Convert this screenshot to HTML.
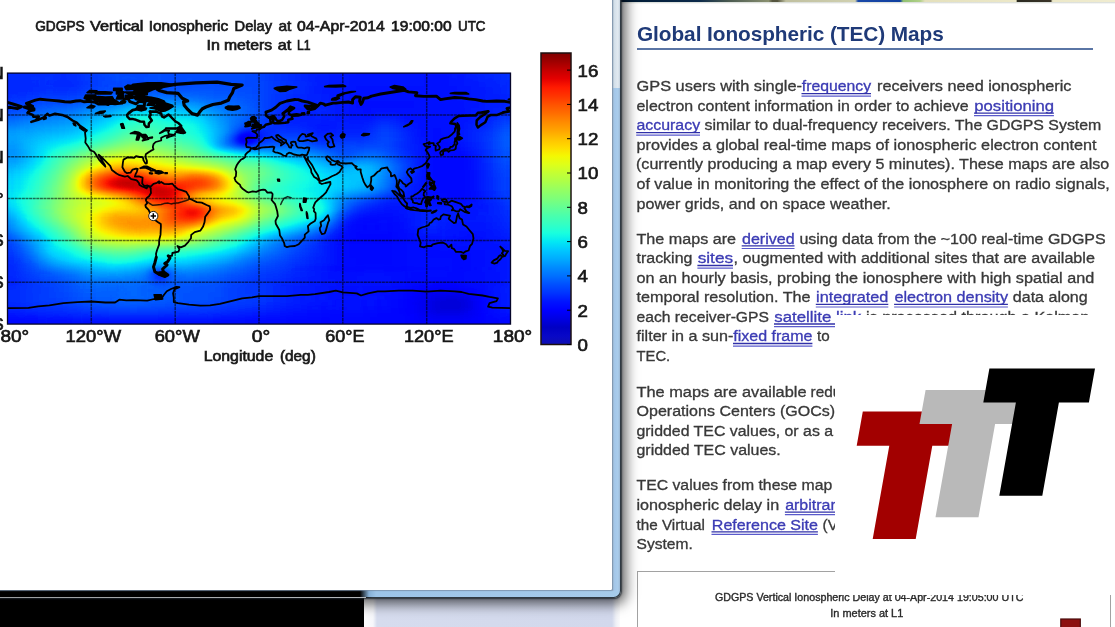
<!DOCTYPE html><html><head><meta charset="utf-8"><title>Global Ionospheric (TEC) Maps</title><style>
html,body{margin:0;padding:0;background:#fff;}
body{width:1115px;height:627px;overflow:hidden;position:relative;font-family:"Liberation Sans",sans-serif;}
.abs{position:absolute;}
#page{position:absolute;left:0;top:0;width:1115px;height:627px;filter:blur(0.35px);}
</style></head><body>
<div id="page">
<div class="abs" style="left:620px;top:0;width:495px;height:2.4px;background:linear-gradient(90deg,#001a35 0,#0c2a4a 16%,#4a5a50 22%,#8a9070 30%,#55553f 30.8%,#55553f 31.8%,#c0c0a0 33.5%,#d0d0b0 47.5%,#1a48a8 48.1%,#1040a0 56.6%,#90c070 57.2%,#b0d088 60.6%,#e4e0bc 61.6%,#ece8c8 80%,#2a2a20 80.3%,#3a3428 87%,#ece8c8 87.4%,#f0ecd0 100%)"></div>
<div class="abs" style="left:620px;top:2.4px;width:495px;height:2px;background:linear-gradient(180deg,rgba(190,198,190,.7),rgba(255,255,255,0))"></div>
<svg class="abs" style="left:620px;top:10px" width="495" height="45" viewBox="620 10 495 45" font-family="Liberation Sans, sans-serif"><text x="637.0" y="41.4" font-size="20.8" font-weight="bold" fill="#1f3a78" textLength="306.8" lengthAdjust="spacing">Global Ionospheric (TEC) Maps</text></svg>
<div class="abs" style="left:637px;top:48.1px;width:455.5px;height:1.8px;background:#5a75a5"></div>
<svg class="abs" style="left:620px;top:60px" width="495" height="510" viewBox="620 60 495 510" font-family="Liberation Sans, sans-serif" font-size="15.3" fill="#383838"><g stroke="#383838" stroke-width="0.32" paint-order="stroke"><text x="636.5" y="91.3" textLength="165.5" lengthAdjust="spacingAndGlyphs">GPS users with single-</text><text x="801.8" y="91.3" textLength="69.3" lengthAdjust="spacingAndGlyphs" fill="#3b3bb4" stroke="#3b3bb4">frequency</text><path d="M801.5,95.4H871.0" stroke="#fff" stroke-width="2.6"/><path d="M801.5,93.6H871.0" stroke="#3030a8" stroke-width="1.3"/><path d="M801.5,96.2H871.0" stroke="#5a5acc" stroke-width="1.2"/><text x="877.0" y="91.3" textLength="194.4" lengthAdjust="spacingAndGlyphs">receivers need ionospheric</text><text x="636.5" y="110.8" textLength="332.1" lengthAdjust="spacingAndGlyphs">electron content information in order to achieve</text><text x="974.3" y="110.8" textLength="79.7" lengthAdjust="spacingAndGlyphs" fill="#3b3bb4" stroke="#3b3bb4">positioning</text><path d="M974.0,114.9H1053.9" stroke="#fff" stroke-width="2.6"/><path d="M974.0,113.1H1053.9" stroke="#3030a8" stroke-width="1.3"/><path d="M974.0,115.7H1053.9" stroke="#5a5acc" stroke-width="1.2"/><text x="636.5" y="130.3" textLength="63.6" lengthAdjust="spacingAndGlyphs" fill="#3b3bb4" stroke="#3b3bb4">accuracy</text><path d="M636.2,134.4H700.0" stroke="#fff" stroke-width="2.6"/><path d="M636.2,132.6H700.0" stroke="#3030a8" stroke-width="1.3"/><path d="M636.2,135.2H700.0" stroke="#5a5acc" stroke-width="1.2"/><text x="704.6" y="130.3" textLength="396.7" lengthAdjust="spacingAndGlyphs">similar to dual-frequency receivers. The GDGPS System</text><text x="636.5" y="149.8" textLength="460.1" lengthAdjust="spacingAndGlyphs">provides a global real-time maps of ionospheric electron content</text><text x="636.0" y="169.4" textLength="473.2" lengthAdjust="spacingAndGlyphs">(currently producing a map every 5 minutes). These maps are also</text><text x="636.5" y="188.9" textLength="473.2" lengthAdjust="spacingAndGlyphs">of value in monitoring the effect of the ionosphere on radio signals,</text><text x="636.5" y="208.5" textLength="254.3" lengthAdjust="spacingAndGlyphs">power grids, and on space weather.</text><text x="636.5" y="243.6" textLength="99.5" lengthAdjust="spacingAndGlyphs">The maps are</text><text x="742.0" y="243.6" textLength="52.6" lengthAdjust="spacingAndGlyphs" fill="#3b3bb4" stroke="#3b3bb4">derived</text><path d="M741.7,247.7H794.5" stroke="#fff" stroke-width="2.6"/><path d="M741.7,245.9H794.5" stroke="#3030a8" stroke-width="1.3"/><path d="M741.7,248.5H794.5" stroke="#5a5acc" stroke-width="1.2"/><text x="799.4" y="243.6" textLength="306.3" lengthAdjust="spacingAndGlyphs">using data from the ~100 real-time GDGPS</text><text x="636.5" y="263.2" textLength="55.9" lengthAdjust="spacingAndGlyphs">tracking</text><text x="697.7" y="263.2" textLength="35.4" lengthAdjust="spacingAndGlyphs" fill="#3b3bb4" stroke="#3b3bb4">sites</text><path d="M697.4,267.3H733.0" stroke="#fff" stroke-width="2.6"/><path d="M697.4,265.5H733.0" stroke="#3030a8" stroke-width="1.3"/><path d="M697.4,268.1H733.0" stroke="#5a5acc" stroke-width="1.2"/><text x="733.6" y="263.2" textLength="361.3" lengthAdjust="spacingAndGlyphs">, ougmented with additional sites that are available</text><text x="636.5" y="282.6" textLength="457.7" lengthAdjust="spacingAndGlyphs">on an hourly basis, probing the ionosphere with high spatial and</text><text x="636.5" y="302.1" textLength="174.1" lengthAdjust="spacingAndGlyphs">temporal resolution. The</text><text x="816.1" y="302.1" textLength="72.3" lengthAdjust="spacingAndGlyphs" fill="#3b3bb4" stroke="#3b3bb4">integrated</text><path d="M815.8,306.2H888.3" stroke="#fff" stroke-width="2.6"/><path d="M815.8,304.4H888.3" stroke="#3030a8" stroke-width="1.3"/><path d="M815.8,307.0H888.3" stroke="#5a5acc" stroke-width="1.2"/><text x="894.4" y="302.1" textLength="113.6" lengthAdjust="spacingAndGlyphs" fill="#3b3bb4" stroke="#3b3bb4">electron density</text><path d="M894.1,306.2H1007.9" stroke="#fff" stroke-width="2.6"/><path d="M894.1,304.4H1007.9" stroke="#3030a8" stroke-width="1.3"/><path d="M894.1,307.0H1007.9" stroke="#5a5acc" stroke-width="1.2"/><text x="1012.8" y="302.1" textLength="74.9" lengthAdjust="spacingAndGlyphs">data along</text><text x="636.5" y="321.7" textLength="132.5" lengthAdjust="spacingAndGlyphs">each receiver-GPS</text><text x="774.3" y="321.7" textLength="86.9" lengthAdjust="spacingAndGlyphs" fill="#3b3bb4" stroke="#3b3bb4">satellite link</text><path d="M774.0,325.8H861.1" stroke="#fff" stroke-width="2.6"/><path d="M774.0,324.0H861.1" stroke="#3030a8" stroke-width="1.3"/><path d="M774.0,326.6H861.1" stroke="#5a5acc" stroke-width="1.2"/><text x="866.0" y="321.7" textLength="223.4" lengthAdjust="spacingAndGlyphs">is processed through a Kalman</text><text x="636.5" y="341.2" textLength="96.8" lengthAdjust="spacingAndGlyphs">filter in a sun-</text><text x="733.3" y="341.2" textLength="79.2" lengthAdjust="spacingAndGlyphs" fill="#3b3bb4" stroke="#3b3bb4">fixed frame</text><path d="M733.0,345.3H812.4" stroke="#fff" stroke-width="2.6"/><path d="M733.0,343.5H812.4" stroke="#3030a8" stroke-width="1.3"/><path d="M733.0,346.1H812.4" stroke="#5a5acc" stroke-width="1.2"/><text x="817.0" y="341.2" textLength="12.7" lengthAdjust="spacingAndGlyphs">to</text><text x="636.5" y="360.7" textLength="33.7" lengthAdjust="spacingAndGlyphs">TEC.</text><text x="636.5" y="396.8" textLength="170.0" lengthAdjust="spacingAndGlyphs">The maps are available</text><text x="810.6" y="396.8">reduced</text><text x="636.5" y="416.4" textLength="198.7" lengthAdjust="spacingAndGlyphs">Operations Centers (GOCs)</text><text x="636.5" y="435.8" textLength="196.6" lengthAdjust="spacingAndGlyphs">gridded TEC values, or as a</text><text x="636.5" y="455.3" textLength="144.2" lengthAdjust="spacingAndGlyphs">gridded TEC values.</text><text x="636.5" y="490.2" textLength="195.7" lengthAdjust="spacingAndGlyphs">TEC values from these map</text><text x="636.5" y="509.8" textLength="142.7" lengthAdjust="spacingAndGlyphs">ionospheric delay in</text><text x="785.2" y="509.8" textLength="58.5" lengthAdjust="spacingAndGlyphs" fill="#3b3bb4" stroke="#3b3bb4">arbitrary</text><path d="M784.9,513.9H843.6" stroke="#fff" stroke-width="2.6"/><path d="M784.9,512.1H843.6" stroke="#3030a8" stroke-width="1.3"/><path d="M784.9,514.7H843.6" stroke="#5a5acc" stroke-width="1.2"/><text x="636.5" y="529.5" textLength="68.4" lengthAdjust="spacingAndGlyphs">the Virtual</text><text x="711.8" y="529.5" textLength="106.2" lengthAdjust="spacingAndGlyphs" fill="#3b3bb4" stroke="#3b3bb4">Reference Site</text><path d="M711.5,533.6H817.9" stroke="#fff" stroke-width="2.6"/><path d="M711.5,531.8H817.9" stroke="#3030a8" stroke-width="1.3"/><path d="M711.5,534.4H817.9" stroke="#5a5acc" stroke-width="1.2"/><text x="822.6" y="529.5">(VRS)</text><text x="636.5" y="549.2" textLength="56.2" lengthAdjust="spacingAndGlyphs">System.</text></g></svg>
<div class="abs" style="left:636.7px;top:570.5px;width:474px;height:80px;border:1.4px solid #a2a2a2;box-sizing:border-box"></div>
<svg class="abs" style="left:620px;top:560px" width="495" height="67" viewBox="620 560 495 67" font-family="Liberation Sans, sans-serif" fill="#2a2a2a" stroke="#2a2a2a" stroke-width="0.35" font-size="10.2"><text x="714.9" y="600.6" textLength="308.5" lengthAdjust="spacingAndGlyphs">GDGPS Vertical Ionospheric Delay at 04-Apr-2014 19:05:00 UTC</text><text x="830.3" y="617.3" textLength="73" lengthAdjust="spacingAndGlyphs">In meters at L1</text><rect x="1060.8" y="619" width="19.5" height="10" fill="#8c1010" stroke="#4a0c0c" stroke-width="1.2"/></svg>
</div>
<div class="abs" style="left:835px;top:314.7px;width:280px;height:280px;background:#fff"></div>
<svg class="abs" style="left:835px;top:318px;filter:blur(0.3px)" width="280" height="277" viewBox="835 318 280 277"><polygon points="862.8,411.6 968.4,411.6 962.3,445.7 932.3,445.7 915.7,538.9 872.7,538.9 889.3,445.7 856.7,445.7" fill="#a20000"/><polygon points="925.6,389.9 1031.2,389.9 1025.1,424.0 995.1,424.0 978.5,517.2 935.5,517.2 952.1,424.0 919.5,424.0" fill="#b9b9b9"/><polygon points="989.4,368.5 1095.0,368.5 1088.9,402.6 1058.9,402.6 1042.3,495.8 999.3,495.8 1015.9,402.6 983.3,402.6" fill="#000"/></svg>
<div class="abs" style="left:0;top:585px;width:364.2px;height:42px;background:#000"></div>
<div class="abs" style="left:364.2px;top:590px;width:256px;height:37px;background:linear-gradient(90deg,#fdfdfe 0,#f6f7fb 9px,#d6dcee 13px,#d2d8ec 248px,#eef0f6 252px,#fafafc 256px)"></div>
<div class="abs" style="left:-20px;top:-20px;width:640.6px;height:617.8px;border-radius:0 0 7px 0;box-shadow:0 0 1.5px 0.5px rgba(30,38,46,.8), 2px 3px 13px 3px rgba(0,0,0,.62);background:linear-gradient(90deg,#000 0,#000 381px,#2f3942 392px)"></div>
<div class="abs" style="left:-20px;top:-20px;width:640px;height:617.2px;border-radius:0 0 6.5px 0;background:linear-gradient(90deg,#000 0,#000 380px,#86b0d6 389px,#9cc4e8 396px,#a6cbea 100%)"></div>
<div class="abs" style="left:0;top:597px;width:366px;height:1.4px;background:linear-gradient(90deg,#9a9da0 0,#b4b8bc 100%)"></div>
<div class="abs" style="left:612.3px;top:0;width:7.7px;height:591px;background:linear-gradient(90deg,#9fb6cc 0,#a3c6e8 30%,#aacdec 75%,#9ab6d2 100%)"></div>
<div class="abs" style="left:612.3px;top:0;width:7.7px;height:88px;background:linear-gradient(90deg,#a9bac8 0,#d3dfe9 30%,#e2eaf1 75%,#c3d0dc 100%)"></div>
<div class="abs" style="left:0;top:0;width:612.3px;height:590.4px;background:#fff;border-radius:0 0 1.5px 0;box-shadow:0 0 1px 0.3px rgba(120,140,165,.8)"></div>
<svg width="620" height="600" viewBox="0 0 620 600" style="position:absolute;left:0;top:0;filter:blur(0.4px)" font-family="Liberation Sans, sans-serif" fill="#1a1a1a">
<defs><filter id="jet" x="0" y="0" width="100%" height="100%" filterUnits="userSpaceOnUse" color-interpolation-filters="sRGB"><feGaussianBlur stdDeviation="3.2"/><feComponentTransfer><feFuncR type="table" tableValues="0 0 0 0 0 0 0 0 0 0 0 0 0 0 0 0 0 0 0.009 0.073 0.136 0.199 0.262 0.326 0.389 0.452 0.515 0.579 0.642 0.705 0.769 0.832 0.895 0.958 1 1 1 1 1 1 1 1 1 1 1 1 0.946 0.857 0.767 0.678 0.589 0.5"/><feFuncG type="table" tableValues="0 0 0 0 0 0 0 0.049 0.127 0.206 0.284 0.363 0.441 0.52 0.598 0.676 0.755 0.833 0.912 0.99 1 1 1 1 1 1 1 1 1 1 1 1 1 0.974 0.901 0.829 0.756 0.683 0.611 0.538 0.466 0.393 0.32 0.248 0.175 0.102 0.03 0 0 0 0 0"/><feFuncB type="table" tableValues="0.5 0.589 0.678 0.767 0.857 0.946 1 1 1 1 1 1 1 1 1 1 1 1 0.958 0.895 0.832 0.769 0.705 0.642 0.579 0.515 0.452 0.389 0.326 0.262 0.199 0.136 0.073 0.009 0 0 0 0 0 0 0 0 0 0 0 0 0 0 0 0 0 0"/><feFuncA type="linear" slope="0" intercept="1"/></feComponentTransfer></filter><linearGradient id="cb" x1="0" y1="0" x2="0" y2="1"><stop offset="0.0000" stop-color="#800000"/><stop offset="0.0294" stop-color="#9f0000"/><stop offset="0.0588" stop-color="#c40000"/><stop offset="0.0882" stop-color="#e40000"/><stop offset="0.1176" stop-color="#ff1a00"/><stop offset="0.1471" stop-color="#ff3400"/><stop offset="0.1765" stop-color="#ff5200"/><stop offset="0.2059" stop-color="#ff6c00"/><stop offset="0.2353" stop-color="#ff8900"/><stop offset="0.2647" stop-color="#ffa300"/><stop offset="0.2941" stop-color="#ffc100"/><stop offset="0.3235" stop-color="#ffdb00"/><stop offset="0.3529" stop-color="#f4f802"/><stop offset="0.3824" stop-color="#deff19"/><stop offset="0.4118" stop-color="#c4ff33"/><stop offset="0.4412" stop-color="#adff49"/><stop offset="0.4706" stop-color="#94ff63"/><stop offset="0.5000" stop-color="#7dff7a"/><stop offset="0.5294" stop-color="#63ff94"/><stop offset="0.5588" stop-color="#49ffad"/><stop offset="0.5882" stop-color="#33ffc4"/><stop offset="0.6176" stop-color="#19ffde"/><stop offset="0.6471" stop-color="#02e8f4"/><stop offset="0.6765" stop-color="#00c8ff"/><stop offset="0.7059" stop-color="#00acff"/><stop offset="0.7353" stop-color="#008cff"/><stop offset="0.7647" stop-color="#0070ff"/><stop offset="0.7941" stop-color="#0050ff"/><stop offset="0.8235" stop-color="#0034ff"/><stop offset="0.8529" stop-color="#0014ff"/><stop offset="0.8824" stop-color="#0000ff"/><stop offset="0.9118" stop-color="#0000e3"/><stop offset="0.9412" stop-color="#0000c4"/><stop offset="0.9706" stop-color="#0808c7"/><stop offset="1.0000" stop-color="#0f0fb2"/></linearGradient><clipPath id="mc"><rect x="7.5" y="73.1" width="503.0" height="251.0"/></clipPath><filter id="soft" x="-5%" y="-5%" width="110%" height="110%"><feGaussianBlur stdDeviation="0.7"/></filter><filter id="soft2"><feGaussianBlur stdDeviation="0.35"/></filter></defs>
<g clip-path="url(#mc)"><g filter="url(#jet)"><rect x="-13.5" y="52.2" width="70.2" height="7.3" fill="#2c2c2c"/>
<rect x="56.4" y="52.2" width="14.3" height="7.3" fill="#2b2b2b"/>
<rect x="70.4" y="52.2" width="7.3" height="7.3" fill="#2c2c2c"/>
<rect x="77.4" y="52.2" width="7.3" height="7.3" fill="#2d2d2d"/>
<rect x="84.3" y="52.2" width="7.3" height="7.3" fill="#2f2f2f"/>
<rect x="91.3" y="52.2" width="7.3" height="7.3" fill="#303030"/>
<rect x="98.3" y="52.2" width="7.3" height="7.3" fill="#313131"/>
<rect x="105.3" y="52.2" width="7.3" height="7.3" fill="#323232"/>
<rect x="112.3" y="52.2" width="42.2" height="7.3" fill="#333333"/>
<rect x="154.2" y="52.2" width="84.1" height="7.3" fill="#343434"/>
<rect x="238.0" y="52.2" width="14.3" height="7.3" fill="#333333"/>
<rect x="252.0" y="52.2" width="7.3" height="7.3" fill="#323232"/>
<rect x="259.0" y="52.2" width="7.3" height="7.3" fill="#313131"/>
<rect x="266.0" y="52.2" width="7.3" height="7.3" fill="#2f2f2f"/>
<rect x="273.0" y="52.2" width="7.3" height="7.3" fill="#2e2e2e"/>
<rect x="280.0" y="52.2" width="7.3" height="7.3" fill="#2d2d2d"/>
<rect x="286.9" y="52.2" width="7.3" height="7.3" fill="#2c2c2c"/>
<rect x="293.9" y="52.2" width="7.3" height="7.3" fill="#2b2b2b"/>
<rect x="300.9" y="52.2" width="7.3" height="7.3" fill="#2a2a2a"/>
<rect x="307.9" y="52.2" width="7.3" height="7.3" fill="#292929"/>
<rect x="314.9" y="52.2" width="14.3" height="7.3" fill="#282828"/>
<rect x="328.9" y="52.2" width="14.3" height="7.3" fill="#272727"/>
<rect x="342.8" y="52.2" width="14.3" height="7.3" fill="#262626"/>
<rect x="356.8" y="52.2" width="98.1" height="7.3" fill="#252525"/>
<rect x="454.6" y="52.2" width="14.3" height="7.3" fill="#262626"/>
<rect x="468.6" y="52.2" width="7.3" height="7.3" fill="#272727"/>
<rect x="475.6" y="52.2" width="7.3" height="7.3" fill="#282828"/>
<rect x="482.6" y="52.2" width="7.3" height="7.3" fill="#292929"/>
<rect x="489.5" y="52.2" width="7.3" height="7.3" fill="#2a2a2a"/>
<rect x="496.5" y="52.2" width="7.3" height="7.3" fill="#2b2b2b"/>
<rect x="503.5" y="52.2" width="28.2" height="7.3" fill="#2c2c2c"/>
<rect x="-13.5" y="59.2" width="70.2" height="7.3" fill="#2c2c2c"/>
<rect x="56.4" y="59.2" width="14.3" height="7.3" fill="#2b2b2b"/>
<rect x="70.4" y="59.2" width="7.3" height="7.3" fill="#2c2c2c"/>
<rect x="77.4" y="59.2" width="7.3" height="7.3" fill="#2d2d2d"/>
<rect x="84.3" y="59.2" width="7.3" height="7.3" fill="#2f2f2f"/>
<rect x="91.3" y="59.2" width="7.3" height="7.3" fill="#303030"/>
<rect x="98.3" y="59.2" width="7.3" height="7.3" fill="#313131"/>
<rect x="105.3" y="59.2" width="7.3" height="7.3" fill="#323232"/>
<rect x="112.3" y="59.2" width="42.2" height="7.3" fill="#333333"/>
<rect x="154.2" y="59.2" width="84.1" height="7.3" fill="#343434"/>
<rect x="238.0" y="59.2" width="14.3" height="7.3" fill="#333333"/>
<rect x="252.0" y="59.2" width="7.3" height="7.3" fill="#323232"/>
<rect x="259.0" y="59.2" width="7.3" height="7.3" fill="#313131"/>
<rect x="266.0" y="59.2" width="7.3" height="7.3" fill="#2f2f2f"/>
<rect x="273.0" y="59.2" width="7.3" height="7.3" fill="#2e2e2e"/>
<rect x="280.0" y="59.2" width="7.3" height="7.3" fill="#2d2d2d"/>
<rect x="286.9" y="59.2" width="7.3" height="7.3" fill="#2c2c2c"/>
<rect x="293.9" y="59.2" width="7.3" height="7.3" fill="#2b2b2b"/>
<rect x="300.9" y="59.2" width="7.3" height="7.3" fill="#2a2a2a"/>
<rect x="307.9" y="59.2" width="7.3" height="7.3" fill="#292929"/>
<rect x="314.9" y="59.2" width="14.3" height="7.3" fill="#282828"/>
<rect x="328.9" y="59.2" width="14.3" height="7.3" fill="#272727"/>
<rect x="342.8" y="59.2" width="14.3" height="7.3" fill="#262626"/>
<rect x="356.8" y="59.2" width="98.1" height="7.3" fill="#252525"/>
<rect x="454.6" y="59.2" width="14.3" height="7.3" fill="#262626"/>
<rect x="468.6" y="59.2" width="7.3" height="7.3" fill="#272727"/>
<rect x="475.6" y="59.2" width="7.3" height="7.3" fill="#282828"/>
<rect x="482.6" y="59.2" width="7.3" height="7.3" fill="#292929"/>
<rect x="489.5" y="59.2" width="7.3" height="7.3" fill="#2a2a2a"/>
<rect x="496.5" y="59.2" width="7.3" height="7.3" fill="#2b2b2b"/>
<rect x="503.5" y="59.2" width="28.2" height="7.3" fill="#2c2c2c"/>
<rect x="-13.5" y="66.1" width="70.2" height="7.3" fill="#2c2c2c"/>
<rect x="56.4" y="66.1" width="14.3" height="7.3" fill="#2b2b2b"/>
<rect x="70.4" y="66.1" width="7.3" height="7.3" fill="#2c2c2c"/>
<rect x="77.4" y="66.1" width="7.3" height="7.3" fill="#2d2d2d"/>
<rect x="84.3" y="66.1" width="7.3" height="7.3" fill="#2f2f2f"/>
<rect x="91.3" y="66.1" width="7.3" height="7.3" fill="#303030"/>
<rect x="98.3" y="66.1" width="7.3" height="7.3" fill="#313131"/>
<rect x="105.3" y="66.1" width="7.3" height="7.3" fill="#323232"/>
<rect x="112.3" y="66.1" width="42.2" height="7.3" fill="#333333"/>
<rect x="154.2" y="66.1" width="84.1" height="7.3" fill="#343434"/>
<rect x="238.0" y="66.1" width="14.3" height="7.3" fill="#333333"/>
<rect x="252.0" y="66.1" width="7.3" height="7.3" fill="#323232"/>
<rect x="259.0" y="66.1" width="7.3" height="7.3" fill="#313131"/>
<rect x="266.0" y="66.1" width="7.3" height="7.3" fill="#2f2f2f"/>
<rect x="273.0" y="66.1" width="7.3" height="7.3" fill="#2e2e2e"/>
<rect x="280.0" y="66.1" width="7.3" height="7.3" fill="#2d2d2d"/>
<rect x="286.9" y="66.1" width="7.3" height="7.3" fill="#2c2c2c"/>
<rect x="293.9" y="66.1" width="7.3" height="7.3" fill="#2b2b2b"/>
<rect x="300.9" y="66.1" width="7.3" height="7.3" fill="#2a2a2a"/>
<rect x="307.9" y="66.1" width="7.3" height="7.3" fill="#292929"/>
<rect x="314.9" y="66.1" width="14.3" height="7.3" fill="#282828"/>
<rect x="328.9" y="66.1" width="14.3" height="7.3" fill="#272727"/>
<rect x="342.8" y="66.1" width="14.3" height="7.3" fill="#262626"/>
<rect x="356.8" y="66.1" width="98.1" height="7.3" fill="#252525"/>
<rect x="454.6" y="66.1" width="14.3" height="7.3" fill="#262626"/>
<rect x="468.6" y="66.1" width="7.3" height="7.3" fill="#272727"/>
<rect x="475.6" y="66.1" width="7.3" height="7.3" fill="#282828"/>
<rect x="482.6" y="66.1" width="7.3" height="7.3" fill="#292929"/>
<rect x="489.5" y="66.1" width="7.3" height="7.3" fill="#2a2a2a"/>
<rect x="496.5" y="66.1" width="7.3" height="7.3" fill="#2b2b2b"/>
<rect x="503.5" y="66.1" width="28.2" height="7.3" fill="#2c2c2c"/>
<rect x="-13.5" y="73.1" width="70.2" height="7.3" fill="#2c2c2c"/>
<rect x="56.4" y="73.1" width="14.3" height="7.3" fill="#2b2b2b"/>
<rect x="70.4" y="73.1" width="7.3" height="7.3" fill="#2c2c2c"/>
<rect x="77.4" y="73.1" width="7.3" height="7.3" fill="#2d2d2d"/>
<rect x="84.3" y="73.1" width="7.3" height="7.3" fill="#2f2f2f"/>
<rect x="91.3" y="73.1" width="7.3" height="7.3" fill="#303030"/>
<rect x="98.3" y="73.1" width="7.3" height="7.3" fill="#313131"/>
<rect x="105.3" y="73.1" width="7.3" height="7.3" fill="#323232"/>
<rect x="112.3" y="73.1" width="42.2" height="7.3" fill="#333333"/>
<rect x="154.2" y="73.1" width="84.1" height="7.3" fill="#343434"/>
<rect x="238.0" y="73.1" width="14.3" height="7.3" fill="#333333"/>
<rect x="252.0" y="73.1" width="7.3" height="7.3" fill="#323232"/>
<rect x="259.0" y="73.1" width="7.3" height="7.3" fill="#313131"/>
<rect x="266.0" y="73.1" width="7.3" height="7.3" fill="#2f2f2f"/>
<rect x="273.0" y="73.1" width="7.3" height="7.3" fill="#2e2e2e"/>
<rect x="280.0" y="73.1" width="7.3" height="7.3" fill="#2d2d2d"/>
<rect x="286.9" y="73.1" width="7.3" height="7.3" fill="#2c2c2c"/>
<rect x="293.9" y="73.1" width="7.3" height="7.3" fill="#2b2b2b"/>
<rect x="300.9" y="73.1" width="7.3" height="7.3" fill="#2a2a2a"/>
<rect x="307.9" y="73.1" width="7.3" height="7.3" fill="#292929"/>
<rect x="314.9" y="73.1" width="14.3" height="7.3" fill="#282828"/>
<rect x="328.9" y="73.1" width="14.3" height="7.3" fill="#272727"/>
<rect x="342.8" y="73.1" width="14.3" height="7.3" fill="#262626"/>
<rect x="356.8" y="73.1" width="98.1" height="7.3" fill="#252525"/>
<rect x="454.6" y="73.1" width="14.3" height="7.3" fill="#262626"/>
<rect x="468.6" y="73.1" width="7.3" height="7.3" fill="#272727"/>
<rect x="475.6" y="73.1" width="7.3" height="7.3" fill="#282828"/>
<rect x="482.6" y="73.1" width="7.3" height="7.3" fill="#292929"/>
<rect x="489.5" y="73.1" width="7.3" height="7.3" fill="#2a2a2a"/>
<rect x="496.5" y="73.1" width="7.3" height="7.3" fill="#2b2b2b"/>
<rect x="503.5" y="73.1" width="28.2" height="7.3" fill="#2c2c2c"/>
<rect x="-13.5" y="80.1" width="49.2" height="7.3" fill="#2a2a2a"/>
<rect x="35.4" y="80.1" width="14.3" height="7.3" fill="#2b2b2b"/>
<rect x="49.4" y="80.1" width="28.2" height="7.3" fill="#2a2a2a"/>
<rect x="77.4" y="80.1" width="7.3" height="7.3" fill="#2c2c2c"/>
<rect x="84.3" y="80.1" width="7.3" height="7.3" fill="#2d2d2d"/>
<rect x="91.3" y="80.1" width="7.3" height="7.3" fill="#2f2f2f"/>
<rect x="98.3" y="80.1" width="14.3" height="7.3" fill="#303030"/>
<rect x="112.3" y="80.1" width="14.3" height="7.3" fill="#313131"/>
<rect x="126.3" y="80.1" width="7.3" height="7.3" fill="#303030"/>
<rect x="133.2" y="80.1" width="14.3" height="7.3" fill="#313131"/>
<rect x="147.2" y="80.1" width="42.2" height="7.3" fill="#323232"/>
<rect x="189.1" y="80.1" width="56.2" height="7.3" fill="#333333"/>
<rect x="245.0" y="80.1" width="14.3" height="7.3" fill="#323232"/>
<rect x="259.0" y="80.1" width="7.3" height="7.3" fill="#313131"/>
<rect x="266.0" y="80.1" width="7.3" height="7.3" fill="#2f2f2f"/>
<rect x="273.0" y="80.1" width="7.3" height="7.3" fill="#2e2e2e"/>
<rect x="280.0" y="80.1" width="7.3" height="7.3" fill="#2d2d2d"/>
<rect x="286.9" y="80.1" width="7.3" height="7.3" fill="#2c2c2c"/>
<rect x="293.9" y="80.1" width="7.3" height="7.3" fill="#2b2b2b"/>
<rect x="300.9" y="80.1" width="7.3" height="7.3" fill="#2a2a2a"/>
<rect x="307.9" y="80.1" width="7.3" height="7.3" fill="#292929"/>
<rect x="314.9" y="80.1" width="14.3" height="7.3" fill="#272727"/>
<rect x="328.9" y="80.1" width="21.3" height="7.3" fill="#262626"/>
<rect x="349.8" y="80.1" width="77.1" height="7.3" fill="#252525"/>
<rect x="426.7" y="80.1" width="21.3" height="7.3" fill="#242424"/>
<rect x="447.6" y="80.1" width="14.3" height="7.3" fill="#252525"/>
<rect x="461.6" y="80.1" width="14.3" height="7.3" fill="#262626"/>
<rect x="475.6" y="80.1" width="7.3" height="7.3" fill="#272727"/>
<rect x="482.6" y="80.1" width="14.3" height="7.3" fill="#282828"/>
<rect x="496.5" y="80.1" width="7.3" height="7.3" fill="#292929"/>
<rect x="503.5" y="80.1" width="28.2" height="7.3" fill="#2a2a2a"/>
<rect x="-13.5" y="87.0" width="42.2" height="7.3" fill="#2a2a2a"/>
<rect x="28.5" y="87.0" width="14.3" height="7.3" fill="#2b2b2b"/>
<rect x="42.4" y="87.0" width="14.3" height="7.3" fill="#2c2c2c"/>
<rect x="56.4" y="87.0" width="14.3" height="7.3" fill="#2b2b2b"/>
<rect x="70.4" y="87.0" width="7.3" height="7.3" fill="#2c2c2c"/>
<rect x="77.4" y="87.0" width="7.3" height="7.3" fill="#2d2d2d"/>
<rect x="84.3" y="87.0" width="7.3" height="7.3" fill="#2f2f2f"/>
<rect x="91.3" y="87.0" width="7.3" height="7.3" fill="#303030"/>
<rect x="98.3" y="87.0" width="7.3" height="7.3" fill="#313131"/>
<rect x="105.3" y="87.0" width="14.3" height="7.3" fill="#323232"/>
<rect x="119.3" y="87.0" width="21.3" height="7.3" fill="#333333"/>
<rect x="140.2" y="87.0" width="14.3" height="7.3" fill="#343434"/>
<rect x="154.2" y="87.0" width="63.2" height="7.3" fill="#353535"/>
<rect x="217.1" y="87.0" width="21.3" height="7.3" fill="#343434"/>
<rect x="238.0" y="87.0" width="14.3" height="7.3" fill="#333333"/>
<rect x="252.0" y="87.0" width="7.3" height="7.3" fill="#323232"/>
<rect x="259.0" y="87.0" width="7.3" height="7.3" fill="#313131"/>
<rect x="266.0" y="87.0" width="7.3" height="7.3" fill="#2f2f2f"/>
<rect x="273.0" y="87.0" width="7.3" height="7.3" fill="#2e2e2e"/>
<rect x="280.0" y="87.0" width="7.3" height="7.3" fill="#2d2d2d"/>
<rect x="286.9" y="87.0" width="7.3" height="7.3" fill="#2c2c2c"/>
<rect x="293.9" y="87.0" width="7.3" height="7.3" fill="#2b2b2b"/>
<rect x="300.9" y="87.0" width="7.3" height="7.3" fill="#2a2a2a"/>
<rect x="307.9" y="87.0" width="7.3" height="7.3" fill="#282828"/>
<rect x="314.9" y="87.0" width="7.3" height="7.3" fill="#272727"/>
<rect x="321.9" y="87.0" width="21.3" height="7.3" fill="#262626"/>
<rect x="342.8" y="87.0" width="14.3" height="7.3" fill="#252525"/>
<rect x="356.8" y="87.0" width="98.1" height="7.3" fill="#242424"/>
<rect x="454.6" y="87.0" width="14.3" height="7.3" fill="#252525"/>
<rect x="468.6" y="87.0" width="14.3" height="7.3" fill="#262626"/>
<rect x="482.6" y="87.0" width="7.3" height="7.3" fill="#272727"/>
<rect x="489.5" y="87.0" width="7.3" height="7.3" fill="#282828"/>
<rect x="496.5" y="87.0" width="7.3" height="7.3" fill="#292929"/>
<rect x="503.5" y="87.0" width="28.2" height="7.3" fill="#2a2a2a"/>
<rect x="-13.5" y="94.0" width="28.2" height="7.3" fill="#2b2b2b"/>
<rect x="14.5" y="94.0" width="14.3" height="7.3" fill="#2c2c2c"/>
<rect x="28.5" y="94.0" width="7.3" height="7.3" fill="#2d2d2d"/>
<rect x="35.4" y="94.0" width="7.3" height="7.3" fill="#2e2e2e"/>
<rect x="42.4" y="94.0" width="28.2" height="7.3" fill="#2f2f2f"/>
<rect x="70.4" y="94.0" width="7.3" height="7.3" fill="#303030"/>
<rect x="77.4" y="94.0" width="7.3" height="7.3" fill="#313131"/>
<rect x="84.3" y="94.0" width="7.3" height="7.3" fill="#333333"/>
<rect x="91.3" y="94.0" width="7.3" height="7.3" fill="#353535"/>
<rect x="98.3" y="94.0" width="7.3" height="7.3" fill="#363636"/>
<rect x="105.3" y="94.0" width="7.3" height="7.3" fill="#373737"/>
<rect x="112.3" y="94.0" width="7.3" height="7.3" fill="#383838"/>
<rect x="119.3" y="94.0" width="7.3" height="7.3" fill="#393939"/>
<rect x="126.3" y="94.0" width="7.3" height="7.3" fill="#3a3a3a"/>
<rect x="133.2" y="94.0" width="21.3" height="7.3" fill="#3b3b3b"/>
<rect x="154.2" y="94.0" width="14.3" height="7.3" fill="#3c3c3c"/>
<rect x="168.2" y="94.0" width="28.2" height="7.3" fill="#3b3b3b"/>
<rect x="196.1" y="94.0" width="7.3" height="7.3" fill="#3a3a3a"/>
<rect x="203.1" y="94.0" width="7.3" height="7.3" fill="#393939"/>
<rect x="210.1" y="94.0" width="7.3" height="7.3" fill="#383838"/>
<rect x="217.1" y="94.0" width="14.3" height="7.3" fill="#373737"/>
<rect x="231.1" y="94.0" width="7.3" height="7.3" fill="#363636"/>
<rect x="238.0" y="94.0" width="7.3" height="7.3" fill="#353535"/>
<rect x="245.0" y="94.0" width="7.3" height="7.3" fill="#343434"/>
<rect x="252.0" y="94.0" width="7.3" height="7.3" fill="#333333"/>
<rect x="259.0" y="94.0" width="7.3" height="7.3" fill="#313131"/>
<rect x="266.0" y="94.0" width="7.3" height="7.3" fill="#2f2f2f"/>
<rect x="273.0" y="94.0" width="7.3" height="7.3" fill="#2d2d2d"/>
<rect x="280.0" y="94.0" width="7.3" height="7.3" fill="#2c2c2c"/>
<rect x="286.9" y="94.0" width="7.3" height="7.3" fill="#2b2b2b"/>
<rect x="293.9" y="94.0" width="7.3" height="7.3" fill="#2a2a2a"/>
<rect x="300.9" y="94.0" width="7.3" height="7.3" fill="#292929"/>
<rect x="307.9" y="94.0" width="14.3" height="7.3" fill="#282828"/>
<rect x="321.9" y="94.0" width="7.3" height="7.3" fill="#272727"/>
<rect x="328.9" y="94.0" width="14.3" height="7.3" fill="#262626"/>
<rect x="342.8" y="94.0" width="7.3" height="7.3" fill="#252525"/>
<rect x="349.8" y="94.0" width="105.1" height="7.3" fill="#242424"/>
<rect x="454.6" y="94.0" width="14.3" height="7.3" fill="#252525"/>
<rect x="468.6" y="94.0" width="14.3" height="7.3" fill="#262626"/>
<rect x="482.6" y="94.0" width="14.3" height="7.3" fill="#272727"/>
<rect x="496.5" y="94.0" width="7.3" height="7.3" fill="#282828"/>
<rect x="503.5" y="94.0" width="28.2" height="7.3" fill="#292929"/>
<rect x="-13.5" y="101.0" width="28.2" height="7.3" fill="#2e2e2e"/>
<rect x="14.5" y="101.0" width="7.3" height="7.3" fill="#2f2f2f"/>
<rect x="21.5" y="101.0" width="7.3" height="7.3" fill="#303030"/>
<rect x="28.5" y="101.0" width="7.3" height="7.3" fill="#313131"/>
<rect x="35.4" y="101.0" width="7.3" height="7.3" fill="#333333"/>
<rect x="42.4" y="101.0" width="14.3" height="7.3" fill="#343434"/>
<rect x="56.4" y="101.0" width="14.3" height="7.3" fill="#353535"/>
<rect x="70.4" y="101.0" width="7.3" height="7.3" fill="#373737"/>
<rect x="77.4" y="101.0" width="7.3" height="7.3" fill="#383838"/>
<rect x="84.3" y="101.0" width="7.3" height="7.3" fill="#3b3b3b"/>
<rect x="91.3" y="101.0" width="7.3" height="7.3" fill="#3c3c3c"/>
<rect x="98.3" y="101.0" width="7.3" height="7.3" fill="#3e3e3e"/>
<rect x="105.3" y="101.0" width="7.3" height="7.3" fill="#3f3f3f"/>
<rect x="112.3" y="101.0" width="7.3" height="7.3" fill="#414141"/>
<rect x="119.3" y="101.0" width="7.3" height="7.3" fill="#444444"/>
<rect x="126.3" y="101.0" width="7.3" height="7.3" fill="#464646"/>
<rect x="133.2" y="101.0" width="42.2" height="7.3" fill="#474747"/>
<rect x="175.2" y="101.0" width="14.3" height="7.3" fill="#464646"/>
<rect x="189.1" y="101.0" width="7.3" height="7.3" fill="#454545"/>
<rect x="196.1" y="101.0" width="7.3" height="7.3" fill="#434343"/>
<rect x="203.1" y="101.0" width="7.3" height="7.3" fill="#404040"/>
<rect x="210.1" y="101.0" width="7.3" height="7.3" fill="#3e3e3e"/>
<rect x="217.1" y="101.0" width="7.3" height="7.3" fill="#3c3c3c"/>
<rect x="224.1" y="101.0" width="7.3" height="7.3" fill="#3b3b3b"/>
<rect x="231.1" y="101.0" width="7.3" height="7.3" fill="#3a3a3a"/>
<rect x="238.0" y="101.0" width="7.3" height="7.3" fill="#383838"/>
<rect x="245.0" y="101.0" width="7.3" height="7.3" fill="#363636"/>
<rect x="252.0" y="101.0" width="7.3" height="7.3" fill="#343434"/>
<rect x="259.0" y="101.0" width="7.3" height="7.3" fill="#313131"/>
<rect x="266.0" y="101.0" width="7.3" height="7.3" fill="#2f2f2f"/>
<rect x="273.0" y="101.0" width="7.3" height="7.3" fill="#2d2d2d"/>
<rect x="280.0" y="101.0" width="7.3" height="7.3" fill="#2b2b2b"/>
<rect x="286.9" y="101.0" width="7.3" height="7.3" fill="#292929"/>
<rect x="293.9" y="101.0" width="21.3" height="7.3" fill="#282828"/>
<rect x="314.9" y="101.0" width="7.3" height="7.3" fill="#292929"/>
<rect x="321.9" y="101.0" width="7.3" height="7.3" fill="#282828"/>
<rect x="328.9" y="101.0" width="7.3" height="7.3" fill="#272727"/>
<rect x="335.8" y="101.0" width="7.3" height="7.3" fill="#262626"/>
<rect x="342.8" y="101.0" width="7.3" height="7.3" fill="#252525"/>
<rect x="349.8" y="101.0" width="7.3" height="7.3" fill="#242424"/>
<rect x="356.8" y="101.0" width="56.2" height="7.3" fill="#232323"/>
<rect x="412.7" y="101.0" width="49.2" height="7.3" fill="#242424"/>
<rect x="461.6" y="101.0" width="14.3" height="7.3" fill="#252525"/>
<rect x="475.6" y="101.0" width="7.3" height="7.3" fill="#262626"/>
<rect x="482.6" y="101.0" width="14.3" height="7.3" fill="#272727"/>
<rect x="496.5" y="101.0" width="7.3" height="7.3" fill="#282828"/>
<rect x="503.5" y="101.0" width="28.2" height="7.3" fill="#292929"/>
<rect x="-13.5" y="108.0" width="28.2" height="7.3" fill="#323232"/>
<rect x="14.5" y="108.0" width="7.3" height="7.3" fill="#343434"/>
<rect x="21.5" y="108.0" width="7.3" height="7.3" fill="#353535"/>
<rect x="28.5" y="108.0" width="7.3" height="7.3" fill="#373737"/>
<rect x="35.4" y="108.0" width="7.3" height="7.3" fill="#383838"/>
<rect x="42.4" y="108.0" width="7.3" height="7.3" fill="#3a3a3a"/>
<rect x="49.4" y="108.0" width="7.3" height="7.3" fill="#3b3b3b"/>
<rect x="56.4" y="108.0" width="14.3" height="7.3" fill="#3c3c3c"/>
<rect x="70.4" y="108.0" width="7.3" height="7.3" fill="#3e3e3e"/>
<rect x="77.4" y="108.0" width="7.3" height="7.3" fill="#404040"/>
<rect x="84.3" y="108.0" width="7.3" height="7.3" fill="#434343"/>
<rect x="91.3" y="108.0" width="7.3" height="7.3" fill="#454545"/>
<rect x="98.3" y="108.0" width="7.3" height="7.3" fill="#474747"/>
<rect x="105.3" y="108.0" width="7.3" height="7.3" fill="#494949"/>
<rect x="112.3" y="108.0" width="7.3" height="7.3" fill="#4c4c4c"/>
<rect x="119.3" y="108.0" width="7.3" height="7.3" fill="#505050"/>
<rect x="126.3" y="108.0" width="7.3" height="7.3" fill="#535353"/>
<rect x="133.2" y="108.0" width="14.3" height="7.3" fill="#555555"/>
<rect x="147.2" y="108.0" width="14.3" height="7.3" fill="#545454"/>
<rect x="161.2" y="108.0" width="14.3" height="7.3" fill="#535353"/>
<rect x="175.2" y="108.0" width="7.3" height="7.3" fill="#525252"/>
<rect x="182.2" y="108.0" width="7.3" height="7.3" fill="#515151"/>
<rect x="189.1" y="108.0" width="7.3" height="7.3" fill="#4f4f4f"/>
<rect x="196.1" y="108.0" width="7.3" height="7.3" fill="#4c4c4c"/>
<rect x="203.1" y="108.0" width="7.3" height="7.3" fill="#484848"/>
<rect x="210.1" y="108.0" width="7.3" height="7.3" fill="#444444"/>
<rect x="217.1" y="108.0" width="7.3" height="7.3" fill="#414141"/>
<rect x="224.1" y="108.0" width="7.3" height="7.3" fill="#3f3f3f"/>
<rect x="231.1" y="108.0" width="7.3" height="7.3" fill="#3d3d3d"/>
<rect x="238.0" y="108.0" width="7.3" height="7.3" fill="#3a3a3a"/>
<rect x="245.0" y="108.0" width="7.3" height="7.3" fill="#383838"/>
<rect x="252.0" y="108.0" width="7.3" height="7.3" fill="#353535"/>
<rect x="259.0" y="108.0" width="7.3" height="7.3" fill="#323232"/>
<rect x="266.0" y="108.0" width="7.3" height="7.3" fill="#2e2e2e"/>
<rect x="273.0" y="108.0" width="7.3" height="7.3" fill="#2c2c2c"/>
<rect x="280.0" y="108.0" width="7.3" height="7.3" fill="#292929"/>
<rect x="286.9" y="108.0" width="7.3" height="7.3" fill="#282828"/>
<rect x="293.9" y="108.0" width="14.3" height="7.3" fill="#272727"/>
<rect x="307.9" y="108.0" width="7.3" height="7.3" fill="#282828"/>
<rect x="314.9" y="108.0" width="14.3" height="7.3" fill="#292929"/>
<rect x="328.9" y="108.0" width="7.3" height="7.3" fill="#272727"/>
<rect x="335.8" y="108.0" width="7.3" height="7.3" fill="#262626"/>
<rect x="342.8" y="108.0" width="7.3" height="7.3" fill="#252525"/>
<rect x="349.8" y="108.0" width="14.3" height="7.3" fill="#242424"/>
<rect x="363.8" y="108.0" width="7.3" height="7.3" fill="#232323"/>
<rect x="370.8" y="108.0" width="91.1" height="7.3" fill="#242424"/>
<rect x="461.6" y="108.0" width="7.3" height="7.3" fill="#252525"/>
<rect x="468.6" y="108.0" width="14.3" height="7.3" fill="#262626"/>
<rect x="482.6" y="108.0" width="7.3" height="7.3" fill="#272727"/>
<rect x="489.5" y="108.0" width="7.3" height="7.3" fill="#282828"/>
<rect x="496.5" y="108.0" width="7.3" height="7.3" fill="#292929"/>
<rect x="503.5" y="108.0" width="28.2" height="7.3" fill="#2b2b2b"/>
<rect x="-13.5" y="114.9" width="28.2" height="7.3" fill="#393939"/>
<rect x="14.5" y="114.9" width="7.3" height="7.3" fill="#3a3a3a"/>
<rect x="21.5" y="114.9" width="7.3" height="7.3" fill="#3c3c3c"/>
<rect x="28.5" y="114.9" width="7.3" height="7.3" fill="#3d3d3d"/>
<rect x="35.4" y="114.9" width="7.3" height="7.3" fill="#3f3f3f"/>
<rect x="42.4" y="114.9" width="7.3" height="7.3" fill="#404040"/>
<rect x="49.4" y="114.9" width="7.3" height="7.3" fill="#414141"/>
<rect x="56.4" y="114.9" width="7.3" height="7.3" fill="#424242"/>
<rect x="63.4" y="114.9" width="7.3" height="7.3" fill="#434343"/>
<rect x="70.4" y="114.9" width="7.3" height="7.3" fill="#454545"/>
<rect x="77.4" y="114.9" width="7.3" height="7.3" fill="#474747"/>
<rect x="84.3" y="114.9" width="7.3" height="7.3" fill="#4a4a4a"/>
<rect x="91.3" y="114.9" width="7.3" height="7.3" fill="#4d4d4d"/>
<rect x="98.3" y="114.9" width="7.3" height="7.3" fill="#505050"/>
<rect x="105.3" y="114.9" width="7.3" height="7.3" fill="#535353"/>
<rect x="112.3" y="114.9" width="7.3" height="7.3" fill="#565656"/>
<rect x="119.3" y="114.9" width="7.3" height="7.3" fill="#5a5a5a"/>
<rect x="126.3" y="114.9" width="7.3" height="7.3" fill="#5e5e5e"/>
<rect x="133.2" y="114.9" width="7.3" height="7.3" fill="#606060"/>
<rect x="140.2" y="114.9" width="7.3" height="7.3" fill="#616161"/>
<rect x="147.2" y="114.9" width="7.3" height="7.3" fill="#606060"/>
<rect x="154.2" y="114.9" width="7.3" height="7.3" fill="#5f5f5f"/>
<rect x="161.2" y="114.9" width="7.3" height="7.3" fill="#5d5d5d"/>
<rect x="168.2" y="114.9" width="7.3" height="7.3" fill="#5c5c5c"/>
<rect x="175.2" y="114.9" width="7.3" height="7.3" fill="#5b5b5b"/>
<rect x="182.2" y="114.9" width="7.3" height="7.3" fill="#5a5a5a"/>
<rect x="189.1" y="114.9" width="7.3" height="7.3" fill="#585858"/>
<rect x="196.1" y="114.9" width="7.3" height="7.3" fill="#555555"/>
<rect x="203.1" y="114.9" width="7.3" height="7.3" fill="#4f4f4f"/>
<rect x="210.1" y="114.9" width="7.3" height="7.3" fill="#4a4a4a"/>
<rect x="217.1" y="114.9" width="7.3" height="7.3" fill="#454545"/>
<rect x="224.1" y="114.9" width="7.3" height="7.3" fill="#414141"/>
<rect x="231.1" y="114.9" width="7.3" height="7.3" fill="#3d3d3d"/>
<rect x="238.0" y="114.9" width="7.3" height="7.3" fill="#3a3a3a"/>
<rect x="245.0" y="114.9" width="7.3" height="7.3" fill="#373737"/>
<rect x="252.0" y="114.9" width="7.3" height="7.3" fill="#343434"/>
<rect x="259.0" y="114.9" width="7.3" height="7.3" fill="#313131"/>
<rect x="266.0" y="114.9" width="7.3" height="7.3" fill="#2e2e2e"/>
<rect x="273.0" y="114.9" width="7.3" height="7.3" fill="#2b2b2b"/>
<rect x="280.0" y="114.9" width="7.3" height="7.3" fill="#292929"/>
<rect x="286.9" y="114.9" width="7.3" height="7.3" fill="#282828"/>
<rect x="293.9" y="114.9" width="21.3" height="7.3" fill="#272727"/>
<rect x="314.9" y="114.9" width="7.3" height="7.3" fill="#282828"/>
<rect x="321.9" y="114.9" width="14.3" height="7.3" fill="#272727"/>
<rect x="335.8" y="114.9" width="14.3" height="7.3" fill="#262626"/>
<rect x="349.8" y="114.9" width="21.3" height="7.3" fill="#252525"/>
<rect x="370.8" y="114.9" width="7.3" height="7.3" fill="#262626"/>
<rect x="377.8" y="114.9" width="14.3" height="7.3" fill="#282828"/>
<rect x="391.7" y="114.9" width="7.3" height="7.3" fill="#272727"/>
<rect x="398.7" y="114.9" width="7.3" height="7.3" fill="#252525"/>
<rect x="405.7" y="114.9" width="49.2" height="7.3" fill="#242424"/>
<rect x="454.6" y="114.9" width="14.3" height="7.3" fill="#252525"/>
<rect x="468.6" y="114.9" width="7.3" height="7.3" fill="#262626"/>
<rect x="475.6" y="114.9" width="7.3" height="7.3" fill="#272727"/>
<rect x="482.6" y="114.9" width="7.3" height="7.3" fill="#292929"/>
<rect x="489.5" y="114.9" width="7.3" height="7.3" fill="#2a2a2a"/>
<rect x="496.5" y="114.9" width="7.3" height="7.3" fill="#2c2c2c"/>
<rect x="503.5" y="114.9" width="28.2" height="7.3" fill="#2e2e2e"/>
<rect x="-13.5" y="121.9" width="28.2" height="7.3" fill="#404040"/>
<rect x="14.5" y="121.9" width="7.3" height="7.3" fill="#414141"/>
<rect x="21.5" y="121.9" width="7.3" height="7.3" fill="#434343"/>
<rect x="28.5" y="121.9" width="7.3" height="7.3" fill="#444444"/>
<rect x="35.4" y="121.9" width="7.3" height="7.3" fill="#454545"/>
<rect x="42.4" y="121.9" width="7.3" height="7.3" fill="#464646"/>
<rect x="49.4" y="121.9" width="7.3" height="7.3" fill="#474747"/>
<rect x="56.4" y="121.9" width="7.3" height="7.3" fill="#484848"/>
<rect x="63.4" y="121.9" width="7.3" height="7.3" fill="#494949"/>
<rect x="70.4" y="121.9" width="7.3" height="7.3" fill="#4b4b4b"/>
<rect x="77.4" y="121.9" width="7.3" height="7.3" fill="#4d4d4d"/>
<rect x="84.3" y="121.9" width="7.3" height="7.3" fill="#515151"/>
<rect x="91.3" y="121.9" width="7.3" height="7.3" fill="#545454"/>
<rect x="98.3" y="121.9" width="7.3" height="7.3" fill="#575757"/>
<rect x="105.3" y="121.9" width="7.3" height="7.3" fill="#5b5b5b"/>
<rect x="112.3" y="121.9" width="7.3" height="7.3" fill="#5f5f5f"/>
<rect x="119.3" y="121.9" width="7.3" height="7.3" fill="#646464"/>
<rect x="126.3" y="121.9" width="7.3" height="7.3" fill="#686868"/>
<rect x="133.2" y="121.9" width="7.3" height="7.3" fill="#6a6a6a"/>
<rect x="140.2" y="121.9" width="7.3" height="7.3" fill="#6b6b6b"/>
<rect x="147.2" y="121.9" width="7.3" height="7.3" fill="#6a6a6a"/>
<rect x="154.2" y="121.9" width="7.3" height="7.3" fill="#686868"/>
<rect x="161.2" y="121.9" width="7.3" height="7.3" fill="#656565"/>
<rect x="168.2" y="121.9" width="7.3" height="7.3" fill="#636363"/>
<rect x="175.2" y="121.9" width="7.3" height="7.3" fill="#616161"/>
<rect x="182.2" y="121.9" width="7.3" height="7.3" fill="#606060"/>
<rect x="189.1" y="121.9" width="7.3" height="7.3" fill="#5f5f5f"/>
<rect x="196.1" y="121.9" width="7.3" height="7.3" fill="#5b5b5b"/>
<rect x="203.1" y="121.9" width="7.3" height="7.3" fill="#555555"/>
<rect x="210.1" y="121.9" width="7.3" height="7.3" fill="#4e4e4e"/>
<rect x="217.1" y="121.9" width="7.3" height="7.3" fill="#484848"/>
<rect x="224.1" y="121.9" width="7.3" height="7.3" fill="#424242"/>
<rect x="231.1" y="121.9" width="7.3" height="7.3" fill="#3c3c3c"/>
<rect x="238.0" y="121.9" width="7.3" height="7.3" fill="#373737"/>
<rect x="245.0" y="121.9" width="7.3" height="7.3" fill="#333333"/>
<rect x="252.0" y="121.9" width="7.3" height="7.3" fill="#313131"/>
<rect x="259.0" y="121.9" width="7.3" height="7.3" fill="#2f2f2f"/>
<rect x="266.0" y="121.9" width="7.3" height="7.3" fill="#2c2c2c"/>
<rect x="273.0" y="121.9" width="7.3" height="7.3" fill="#2b2b2b"/>
<rect x="280.0" y="121.9" width="7.3" height="7.3" fill="#2a2a2a"/>
<rect x="286.9" y="121.9" width="14.3" height="7.3" fill="#292929"/>
<rect x="300.9" y="121.9" width="7.3" height="7.3" fill="#282828"/>
<rect x="307.9" y="121.9" width="7.3" height="7.3" fill="#272727"/>
<rect x="314.9" y="121.9" width="7.3" height="7.3" fill="#262626"/>
<rect x="321.9" y="121.9" width="7.3" height="7.3" fill="#252525"/>
<rect x="328.9" y="121.9" width="7.3" height="7.3" fill="#262626"/>
<rect x="335.8" y="121.9" width="28.2" height="7.3" fill="#272727"/>
<rect x="363.8" y="121.9" width="7.3" height="7.3" fill="#282828"/>
<rect x="370.8" y="121.9" width="7.3" height="7.3" fill="#2a2a2a"/>
<rect x="377.8" y="121.9" width="14.3" height="7.3" fill="#2d2d2d"/>
<rect x="391.7" y="121.9" width="7.3" height="7.3" fill="#2b2b2b"/>
<rect x="398.7" y="121.9" width="7.3" height="7.3" fill="#282828"/>
<rect x="405.7" y="121.9" width="7.3" height="7.3" fill="#262626"/>
<rect x="412.7" y="121.9" width="7.3" height="7.3" fill="#252525"/>
<rect x="419.7" y="121.9" width="35.2" height="7.3" fill="#242424"/>
<rect x="454.6" y="121.9" width="7.3" height="7.3" fill="#252525"/>
<rect x="461.6" y="121.9" width="7.3" height="7.3" fill="#262626"/>
<rect x="468.6" y="121.9" width="7.3" height="7.3" fill="#282828"/>
<rect x="475.6" y="121.9" width="7.3" height="7.3" fill="#292929"/>
<rect x="482.6" y="121.9" width="7.3" height="7.3" fill="#2a2a2a"/>
<rect x="489.5" y="121.9" width="7.3" height="7.3" fill="#2d2d2d"/>
<rect x="496.5" y="121.9" width="7.3" height="7.3" fill="#2f2f2f"/>
<rect x="503.5" y="121.9" width="28.2" height="7.3" fill="#333333"/>
<rect x="-13.5" y="128.9" width="28.2" height="7.3" fill="#474747"/>
<rect x="14.5" y="128.9" width="14.3" height="7.3" fill="#484848"/>
<rect x="28.5" y="128.9" width="7.3" height="7.3" fill="#494949"/>
<rect x="35.4" y="128.9" width="7.3" height="7.3" fill="#4b4b4b"/>
<rect x="42.4" y="128.9" width="7.3" height="7.3" fill="#4c4c4c"/>
<rect x="49.4" y="128.9" width="7.3" height="7.3" fill="#4d4d4d"/>
<rect x="56.4" y="128.9" width="7.3" height="7.3" fill="#4e4e4e"/>
<rect x="63.4" y="128.9" width="7.3" height="7.3" fill="#4f4f4f"/>
<rect x="70.4" y="128.9" width="7.3" height="7.3" fill="#515151"/>
<rect x="77.4" y="128.9" width="7.3" height="7.3" fill="#545454"/>
<rect x="84.3" y="128.9" width="7.3" height="7.3" fill="#575757"/>
<rect x="91.3" y="128.9" width="7.3" height="7.3" fill="#5b5b5b"/>
<rect x="98.3" y="128.9" width="7.3" height="7.3" fill="#5f5f5f"/>
<rect x="105.3" y="128.9" width="7.3" height="7.3" fill="#626262"/>
<rect x="112.3" y="128.9" width="7.3" height="7.3" fill="#676767"/>
<rect x="119.3" y="128.9" width="7.3" height="7.3" fill="#6c6c6c"/>
<rect x="126.3" y="128.9" width="7.3" height="7.3" fill="#6f6f6f"/>
<rect x="133.2" y="128.9" width="14.3" height="7.3" fill="#717171"/>
<rect x="147.2" y="128.9" width="7.3" height="7.3" fill="#6f6f6f"/>
<rect x="154.2" y="128.9" width="7.3" height="7.3" fill="#6d6d6d"/>
<rect x="161.2" y="128.9" width="7.3" height="7.3" fill="#6a6a6a"/>
<rect x="168.2" y="128.9" width="7.3" height="7.3" fill="#676767"/>
<rect x="175.2" y="128.9" width="7.3" height="7.3" fill="#656565"/>
<rect x="182.2" y="128.9" width="7.3" height="7.3" fill="#636363"/>
<rect x="189.1" y="128.9" width="7.3" height="7.3" fill="#616161"/>
<rect x="196.1" y="128.9" width="7.3" height="7.3" fill="#5d5d5d"/>
<rect x="203.1" y="128.9" width="7.3" height="7.3" fill="#585858"/>
<rect x="210.1" y="128.9" width="7.3" height="7.3" fill="#515151"/>
<rect x="217.1" y="128.9" width="7.3" height="7.3" fill="#4a4a4a"/>
<rect x="224.1" y="128.9" width="7.3" height="7.3" fill="#424242"/>
<rect x="231.1" y="128.9" width="7.3" height="7.3" fill="#373737"/>
<rect x="238.0" y="128.9" width="7.3" height="7.3" fill="#292929"/>
<rect x="245.0" y="128.9" width="7.3" height="7.3" fill="#232323"/>
<rect x="252.0" y="128.9" width="7.3" height="7.3" fill="#262626"/>
<rect x="259.0" y="128.9" width="7.3" height="7.3" fill="#292929"/>
<rect x="266.0" y="128.9" width="7.3" height="7.3" fill="#2a2a2a"/>
<rect x="273.0" y="128.9" width="7.3" height="7.3" fill="#2c2c2c"/>
<rect x="280.0" y="128.9" width="21.3" height="7.3" fill="#2d2d2d"/>
<rect x="300.9" y="128.9" width="7.3" height="7.3" fill="#2b2b2b"/>
<rect x="307.9" y="128.9" width="7.3" height="7.3" fill="#292929"/>
<rect x="314.9" y="128.9" width="21.3" height="7.3" fill="#272727"/>
<rect x="335.8" y="128.9" width="28.2" height="7.3" fill="#282828"/>
<rect x="363.8" y="128.9" width="7.3" height="7.3" fill="#2a2a2a"/>
<rect x="370.8" y="128.9" width="7.3" height="7.3" fill="#2d2d2d"/>
<rect x="377.8" y="128.9" width="14.3" height="7.3" fill="#303030"/>
<rect x="391.7" y="128.9" width="7.3" height="7.3" fill="#2e2e2e"/>
<rect x="398.7" y="128.9" width="7.3" height="7.3" fill="#2b2b2b"/>
<rect x="405.7" y="128.9" width="7.3" height="7.3" fill="#282828"/>
<rect x="412.7" y="128.9" width="7.3" height="7.3" fill="#262626"/>
<rect x="419.7" y="128.9" width="14.3" height="7.3" fill="#242424"/>
<rect x="433.7" y="128.9" width="7.3" height="7.3" fill="#232323"/>
<rect x="440.6" y="128.9" width="7.3" height="7.3" fill="#242424"/>
<rect x="447.6" y="128.9" width="7.3" height="7.3" fill="#252525"/>
<rect x="454.6" y="128.9" width="7.3" height="7.3" fill="#262626"/>
<rect x="461.6" y="128.9" width="7.3" height="7.3" fill="#272727"/>
<rect x="468.6" y="128.9" width="7.3" height="7.3" fill="#292929"/>
<rect x="475.6" y="128.9" width="7.3" height="7.3" fill="#2b2b2b"/>
<rect x="482.6" y="128.9" width="7.3" height="7.3" fill="#2d2d2d"/>
<rect x="489.5" y="128.9" width="7.3" height="7.3" fill="#2f2f2f"/>
<rect x="496.5" y="128.9" width="7.3" height="7.3" fill="#323232"/>
<rect x="503.5" y="128.9" width="28.2" height="7.3" fill="#363636"/>
<rect x="-13.5" y="135.8" width="28.2" height="7.3" fill="#484848"/>
<rect x="14.5" y="135.8" width="7.3" height="7.3" fill="#4a4a4a"/>
<rect x="21.5" y="135.8" width="7.3" height="7.3" fill="#4c4c4c"/>
<rect x="28.5" y="135.8" width="7.3" height="7.3" fill="#4e4e4e"/>
<rect x="35.4" y="135.8" width="7.3" height="7.3" fill="#505050"/>
<rect x="42.4" y="135.8" width="7.3" height="7.3" fill="#525252"/>
<rect x="49.4" y="135.8" width="7.3" height="7.3" fill="#545454"/>
<rect x="56.4" y="135.8" width="7.3" height="7.3" fill="#555555"/>
<rect x="63.4" y="135.8" width="7.3" height="7.3" fill="#575757"/>
<rect x="70.4" y="135.8" width="7.3" height="7.3" fill="#595959"/>
<rect x="77.4" y="135.8" width="7.3" height="7.3" fill="#5c5c5c"/>
<rect x="84.3" y="135.8" width="7.3" height="7.3" fill="#606060"/>
<rect x="91.3" y="135.8" width="7.3" height="7.3" fill="#636363"/>
<rect x="98.3" y="135.8" width="7.3" height="7.3" fill="#676767"/>
<rect x="105.3" y="135.8" width="7.3" height="7.3" fill="#6c6c6c"/>
<rect x="112.3" y="135.8" width="7.3" height="7.3" fill="#717171"/>
<rect x="119.3" y="135.8" width="7.3" height="7.3" fill="#767676"/>
<rect x="126.3" y="135.8" width="7.3" height="7.3" fill="#797979"/>
<rect x="133.2" y="135.8" width="7.3" height="7.3" fill="#7a7a7a"/>
<rect x="140.2" y="135.8" width="7.3" height="7.3" fill="#797979"/>
<rect x="147.2" y="135.8" width="7.3" height="7.3" fill="#767676"/>
<rect x="154.2" y="135.8" width="7.3" height="7.3" fill="#737373"/>
<rect x="161.2" y="135.8" width="7.3" height="7.3" fill="#717171"/>
<rect x="168.2" y="135.8" width="7.3" height="7.3" fill="#6e6e6e"/>
<rect x="175.2" y="135.8" width="7.3" height="7.3" fill="#6c6c6c"/>
<rect x="182.2" y="135.8" width="7.3" height="7.3" fill="#6a6a6a"/>
<rect x="189.1" y="135.8" width="7.3" height="7.3" fill="#676767"/>
<rect x="196.1" y="135.8" width="7.3" height="7.3" fill="#626262"/>
<rect x="203.1" y="135.8" width="7.3" height="7.3" fill="#5a5a5a"/>
<rect x="210.1" y="135.8" width="7.3" height="7.3" fill="#505050"/>
<rect x="217.1" y="135.8" width="7.3" height="7.3" fill="#454545"/>
<rect x="224.1" y="135.8" width="7.3" height="7.3" fill="#3b3b3b"/>
<rect x="231.1" y="135.8" width="7.3" height="7.3" fill="#2a2a2a"/>
<rect x="238.0" y="135.8" width="7.3" height="7.3" fill="#141414"/>
<rect x="245.0" y="135.8" width="7.3" height="7.3" fill="#0f0f0f"/>
<rect x="252.0" y="135.8" width="7.3" height="7.3" fill="#1e1e1e"/>
<rect x="259.0" y="135.8" width="7.3" height="7.3" fill="#282828"/>
<rect x="266.0" y="135.8" width="7.3" height="7.3" fill="#2d2d2d"/>
<rect x="273.0" y="135.8" width="7.3" height="7.3" fill="#303030"/>
<rect x="280.0" y="135.8" width="21.3" height="7.3" fill="#323232"/>
<rect x="300.9" y="135.8" width="7.3" height="7.3" fill="#303030"/>
<rect x="307.9" y="135.8" width="7.3" height="7.3" fill="#2e2e2e"/>
<rect x="314.9" y="135.8" width="7.3" height="7.3" fill="#2b2b2b"/>
<rect x="321.9" y="135.8" width="7.3" height="7.3" fill="#2a2a2a"/>
<rect x="328.9" y="135.8" width="7.3" height="7.3" fill="#2b2b2b"/>
<rect x="335.8" y="135.8" width="28.2" height="7.3" fill="#2c2c2c"/>
<rect x="363.8" y="135.8" width="7.3" height="7.3" fill="#2d2d2d"/>
<rect x="370.8" y="135.8" width="7.3" height="7.3" fill="#2f2f2f"/>
<rect x="377.8" y="135.8" width="14.3" height="7.3" fill="#313131"/>
<rect x="391.7" y="135.8" width="7.3" height="7.3" fill="#2f2f2f"/>
<rect x="398.7" y="135.8" width="7.3" height="7.3" fill="#2c2c2c"/>
<rect x="405.7" y="135.8" width="7.3" height="7.3" fill="#292929"/>
<rect x="412.7" y="135.8" width="7.3" height="7.3" fill="#262626"/>
<rect x="419.7" y="135.8" width="7.3" height="7.3" fill="#252525"/>
<rect x="426.7" y="135.8" width="7.3" height="7.3" fill="#242424"/>
<rect x="433.7" y="135.8" width="14.3" height="7.3" fill="#232323"/>
<rect x="447.6" y="135.8" width="7.3" height="7.3" fill="#242424"/>
<rect x="454.6" y="135.8" width="7.3" height="7.3" fill="#262626"/>
<rect x="461.6" y="135.8" width="7.3" height="7.3" fill="#272727"/>
<rect x="468.6" y="135.8" width="7.3" height="7.3" fill="#292929"/>
<rect x="475.6" y="135.8" width="7.3" height="7.3" fill="#2b2b2b"/>
<rect x="482.6" y="135.8" width="7.3" height="7.3" fill="#2e2e2e"/>
<rect x="489.5" y="135.8" width="7.3" height="7.3" fill="#303030"/>
<rect x="496.5" y="135.8" width="7.3" height="7.3" fill="#343434"/>
<rect x="503.5" y="135.8" width="28.2" height="7.3" fill="#373737"/>
<rect x="-13.5" y="142.8" width="28.2" height="7.3" fill="#454545"/>
<rect x="14.5" y="142.8" width="7.3" height="7.3" fill="#484848"/>
<rect x="21.5" y="142.8" width="7.3" height="7.3" fill="#4c4c4c"/>
<rect x="28.5" y="142.8" width="7.3" height="7.3" fill="#505050"/>
<rect x="35.4" y="142.8" width="7.3" height="7.3" fill="#545454"/>
<rect x="42.4" y="142.8" width="7.3" height="7.3" fill="#585858"/>
<rect x="49.4" y="142.8" width="7.3" height="7.3" fill="#5b5b5b"/>
<rect x="56.4" y="142.8" width="7.3" height="7.3" fill="#5e5e5e"/>
<rect x="63.4" y="142.8" width="7.3" height="7.3" fill="#606060"/>
<rect x="70.4" y="142.8" width="7.3" height="7.3" fill="#636363"/>
<rect x="77.4" y="142.8" width="7.3" height="7.3" fill="#676767"/>
<rect x="84.3" y="142.8" width="7.3" height="7.3" fill="#6b6b6b"/>
<rect x="91.3" y="142.8" width="7.3" height="7.3" fill="#707070"/>
<rect x="98.3" y="142.8" width="7.3" height="7.3" fill="#757575"/>
<rect x="105.3" y="142.8" width="7.3" height="7.3" fill="#7a7a7a"/>
<rect x="112.3" y="142.8" width="7.3" height="7.3" fill="#7f7f7f"/>
<rect x="119.3" y="142.8" width="7.3" height="7.3" fill="#838383"/>
<rect x="126.3" y="142.8" width="7.3" height="7.3" fill="#868686"/>
<rect x="133.2" y="142.8" width="7.3" height="7.3" fill="#878787"/>
<rect x="140.2" y="142.8" width="7.3" height="7.3" fill="#848484"/>
<rect x="147.2" y="142.8" width="7.3" height="7.3" fill="#818181"/>
<rect x="154.2" y="142.8" width="7.3" height="7.3" fill="#7e7e7e"/>
<rect x="161.2" y="142.8" width="7.3" height="7.3" fill="#7c7c7c"/>
<rect x="168.2" y="142.8" width="7.3" height="7.3" fill="#797979"/>
<rect x="175.2" y="142.8" width="7.3" height="7.3" fill="#777777"/>
<rect x="182.2" y="142.8" width="7.3" height="7.3" fill="#747474"/>
<rect x="189.1" y="142.8" width="7.3" height="7.3" fill="#707070"/>
<rect x="196.1" y="142.8" width="7.3" height="7.3" fill="#6a6a6a"/>
<rect x="203.1" y="142.8" width="7.3" height="7.3" fill="#606060"/>
<rect x="210.1" y="142.8" width="7.3" height="7.3" fill="#545454"/>
<rect x="217.1" y="142.8" width="7.3" height="7.3" fill="#464646"/>
<rect x="224.1" y="142.8" width="7.3" height="7.3" fill="#3d3d3d"/>
<rect x="231.1" y="142.8" width="7.3" height="7.3" fill="#363636"/>
<rect x="238.0" y="142.8" width="7.3" height="7.3" fill="#2d2d2d"/>
<rect x="245.0" y="142.8" width="7.3" height="7.3" fill="#2c2c2c"/>
<rect x="252.0" y="142.8" width="7.3" height="7.3" fill="#323232"/>
<rect x="259.0" y="142.8" width="7.3" height="7.3" fill="#363636"/>
<rect x="266.0" y="142.8" width="7.3" height="7.3" fill="#373737"/>
<rect x="273.0" y="142.8" width="7.3" height="7.3" fill="#383838"/>
<rect x="280.0" y="142.8" width="7.3" height="7.3" fill="#393939"/>
<rect x="286.9" y="142.8" width="14.3" height="7.3" fill="#3a3a3a"/>
<rect x="300.9" y="142.8" width="7.3" height="7.3" fill="#383838"/>
<rect x="307.9" y="142.8" width="7.3" height="7.3" fill="#353535"/>
<rect x="314.9" y="142.8" width="7.3" height="7.3" fill="#323232"/>
<rect x="321.9" y="142.8" width="21.3" height="7.3" fill="#313131"/>
<rect x="342.8" y="142.8" width="14.3" height="7.3" fill="#323232"/>
<rect x="356.8" y="142.8" width="7.3" height="7.3" fill="#313131"/>
<rect x="363.8" y="142.8" width="21.3" height="7.3" fill="#323232"/>
<rect x="384.8" y="142.8" width="7.3" height="7.3" fill="#313131"/>
<rect x="391.7" y="142.8" width="7.3" height="7.3" fill="#2e2e2e"/>
<rect x="398.7" y="142.8" width="7.3" height="7.3" fill="#2b2b2b"/>
<rect x="405.7" y="142.8" width="7.3" height="7.3" fill="#292929"/>
<rect x="412.7" y="142.8" width="7.3" height="7.3" fill="#272727"/>
<rect x="419.7" y="142.8" width="7.3" height="7.3" fill="#252525"/>
<rect x="426.7" y="142.8" width="14.3" height="7.3" fill="#232323"/>
<rect x="440.6" y="142.8" width="7.3" height="7.3" fill="#222222"/>
<rect x="447.6" y="142.8" width="7.3" height="7.3" fill="#232323"/>
<rect x="454.6" y="142.8" width="7.3" height="7.3" fill="#242424"/>
<rect x="461.6" y="142.8" width="7.3" height="7.3" fill="#262626"/>
<rect x="468.6" y="142.8" width="7.3" height="7.3" fill="#282828"/>
<rect x="475.6" y="142.8" width="7.3" height="7.3" fill="#2a2a2a"/>
<rect x="482.6" y="142.8" width="7.3" height="7.3" fill="#2d2d2d"/>
<rect x="489.5" y="142.8" width="7.3" height="7.3" fill="#303030"/>
<rect x="496.5" y="142.8" width="7.3" height="7.3" fill="#333333"/>
<rect x="503.5" y="142.8" width="28.2" height="7.3" fill="#373737"/>
<rect x="-13.5" y="149.8" width="28.2" height="7.3" fill="#444444"/>
<rect x="14.5" y="149.8" width="7.3" height="7.3" fill="#474747"/>
<rect x="21.5" y="149.8" width="7.3" height="7.3" fill="#4b4b4b"/>
<rect x="28.5" y="149.8" width="7.3" height="7.3" fill="#505050"/>
<rect x="35.4" y="149.8" width="7.3" height="7.3" fill="#565656"/>
<rect x="42.4" y="149.8" width="7.3" height="7.3" fill="#5c5c5c"/>
<rect x="49.4" y="149.8" width="7.3" height="7.3" fill="#626262"/>
<rect x="56.4" y="149.8" width="7.3" height="7.3" fill="#676767"/>
<rect x="63.4" y="149.8" width="7.3" height="7.3" fill="#6c6c6c"/>
<rect x="70.4" y="149.8" width="7.3" height="7.3" fill="#727272"/>
<rect x="77.4" y="149.8" width="7.3" height="7.3" fill="#787878"/>
<rect x="84.3" y="149.8" width="7.3" height="7.3" fill="#7e7e7e"/>
<rect x="91.3" y="149.8" width="7.3" height="7.3" fill="#848484"/>
<rect x="98.3" y="149.8" width="7.3" height="7.3" fill="#8a8a8a"/>
<rect x="105.3" y="149.8" width="7.3" height="7.3" fill="#8f8f8f"/>
<rect x="112.3" y="149.8" width="7.3" height="7.3" fill="#929292"/>
<rect x="119.3" y="149.8" width="7.3" height="7.3" fill="#949494"/>
<rect x="126.3" y="149.8" width="7.3" height="7.3" fill="#959595"/>
<rect x="133.2" y="149.8" width="7.3" height="7.3" fill="#949494"/>
<rect x="140.2" y="149.8" width="7.3" height="7.3" fill="#939393"/>
<rect x="147.2" y="149.8" width="7.3" height="7.3" fill="#909090"/>
<rect x="154.2" y="149.8" width="7.3" height="7.3" fill="#8d8d8d"/>
<rect x="161.2" y="149.8" width="7.3" height="7.3" fill="#8a8a8a"/>
<rect x="168.2" y="149.8" width="7.3" height="7.3" fill="#868686"/>
<rect x="175.2" y="149.8" width="7.3" height="7.3" fill="#838383"/>
<rect x="182.2" y="149.8" width="7.3" height="7.3" fill="#7f7f7f"/>
<rect x="189.1" y="149.8" width="7.3" height="7.3" fill="#7b7b7b"/>
<rect x="196.1" y="149.8" width="7.3" height="7.3" fill="#767676"/>
<rect x="203.1" y="149.8" width="7.3" height="7.3" fill="#717171"/>
<rect x="210.1" y="149.8" width="7.3" height="7.3" fill="#6b6b6b"/>
<rect x="217.1" y="149.8" width="7.3" height="7.3" fill="#666666"/>
<rect x="224.1" y="149.8" width="7.3" height="7.3" fill="#616161"/>
<rect x="231.1" y="149.8" width="7.3" height="7.3" fill="#5d5d5d"/>
<rect x="238.0" y="149.8" width="7.3" height="7.3" fill="#595959"/>
<rect x="245.0" y="149.8" width="7.3" height="7.3" fill="#565656"/>
<rect x="252.0" y="149.8" width="7.3" height="7.3" fill="#535353"/>
<rect x="259.0" y="149.8" width="7.3" height="7.3" fill="#505050"/>
<rect x="266.0" y="149.8" width="7.3" height="7.3" fill="#4d4d4d"/>
<rect x="273.0" y="149.8" width="7.3" height="7.3" fill="#4a4a4a"/>
<rect x="280.0" y="149.8" width="7.3" height="7.3" fill="#484848"/>
<rect x="286.9" y="149.8" width="7.3" height="7.3" fill="#474747"/>
<rect x="293.9" y="149.8" width="7.3" height="7.3" fill="#454545"/>
<rect x="300.9" y="149.8" width="7.3" height="7.3" fill="#444444"/>
<rect x="307.9" y="149.8" width="7.3" height="7.3" fill="#424242"/>
<rect x="314.9" y="149.8" width="7.3" height="7.3" fill="#3f3f3f"/>
<rect x="321.9" y="149.8" width="7.3" height="7.3" fill="#3c3c3c"/>
<rect x="328.9" y="149.8" width="7.3" height="7.3" fill="#373737"/>
<rect x="335.8" y="149.8" width="7.3" height="7.3" fill="#343434"/>
<rect x="342.8" y="149.8" width="7.3" height="7.3" fill="#333333"/>
<rect x="349.8" y="149.8" width="7.3" height="7.3" fill="#343434"/>
<rect x="356.8" y="149.8" width="7.3" height="7.3" fill="#373737"/>
<rect x="363.8" y="149.8" width="14.3" height="7.3" fill="#383838"/>
<rect x="377.8" y="149.8" width="7.3" height="7.3" fill="#373737"/>
<rect x="384.8" y="149.8" width="7.3" height="7.3" fill="#343434"/>
<rect x="391.7" y="149.8" width="7.3" height="7.3" fill="#313131"/>
<rect x="398.7" y="149.8" width="7.3" height="7.3" fill="#2d2d2d"/>
<rect x="405.7" y="149.8" width="7.3" height="7.3" fill="#2a2a2a"/>
<rect x="412.7" y="149.8" width="7.3" height="7.3" fill="#272727"/>
<rect x="419.7" y="149.8" width="7.3" height="7.3" fill="#252525"/>
<rect x="426.7" y="149.8" width="7.3" height="7.3" fill="#232323"/>
<rect x="433.7" y="149.8" width="7.3" height="7.3" fill="#222222"/>
<rect x="440.6" y="149.8" width="7.3" height="7.3" fill="#212121"/>
<rect x="447.6" y="149.8" width="14.3" height="7.3" fill="#222222"/>
<rect x="461.6" y="149.8" width="7.3" height="7.3" fill="#242424"/>
<rect x="468.6" y="149.8" width="7.3" height="7.3" fill="#262626"/>
<rect x="475.6" y="149.8" width="7.3" height="7.3" fill="#292929"/>
<rect x="482.6" y="149.8" width="7.3" height="7.3" fill="#2c2c2c"/>
<rect x="489.5" y="149.8" width="7.3" height="7.3" fill="#2f2f2f"/>
<rect x="496.5" y="149.8" width="7.3" height="7.3" fill="#323232"/>
<rect x="503.5" y="149.8" width="28.2" height="7.3" fill="#353535"/>
<rect x="-13.5" y="156.8" width="28.2" height="7.3" fill="#464646"/>
<rect x="14.5" y="156.8" width="7.3" height="7.3" fill="#494949"/>
<rect x="21.5" y="156.8" width="7.3" height="7.3" fill="#4d4d4d"/>
<rect x="28.5" y="156.8" width="7.3" height="7.3" fill="#535353"/>
<rect x="35.4" y="156.8" width="7.3" height="7.3" fill="#595959"/>
<rect x="42.4" y="156.8" width="7.3" height="7.3" fill="#606060"/>
<rect x="49.4" y="156.8" width="7.3" height="7.3" fill="#686868"/>
<rect x="56.4" y="156.8" width="7.3" height="7.3" fill="#6f6f6f"/>
<rect x="63.4" y="156.8" width="7.3" height="7.3" fill="#767676"/>
<rect x="70.4" y="156.8" width="7.3" height="7.3" fill="#7e7e7e"/>
<rect x="77.4" y="156.8" width="7.3" height="7.3" fill="#858585"/>
<rect x="84.3" y="156.8" width="7.3" height="7.3" fill="#8d8d8d"/>
<rect x="91.3" y="156.8" width="7.3" height="7.3" fill="#949494"/>
<rect x="98.3" y="156.8" width="7.3" height="7.3" fill="#9b9b9b"/>
<rect x="105.3" y="156.8" width="7.3" height="7.3" fill="#a1a1a1"/>
<rect x="112.3" y="156.8" width="7.3" height="7.3" fill="#a4a4a4"/>
<rect x="119.3" y="156.8" width="7.3" height="7.3" fill="#a5a5a5"/>
<rect x="126.3" y="156.8" width="7.3" height="7.3" fill="#a4a4a4"/>
<rect x="133.2" y="156.8" width="7.3" height="7.3" fill="#a3a3a3"/>
<rect x="140.2" y="156.8" width="7.3" height="7.3" fill="#a1a1a1"/>
<rect x="147.2" y="156.8" width="7.3" height="7.3" fill="#9e9e9e"/>
<rect x="154.2" y="156.8" width="7.3" height="7.3" fill="#9c9c9c"/>
<rect x="161.2" y="156.8" width="7.3" height="7.3" fill="#989898"/>
<rect x="168.2" y="156.8" width="7.3" height="7.3" fill="#959595"/>
<rect x="175.2" y="156.8" width="7.3" height="7.3" fill="#919191"/>
<rect x="182.2" y="156.8" width="7.3" height="7.3" fill="#8d8d8d"/>
<rect x="189.1" y="156.8" width="7.3" height="7.3" fill="#898989"/>
<rect x="196.1" y="156.8" width="7.3" height="7.3" fill="#868686"/>
<rect x="203.1" y="156.8" width="7.3" height="7.3" fill="#838383"/>
<rect x="210.1" y="156.8" width="7.3" height="7.3" fill="#7f7f7f"/>
<rect x="217.1" y="156.8" width="7.3" height="7.3" fill="#7b7b7b"/>
<rect x="224.1" y="156.8" width="7.3" height="7.3" fill="#777777"/>
<rect x="231.1" y="156.8" width="7.3" height="7.3" fill="#737373"/>
<rect x="238.0" y="156.8" width="7.3" height="7.3" fill="#6f6f6f"/>
<rect x="245.0" y="156.8" width="7.3" height="7.3" fill="#6d6d6d"/>
<rect x="252.0" y="156.8" width="7.3" height="7.3" fill="#6b6b6b"/>
<rect x="259.0" y="156.8" width="7.3" height="7.3" fill="#676767"/>
<rect x="266.0" y="156.8" width="7.3" height="7.3" fill="#626262"/>
<rect x="273.0" y="156.8" width="7.3" height="7.3" fill="#5d5d5d"/>
<rect x="280.0" y="156.8" width="7.3" height="7.3" fill="#595959"/>
<rect x="286.9" y="156.8" width="7.3" height="7.3" fill="#565656"/>
<rect x="293.9" y="156.8" width="7.3" height="7.3" fill="#535353"/>
<rect x="300.9" y="156.8" width="7.3" height="7.3" fill="#505050"/>
<rect x="307.9" y="156.8" width="7.3" height="7.3" fill="#4e4e4e"/>
<rect x="314.9" y="156.8" width="7.3" height="7.3" fill="#4b4b4b"/>
<rect x="321.9" y="156.8" width="7.3" height="7.3" fill="#474747"/>
<rect x="328.9" y="156.8" width="7.3" height="7.3" fill="#414141"/>
<rect x="335.8" y="156.8" width="7.3" height="7.3" fill="#3d3d3d"/>
<rect x="342.8" y="156.8" width="7.3" height="7.3" fill="#3c3c3c"/>
<rect x="349.8" y="156.8" width="7.3" height="7.3" fill="#3f3f3f"/>
<rect x="356.8" y="156.8" width="7.3" height="7.3" fill="#424242"/>
<rect x="363.8" y="156.8" width="7.3" height="7.3" fill="#434343"/>
<rect x="370.8" y="156.8" width="7.3" height="7.3" fill="#424242"/>
<rect x="377.8" y="156.8" width="7.3" height="7.3" fill="#3f3f3f"/>
<rect x="384.8" y="156.8" width="7.3" height="7.3" fill="#3b3b3b"/>
<rect x="391.7" y="156.8" width="7.3" height="7.3" fill="#363636"/>
<rect x="398.7" y="156.8" width="7.3" height="7.3" fill="#313131"/>
<rect x="405.7" y="156.8" width="7.3" height="7.3" fill="#2d2d2d"/>
<rect x="412.7" y="156.8" width="7.3" height="7.3" fill="#292929"/>
<rect x="419.7" y="156.8" width="7.3" height="7.3" fill="#252525"/>
<rect x="426.7" y="156.8" width="7.3" height="7.3" fill="#232323"/>
<rect x="433.7" y="156.8" width="7.3" height="7.3" fill="#222222"/>
<rect x="440.6" y="156.8" width="21.3" height="7.3" fill="#212121"/>
<rect x="461.6" y="156.8" width="7.3" height="7.3" fill="#222222"/>
<rect x="468.6" y="156.8" width="7.3" height="7.3" fill="#242424"/>
<rect x="475.6" y="156.8" width="7.3" height="7.3" fill="#272727"/>
<rect x="482.6" y="156.8" width="7.3" height="7.3" fill="#2b2b2b"/>
<rect x="489.5" y="156.8" width="7.3" height="7.3" fill="#2e2e2e"/>
<rect x="496.5" y="156.8" width="7.3" height="7.3" fill="#313131"/>
<rect x="503.5" y="156.8" width="28.2" height="7.3" fill="#343434"/>
<rect x="-13.5" y="163.7" width="28.2" height="7.3" fill="#4c4c4c"/>
<rect x="14.5" y="163.7" width="7.3" height="7.3" fill="#4f4f4f"/>
<rect x="21.5" y="163.7" width="7.3" height="7.3" fill="#535353"/>
<rect x="28.5" y="163.7" width="7.3" height="7.3" fill="#585858"/>
<rect x="35.4" y="163.7" width="7.3" height="7.3" fill="#5e5e5e"/>
<rect x="42.4" y="163.7" width="7.3" height="7.3" fill="#656565"/>
<rect x="49.4" y="163.7" width="7.3" height="7.3" fill="#6d6d6d"/>
<rect x="56.4" y="163.7" width="7.3" height="7.3" fill="#757575"/>
<rect x="63.4" y="163.7" width="7.3" height="7.3" fill="#7e7e7e"/>
<rect x="70.4" y="163.7" width="7.3" height="7.3" fill="#878787"/>
<rect x="77.4" y="163.7" width="7.3" height="7.3" fill="#909090"/>
<rect x="84.3" y="163.7" width="7.3" height="7.3" fill="#999999"/>
<rect x="91.3" y="163.7" width="7.3" height="7.3" fill="#a2a2a2"/>
<rect x="98.3" y="163.7" width="7.3" height="7.3" fill="#aaaaaa"/>
<rect x="105.3" y="163.7" width="7.3" height="7.3" fill="#b1b1b1"/>
<rect x="112.3" y="163.7" width="7.3" height="7.3" fill="#b6b6b6"/>
<rect x="119.3" y="163.7" width="14.3" height="7.3" fill="#b8b8b8"/>
<rect x="133.2" y="163.7" width="7.3" height="7.3" fill="#b6b6b6"/>
<rect x="140.2" y="163.7" width="7.3" height="7.3" fill="#b2b2b2"/>
<rect x="147.2" y="163.7" width="7.3" height="7.3" fill="#aeaeae"/>
<rect x="154.2" y="163.7" width="7.3" height="7.3" fill="#ababab"/>
<rect x="161.2" y="163.7" width="7.3" height="7.3" fill="#a8a8a8"/>
<rect x="168.2" y="163.7" width="7.3" height="7.3" fill="#a6a6a6"/>
<rect x="175.2" y="163.7" width="7.3" height="7.3" fill="#a4a4a4"/>
<rect x="182.2" y="163.7" width="7.3" height="7.3" fill="#a2a2a2"/>
<rect x="189.1" y="163.7" width="7.3" height="7.3" fill="#9f9f9f"/>
<rect x="196.1" y="163.7" width="7.3" height="7.3" fill="#9c9c9c"/>
<rect x="203.1" y="163.7" width="7.3" height="7.3" fill="#989898"/>
<rect x="210.1" y="163.7" width="7.3" height="7.3" fill="#949494"/>
<rect x="217.1" y="163.7" width="7.3" height="7.3" fill="#8f8f8f"/>
<rect x="224.1" y="163.7" width="7.3" height="7.3" fill="#888888"/>
<rect x="231.1" y="163.7" width="7.3" height="7.3" fill="#828282"/>
<rect x="238.0" y="163.7" width="7.3" height="7.3" fill="#7e7e7e"/>
<rect x="245.0" y="163.7" width="7.3" height="7.3" fill="#7b7b7b"/>
<rect x="252.0" y="163.7" width="7.3" height="7.3" fill="#7a7a7a"/>
<rect x="259.0" y="163.7" width="7.3" height="7.3" fill="#767676"/>
<rect x="266.0" y="163.7" width="7.3" height="7.3" fill="#717171"/>
<rect x="273.0" y="163.7" width="7.3" height="7.3" fill="#6b6b6b"/>
<rect x="280.0" y="163.7" width="7.3" height="7.3" fill="#676767"/>
<rect x="286.9" y="163.7" width="7.3" height="7.3" fill="#636363"/>
<rect x="293.9" y="163.7" width="7.3" height="7.3" fill="#5f5f5f"/>
<rect x="300.9" y="163.7" width="7.3" height="7.3" fill="#5b5b5b"/>
<rect x="307.9" y="163.7" width="7.3" height="7.3" fill="#585858"/>
<rect x="314.9" y="163.7" width="7.3" height="7.3" fill="#545454"/>
<rect x="321.9" y="163.7" width="7.3" height="7.3" fill="#515151"/>
<rect x="328.9" y="163.7" width="7.3" height="7.3" fill="#4d4d4d"/>
<rect x="335.8" y="163.7" width="14.3" height="7.3" fill="#4b4b4b"/>
<rect x="349.8" y="163.7" width="7.3" height="7.3" fill="#4e4e4e"/>
<rect x="356.8" y="163.7" width="7.3" height="7.3" fill="#505050"/>
<rect x="363.8" y="163.7" width="7.3" height="7.3" fill="#4f4f4f"/>
<rect x="370.8" y="163.7" width="7.3" height="7.3" fill="#4b4b4b"/>
<rect x="377.8" y="163.7" width="7.3" height="7.3" fill="#464646"/>
<rect x="384.8" y="163.7" width="7.3" height="7.3" fill="#414141"/>
<rect x="391.7" y="163.7" width="7.3" height="7.3" fill="#3b3b3b"/>
<rect x="398.7" y="163.7" width="7.3" height="7.3" fill="#343434"/>
<rect x="405.7" y="163.7" width="7.3" height="7.3" fill="#2f2f2f"/>
<rect x="412.7" y="163.7" width="7.3" height="7.3" fill="#2a2a2a"/>
<rect x="419.7" y="163.7" width="7.3" height="7.3" fill="#262626"/>
<rect x="426.7" y="163.7" width="7.3" height="7.3" fill="#232323"/>
<rect x="433.7" y="163.7" width="7.3" height="7.3" fill="#222222"/>
<rect x="440.6" y="163.7" width="21.3" height="7.3" fill="#212121"/>
<rect x="461.6" y="163.7" width="7.3" height="7.3" fill="#222222"/>
<rect x="468.6" y="163.7" width="7.3" height="7.3" fill="#242424"/>
<rect x="475.6" y="163.7" width="7.3" height="7.3" fill="#272727"/>
<rect x="482.6" y="163.7" width="7.3" height="7.3" fill="#2a2a2a"/>
<rect x="489.5" y="163.7" width="7.3" height="7.3" fill="#2d2d2d"/>
<rect x="496.5" y="163.7" width="7.3" height="7.3" fill="#303030"/>
<rect x="503.5" y="163.7" width="28.2" height="7.3" fill="#323232"/>
<rect x="-13.5" y="170.7" width="28.2" height="7.3" fill="#525252"/>
<rect x="14.5" y="170.7" width="7.3" height="7.3" fill="#555555"/>
<rect x="21.5" y="170.7" width="7.3" height="7.3" fill="#595959"/>
<rect x="28.5" y="170.7" width="7.3" height="7.3" fill="#5e5e5e"/>
<rect x="35.4" y="170.7" width="7.3" height="7.3" fill="#646464"/>
<rect x="42.4" y="170.7" width="7.3" height="7.3" fill="#6b6b6b"/>
<rect x="49.4" y="170.7" width="7.3" height="7.3" fill="#727272"/>
<rect x="56.4" y="170.7" width="7.3" height="7.3" fill="#7b7b7b"/>
<rect x="63.4" y="170.7" width="7.3" height="7.3" fill="#858585"/>
<rect x="70.4" y="170.7" width="7.3" height="7.3" fill="#929292"/>
<rect x="77.4" y="170.7" width="7.3" height="7.3" fill="#a2a2a2"/>
<rect x="84.3" y="170.7" width="7.3" height="7.3" fill="#b1b1b1"/>
<rect x="91.3" y="170.7" width="7.3" height="7.3" fill="#bfbfbf"/>
<rect x="98.3" y="170.7" width="7.3" height="7.3" fill="#c9c9c9"/>
<rect x="105.3" y="170.7" width="7.3" height="7.3" fill="#d1d1d1"/>
<rect x="112.3" y="170.7" width="7.3" height="7.3" fill="#d7d7d7"/>
<rect x="119.3" y="170.7" width="14.3" height="7.3" fill="#dbdbdb"/>
<rect x="133.2" y="170.7" width="7.3" height="7.3" fill="#d8d8d8"/>
<rect x="140.2" y="170.7" width="7.3" height="7.3" fill="#d1d1d1"/>
<rect x="147.2" y="170.7" width="7.3" height="7.3" fill="#c9c9c9"/>
<rect x="154.2" y="170.7" width="7.3" height="7.3" fill="#c2c2c2"/>
<rect x="161.2" y="170.7" width="7.3" height="7.3" fill="#bebebe"/>
<rect x="168.2" y="170.7" width="7.3" height="7.3" fill="#bbbbbb"/>
<rect x="175.2" y="170.7" width="7.3" height="7.3" fill="#bcbcbc"/>
<rect x="182.2" y="170.7" width="7.3" height="7.3" fill="#c0c0c0"/>
<rect x="189.1" y="170.7" width="7.3" height="7.3" fill="#c3c3c3"/>
<rect x="196.1" y="170.7" width="7.3" height="7.3" fill="#c2c2c2"/>
<rect x="203.1" y="170.7" width="7.3" height="7.3" fill="#bfbfbf"/>
<rect x="210.1" y="170.7" width="7.3" height="7.3" fill="#b8b8b8"/>
<rect x="217.1" y="170.7" width="7.3" height="7.3" fill="#adadad"/>
<rect x="224.1" y="170.7" width="7.3" height="7.3" fill="#a0a0a0"/>
<rect x="231.1" y="170.7" width="7.3" height="7.3" fill="#939393"/>
<rect x="238.0" y="170.7" width="7.3" height="7.3" fill="#898989"/>
<rect x="245.0" y="170.7" width="7.3" height="7.3" fill="#838383"/>
<rect x="252.0" y="170.7" width="7.3" height="7.3" fill="#7f7f7f"/>
<rect x="259.0" y="170.7" width="7.3" height="7.3" fill="#7a7a7a"/>
<rect x="266.0" y="170.7" width="7.3" height="7.3" fill="#757575"/>
<rect x="273.0" y="170.7" width="7.3" height="7.3" fill="#707070"/>
<rect x="280.0" y="170.7" width="7.3" height="7.3" fill="#6c6c6c"/>
<rect x="286.9" y="170.7" width="7.3" height="7.3" fill="#686868"/>
<rect x="293.9" y="170.7" width="7.3" height="7.3" fill="#646464"/>
<rect x="300.9" y="170.7" width="7.3" height="7.3" fill="#616161"/>
<rect x="307.9" y="170.7" width="7.3" height="7.3" fill="#5d5d5d"/>
<rect x="314.9" y="170.7" width="7.3" height="7.3" fill="#5a5a5a"/>
<rect x="321.9" y="170.7" width="7.3" height="7.3" fill="#575757"/>
<rect x="328.9" y="170.7" width="7.3" height="7.3" fill="#545454"/>
<rect x="335.8" y="170.7" width="7.3" height="7.3" fill="#525252"/>
<rect x="342.8" y="170.7" width="21.3" height="7.3" fill="#515151"/>
<rect x="363.8" y="170.7" width="7.3" height="7.3" fill="#4f4f4f"/>
<rect x="370.8" y="170.7" width="7.3" height="7.3" fill="#4b4b4b"/>
<rect x="377.8" y="170.7" width="7.3" height="7.3" fill="#454545"/>
<rect x="384.8" y="170.7" width="7.3" height="7.3" fill="#3f3f3f"/>
<rect x="391.7" y="170.7" width="7.3" height="7.3" fill="#383838"/>
<rect x="398.7" y="170.7" width="7.3" height="7.3" fill="#323232"/>
<rect x="405.7" y="170.7" width="7.3" height="7.3" fill="#2c2c2c"/>
<rect x="412.7" y="170.7" width="7.3" height="7.3" fill="#282828"/>
<rect x="419.7" y="170.7" width="7.3" height="7.3" fill="#252525"/>
<rect x="426.7" y="170.7" width="7.3" height="7.3" fill="#232323"/>
<rect x="433.7" y="170.7" width="7.3" height="7.3" fill="#222222"/>
<rect x="440.6" y="170.7" width="21.3" height="7.3" fill="#212121"/>
<rect x="461.6" y="170.7" width="7.3" height="7.3" fill="#222222"/>
<rect x="468.6" y="170.7" width="7.3" height="7.3" fill="#232323"/>
<rect x="475.6" y="170.7" width="7.3" height="7.3" fill="#262626"/>
<rect x="482.6" y="170.7" width="7.3" height="7.3" fill="#292929"/>
<rect x="489.5" y="170.7" width="7.3" height="7.3" fill="#2c2c2c"/>
<rect x="496.5" y="170.7" width="7.3" height="7.3" fill="#2e2e2e"/>
<rect x="503.5" y="170.7" width="28.2" height="7.3" fill="#313131"/>
<rect x="-13.5" y="177.7" width="28.2" height="7.3" fill="#555555"/>
<rect x="14.5" y="177.7" width="7.3" height="7.3" fill="#585858"/>
<rect x="21.5" y="177.7" width="7.3" height="7.3" fill="#5c5c5c"/>
<rect x="28.5" y="177.7" width="7.3" height="7.3" fill="#616161"/>
<rect x="35.4" y="177.7" width="7.3" height="7.3" fill="#676767"/>
<rect x="42.4" y="177.7" width="7.3" height="7.3" fill="#6e6e6e"/>
<rect x="49.4" y="177.7" width="7.3" height="7.3" fill="#767676"/>
<rect x="56.4" y="177.7" width="7.3" height="7.3" fill="#7f7f7f"/>
<rect x="63.4" y="177.7" width="7.3" height="7.3" fill="#8a8a8a"/>
<rect x="70.4" y="177.7" width="7.3" height="7.3" fill="#999999"/>
<rect x="77.4" y="177.7" width="7.3" height="7.3" fill="#acacac"/>
<rect x="84.3" y="177.7" width="7.3" height="7.3" fill="#c0c0c0"/>
<rect x="91.3" y="177.7" width="7.3" height="7.3" fill="#d0d0d0"/>
<rect x="98.3" y="177.7" width="7.3" height="7.3" fill="#dddddd"/>
<rect x="105.3" y="177.7" width="7.3" height="7.3" fill="#e7e7e7"/>
<rect x="112.3" y="177.7" width="7.3" height="7.3" fill="#eeeeee"/>
<rect x="119.3" y="177.7" width="14.3" height="7.3" fill="#f2f2f2"/>
<rect x="133.2" y="177.7" width="7.3" height="7.3" fill="#efefef"/>
<rect x="140.2" y="177.7" width="7.3" height="7.3" fill="#e9e9e9"/>
<rect x="147.2" y="177.7" width="7.3" height="7.3" fill="#e1e1e1"/>
<rect x="154.2" y="177.7" width="7.3" height="7.3" fill="#dbdbdb"/>
<rect x="161.2" y="177.7" width="7.3" height="7.3" fill="#d7d7d7"/>
<rect x="168.2" y="177.7" width="14.3" height="7.3" fill="#d4d4d4"/>
<rect x="182.2" y="177.7" width="7.3" height="7.3" fill="#d8d8d8"/>
<rect x="189.1" y="177.7" width="14.3" height="7.3" fill="#dadada"/>
<rect x="203.1" y="177.7" width="7.3" height="7.3" fill="#d5d5d5"/>
<rect x="210.1" y="177.7" width="7.3" height="7.3" fill="#cdcdcd"/>
<rect x="217.1" y="177.7" width="7.3" height="7.3" fill="#c0c0c0"/>
<rect x="224.1" y="177.7" width="7.3" height="7.3" fill="#afafaf"/>
<rect x="231.1" y="177.7" width="7.3" height="7.3" fill="#9e9e9e"/>
<rect x="238.0" y="177.7" width="7.3" height="7.3" fill="#8f8f8f"/>
<rect x="245.0" y="177.7" width="7.3" height="7.3" fill="#848484"/>
<rect x="252.0" y="177.7" width="7.3" height="7.3" fill="#7c7c7c"/>
<rect x="259.0" y="177.7" width="7.3" height="7.3" fill="#757575"/>
<rect x="266.0" y="177.7" width="7.3" height="7.3" fill="#717171"/>
<rect x="273.0" y="177.7" width="7.3" height="7.3" fill="#6d6d6d"/>
<rect x="280.0" y="177.7" width="7.3" height="7.3" fill="#6a6a6a"/>
<rect x="286.9" y="177.7" width="7.3" height="7.3" fill="#666666"/>
<rect x="293.9" y="177.7" width="7.3" height="7.3" fill="#636363"/>
<rect x="300.9" y="177.7" width="7.3" height="7.3" fill="#616161"/>
<rect x="307.9" y="177.7" width="7.3" height="7.3" fill="#5e5e5e"/>
<rect x="314.9" y="177.7" width="7.3" height="7.3" fill="#5c5c5c"/>
<rect x="321.9" y="177.7" width="7.3" height="7.3" fill="#595959"/>
<rect x="328.9" y="177.7" width="7.3" height="7.3" fill="#575757"/>
<rect x="335.8" y="177.7" width="7.3" height="7.3" fill="#555555"/>
<rect x="342.8" y="177.7" width="7.3" height="7.3" fill="#535353"/>
<rect x="349.8" y="177.7" width="7.3" height="7.3" fill="#525252"/>
<rect x="356.8" y="177.7" width="7.3" height="7.3" fill="#515151"/>
<rect x="363.8" y="177.7" width="7.3" height="7.3" fill="#4e4e4e"/>
<rect x="370.8" y="177.7" width="7.3" height="7.3" fill="#494949"/>
<rect x="377.8" y="177.7" width="7.3" height="7.3" fill="#434343"/>
<rect x="384.8" y="177.7" width="7.3" height="7.3" fill="#3d3d3d"/>
<rect x="391.7" y="177.7" width="7.3" height="7.3" fill="#353535"/>
<rect x="398.7" y="177.7" width="7.3" height="7.3" fill="#2e2e2e"/>
<rect x="405.7" y="177.7" width="7.3" height="7.3" fill="#2a2a2a"/>
<rect x="412.7" y="177.7" width="7.3" height="7.3" fill="#272727"/>
<rect x="419.7" y="177.7" width="7.3" height="7.3" fill="#252525"/>
<rect x="426.7" y="177.7" width="7.3" height="7.3" fill="#232323"/>
<rect x="433.7" y="177.7" width="7.3" height="7.3" fill="#222222"/>
<rect x="440.6" y="177.7" width="21.3" height="7.3" fill="#212121"/>
<rect x="461.6" y="177.7" width="7.3" height="7.3" fill="#222222"/>
<rect x="468.6" y="177.7" width="7.3" height="7.3" fill="#232323"/>
<rect x="475.6" y="177.7" width="7.3" height="7.3" fill="#262626"/>
<rect x="482.6" y="177.7" width="7.3" height="7.3" fill="#292929"/>
<rect x="489.5" y="177.7" width="7.3" height="7.3" fill="#2b2b2b"/>
<rect x="496.5" y="177.7" width="7.3" height="7.3" fill="#2e2e2e"/>
<rect x="503.5" y="177.7" width="28.2" height="7.3" fill="#303030"/>
<rect x="-13.5" y="184.7" width="28.2" height="7.3" fill="#565656"/>
<rect x="14.5" y="184.7" width="7.3" height="7.3" fill="#595959"/>
<rect x="21.5" y="184.7" width="7.3" height="7.3" fill="#5d5d5d"/>
<rect x="28.5" y="184.7" width="7.3" height="7.3" fill="#636363"/>
<rect x="35.4" y="184.7" width="7.3" height="7.3" fill="#696969"/>
<rect x="42.4" y="184.7" width="7.3" height="7.3" fill="#717171"/>
<rect x="49.4" y="184.7" width="7.3" height="7.3" fill="#797979"/>
<rect x="56.4" y="184.7" width="7.3" height="7.3" fill="#828282"/>
<rect x="63.4" y="184.7" width="7.3" height="7.3" fill="#8d8d8d"/>
<rect x="70.4" y="184.7" width="7.3" height="7.3" fill="#9a9a9a"/>
<rect x="77.4" y="184.7" width="7.3" height="7.3" fill="#aaaaaa"/>
<rect x="84.3" y="184.7" width="7.3" height="7.3" fill="#bbbbbb"/>
<rect x="91.3" y="184.7" width="7.3" height="7.3" fill="#cacaca"/>
<rect x="98.3" y="184.7" width="7.3" height="7.3" fill="#d7d7d7"/>
<rect x="105.3" y="184.7" width="7.3" height="7.3" fill="#e2e2e2"/>
<rect x="112.3" y="184.7" width="7.3" height="7.3" fill="#e9e9e9"/>
<rect x="119.3" y="184.7" width="7.3" height="7.3" fill="#ececec"/>
<rect x="126.3" y="184.7" width="7.3" height="7.3" fill="#eeeeee"/>
<rect x="133.2" y="184.7" width="21.3" height="7.3" fill="#efefef"/>
<rect x="154.2" y="184.7" width="7.3" height="7.3" fill="#eeeeee"/>
<rect x="161.2" y="184.7" width="7.3" height="7.3" fill="#ececec"/>
<rect x="168.2" y="184.7" width="7.3" height="7.3" fill="#e9e9e9"/>
<rect x="175.2" y="184.7" width="7.3" height="7.3" fill="#e5e5e5"/>
<rect x="182.2" y="184.7" width="7.3" height="7.3" fill="#dfdfdf"/>
<rect x="189.1" y="184.7" width="7.3" height="7.3" fill="#d9d9d9"/>
<rect x="196.1" y="184.7" width="7.3" height="7.3" fill="#d4d4d4"/>
<rect x="203.1" y="184.7" width="7.3" height="7.3" fill="#cfcfcf"/>
<rect x="210.1" y="184.7" width="7.3" height="7.3" fill="#c8c8c8"/>
<rect x="217.1" y="184.7" width="7.3" height="7.3" fill="#bdbdbd"/>
<rect x="224.1" y="184.7" width="7.3" height="7.3" fill="#aeaeae"/>
<rect x="231.1" y="184.7" width="7.3" height="7.3" fill="#9e9e9e"/>
<rect x="238.0" y="184.7" width="7.3" height="7.3" fill="#8f8f8f"/>
<rect x="245.0" y="184.7" width="7.3" height="7.3" fill="#818181"/>
<rect x="252.0" y="184.7" width="7.3" height="7.3" fill="#767676"/>
<rect x="259.0" y="184.7" width="7.3" height="7.3" fill="#6f6f6f"/>
<rect x="266.0" y="184.7" width="7.3" height="7.3" fill="#6a6a6a"/>
<rect x="273.0" y="184.7" width="7.3" height="7.3" fill="#676767"/>
<rect x="280.0" y="184.7" width="7.3" height="7.3" fill="#656565"/>
<rect x="286.9" y="184.7" width="7.3" height="7.3" fill="#626262"/>
<rect x="293.9" y="184.7" width="7.3" height="7.3" fill="#606060"/>
<rect x="300.9" y="184.7" width="7.3" height="7.3" fill="#5e5e5e"/>
<rect x="307.9" y="184.7" width="7.3" height="7.3" fill="#5c5c5c"/>
<rect x="314.9" y="184.7" width="7.3" height="7.3" fill="#5b5b5b"/>
<rect x="321.9" y="184.7" width="7.3" height="7.3" fill="#595959"/>
<rect x="328.9" y="184.7" width="7.3" height="7.3" fill="#565656"/>
<rect x="335.8" y="184.7" width="7.3" height="7.3" fill="#545454"/>
<rect x="342.8" y="184.7" width="7.3" height="7.3" fill="#525252"/>
<rect x="349.8" y="184.7" width="7.3" height="7.3" fill="#505050"/>
<rect x="356.8" y="184.7" width="7.3" height="7.3" fill="#4e4e4e"/>
<rect x="363.8" y="184.7" width="7.3" height="7.3" fill="#4b4b4b"/>
<rect x="370.8" y="184.7" width="7.3" height="7.3" fill="#464646"/>
<rect x="377.8" y="184.7" width="7.3" height="7.3" fill="#414141"/>
<rect x="384.8" y="184.7" width="7.3" height="7.3" fill="#3a3a3a"/>
<rect x="391.7" y="184.7" width="7.3" height="7.3" fill="#333333"/>
<rect x="398.7" y="184.7" width="7.3" height="7.3" fill="#2c2c2c"/>
<rect x="405.7" y="184.7" width="7.3" height="7.3" fill="#282828"/>
<rect x="412.7" y="184.7" width="7.3" height="7.3" fill="#262626"/>
<rect x="419.7" y="184.7" width="7.3" height="7.3" fill="#252525"/>
<rect x="426.7" y="184.7" width="7.3" height="7.3" fill="#232323"/>
<rect x="433.7" y="184.7" width="7.3" height="7.3" fill="#222222"/>
<rect x="440.6" y="184.7" width="21.3" height="7.3" fill="#212121"/>
<rect x="461.6" y="184.7" width="7.3" height="7.3" fill="#222222"/>
<rect x="468.6" y="184.7" width="7.3" height="7.3" fill="#232323"/>
<rect x="475.6" y="184.7" width="7.3" height="7.3" fill="#262626"/>
<rect x="482.6" y="184.7" width="7.3" height="7.3" fill="#292929"/>
<rect x="489.5" y="184.7" width="7.3" height="7.3" fill="#2b2b2b"/>
<rect x="496.5" y="184.7" width="7.3" height="7.3" fill="#2e2e2e"/>
<rect x="503.5" y="184.7" width="28.2" height="7.3" fill="#303030"/>
<rect x="-13.5" y="191.6" width="28.2" height="7.3" fill="#595959"/>
<rect x="14.5" y="191.6" width="7.3" height="7.3" fill="#5c5c5c"/>
<rect x="21.5" y="191.6" width="7.3" height="7.3" fill="#616161"/>
<rect x="28.5" y="191.6" width="7.3" height="7.3" fill="#666666"/>
<rect x="35.4" y="191.6" width="7.3" height="7.3" fill="#6c6c6c"/>
<rect x="42.4" y="191.6" width="7.3" height="7.3" fill="#737373"/>
<rect x="49.4" y="191.6" width="7.3" height="7.3" fill="#7b7b7b"/>
<rect x="56.4" y="191.6" width="7.3" height="7.3" fill="#838383"/>
<rect x="63.4" y="191.6" width="7.3" height="7.3" fill="#8c8c8c"/>
<rect x="70.4" y="191.6" width="7.3" height="7.3" fill="#949494"/>
<rect x="77.4" y="191.6" width="7.3" height="7.3" fill="#9b9b9b"/>
<rect x="84.3" y="191.6" width="7.3" height="7.3" fill="#a2a2a2"/>
<rect x="91.3" y="191.6" width="7.3" height="7.3" fill="#a9a9a9"/>
<rect x="98.3" y="191.6" width="7.3" height="7.3" fill="#aeaeae"/>
<rect x="105.3" y="191.6" width="7.3" height="7.3" fill="#b4b4b4"/>
<rect x="112.3" y="191.6" width="7.3" height="7.3" fill="#bbbbbb"/>
<rect x="119.3" y="191.6" width="7.3" height="7.3" fill="#c2c2c2"/>
<rect x="126.3" y="191.6" width="7.3" height="7.3" fill="#cbcbcb"/>
<rect x="133.2" y="191.6" width="7.3" height="7.3" fill="#d5d5d5"/>
<rect x="140.2" y="191.6" width="7.3" height="7.3" fill="#e0e0e0"/>
<rect x="147.2" y="191.6" width="7.3" height="7.3" fill="#e9e9e9"/>
<rect x="154.2" y="191.6" width="7.3" height="7.3" fill="#eeeeee"/>
<rect x="161.2" y="191.6" width="7.3" height="7.3" fill="#efefef"/>
<rect x="168.2" y="191.6" width="7.3" height="7.3" fill="#eaeaea"/>
<rect x="175.2" y="191.6" width="7.3" height="7.3" fill="#dfdfdf"/>
<rect x="182.2" y="191.6" width="7.3" height="7.3" fill="#cfcfcf"/>
<rect x="189.1" y="191.6" width="7.3" height="7.3" fill="#bfbfbf"/>
<rect x="196.1" y="191.6" width="7.3" height="7.3" fill="#b4b4b4"/>
<rect x="203.1" y="191.6" width="7.3" height="7.3" fill="#aeaeae"/>
<rect x="210.1" y="191.6" width="7.3" height="7.3" fill="#aaaaaa"/>
<rect x="217.1" y="191.6" width="7.3" height="7.3" fill="#a5a5a5"/>
<rect x="224.1" y="191.6" width="7.3" height="7.3" fill="#9d9d9d"/>
<rect x="231.1" y="191.6" width="7.3" height="7.3" fill="#959595"/>
<rect x="238.0" y="191.6" width="7.3" height="7.3" fill="#8c8c8c"/>
<rect x="245.0" y="191.6" width="7.3" height="7.3" fill="#838383"/>
<rect x="252.0" y="191.6" width="7.3" height="7.3" fill="#7a7a7a"/>
<rect x="259.0" y="191.6" width="7.3" height="7.3" fill="#737373"/>
<rect x="266.0" y="191.6" width="7.3" height="7.3" fill="#6e6e6e"/>
<rect x="273.0" y="191.6" width="7.3" height="7.3" fill="#6b6b6b"/>
<rect x="280.0" y="191.6" width="7.3" height="7.3" fill="#676767"/>
<rect x="286.9" y="191.6" width="7.3" height="7.3" fill="#646464"/>
<rect x="293.9" y="191.6" width="7.3" height="7.3" fill="#616161"/>
<rect x="300.9" y="191.6" width="7.3" height="7.3" fill="#5f5f5f"/>
<rect x="307.9" y="191.6" width="7.3" height="7.3" fill="#5d5d5d"/>
<rect x="314.9" y="191.6" width="7.3" height="7.3" fill="#5b5b5b"/>
<rect x="321.9" y="191.6" width="7.3" height="7.3" fill="#575757"/>
<rect x="328.9" y="191.6" width="7.3" height="7.3" fill="#515151"/>
<rect x="335.8" y="191.6" width="7.3" height="7.3" fill="#4b4b4b"/>
<rect x="342.8" y="191.6" width="7.3" height="7.3" fill="#464646"/>
<rect x="349.8" y="191.6" width="7.3" height="7.3" fill="#434343"/>
<rect x="356.8" y="191.6" width="7.3" height="7.3" fill="#404040"/>
<rect x="363.8" y="191.6" width="7.3" height="7.3" fill="#3d3d3d"/>
<rect x="370.8" y="191.6" width="7.3" height="7.3" fill="#393939"/>
<rect x="377.8" y="191.6" width="7.3" height="7.3" fill="#343434"/>
<rect x="384.8" y="191.6" width="7.3" height="7.3" fill="#303030"/>
<rect x="391.7" y="191.6" width="7.3" height="7.3" fill="#2d2d2d"/>
<rect x="398.7" y="191.6" width="7.3" height="7.3" fill="#292929"/>
<rect x="405.7" y="191.6" width="7.3" height="7.3" fill="#272727"/>
<rect x="412.7" y="191.6" width="7.3" height="7.3" fill="#252525"/>
<rect x="419.7" y="191.6" width="7.3" height="7.3" fill="#242424"/>
<rect x="426.7" y="191.6" width="7.3" height="7.3" fill="#232323"/>
<rect x="433.7" y="191.6" width="14.3" height="7.3" fill="#222222"/>
<rect x="447.6" y="191.6" width="14.3" height="7.3" fill="#212121"/>
<rect x="461.6" y="191.6" width="7.3" height="7.3" fill="#222222"/>
<rect x="468.6" y="191.6" width="7.3" height="7.3" fill="#232323"/>
<rect x="475.6" y="191.6" width="7.3" height="7.3" fill="#252525"/>
<rect x="482.6" y="191.6" width="7.3" height="7.3" fill="#282828"/>
<rect x="489.5" y="191.6" width="7.3" height="7.3" fill="#2a2a2a"/>
<rect x="496.5" y="191.6" width="7.3" height="7.3" fill="#2d2d2d"/>
<rect x="503.5" y="191.6" width="28.2" height="7.3" fill="#2f2f2f"/>
<rect x="-13.5" y="198.6" width="28.2" height="7.3" fill="#585858"/>
<rect x="14.5" y="198.6" width="7.3" height="7.3" fill="#5d5d5d"/>
<rect x="21.5" y="198.6" width="7.3" height="7.3" fill="#626262"/>
<rect x="28.5" y="198.6" width="7.3" height="7.3" fill="#686868"/>
<rect x="35.4" y="198.6" width="7.3" height="7.3" fill="#6f6f6f"/>
<rect x="42.4" y="198.6" width="7.3" height="7.3" fill="#767676"/>
<rect x="49.4" y="198.6" width="7.3" height="7.3" fill="#7d7d7d"/>
<rect x="56.4" y="198.6" width="7.3" height="7.3" fill="#858585"/>
<rect x="63.4" y="198.6" width="7.3" height="7.3" fill="#8c8c8c"/>
<rect x="70.4" y="198.6" width="7.3" height="7.3" fill="#919191"/>
<rect x="77.4" y="198.6" width="7.3" height="7.3" fill="#949494"/>
<rect x="84.3" y="198.6" width="7.3" height="7.3" fill="#969696"/>
<rect x="91.3" y="198.6" width="7.3" height="7.3" fill="#989898"/>
<rect x="98.3" y="198.6" width="7.3" height="7.3" fill="#9a9a9a"/>
<rect x="105.3" y="198.6" width="7.3" height="7.3" fill="#9d9d9d"/>
<rect x="112.3" y="198.6" width="7.3" height="7.3" fill="#a1a1a1"/>
<rect x="119.3" y="198.6" width="7.3" height="7.3" fill="#a8a8a8"/>
<rect x="126.3" y="198.6" width="7.3" height="7.3" fill="#b0b0b0"/>
<rect x="133.2" y="198.6" width="7.3" height="7.3" fill="#bbbbbb"/>
<rect x="140.2" y="198.6" width="7.3" height="7.3" fill="#c7c7c7"/>
<rect x="147.2" y="198.6" width="7.3" height="7.3" fill="#d2d2d2"/>
<rect x="154.2" y="198.6" width="7.3" height="7.3" fill="#dadada"/>
<rect x="161.2" y="198.6" width="7.3" height="7.3" fill="#dedede"/>
<rect x="168.2" y="198.6" width="7.3" height="7.3" fill="#dfdfdf"/>
<rect x="175.2" y="198.6" width="7.3" height="7.3" fill="#dadada"/>
<rect x="182.2" y="198.6" width="7.3" height="7.3" fill="#cfcfcf"/>
<rect x="189.1" y="198.6" width="7.3" height="7.3" fill="#c3c3c3"/>
<rect x="196.1" y="198.6" width="7.3" height="7.3" fill="#bababa"/>
<rect x="203.1" y="198.6" width="7.3" height="7.3" fill="#b2b2b2"/>
<rect x="210.1" y="198.6" width="7.3" height="7.3" fill="#ababab"/>
<rect x="217.1" y="198.6" width="7.3" height="7.3" fill="#a6a6a6"/>
<rect x="224.1" y="198.6" width="7.3" height="7.3" fill="#a3a3a3"/>
<rect x="231.1" y="198.6" width="7.3" height="7.3" fill="#9f9f9f"/>
<rect x="238.0" y="198.6" width="7.3" height="7.3" fill="#999999"/>
<rect x="245.0" y="198.6" width="7.3" height="7.3" fill="#919191"/>
<rect x="252.0" y="198.6" width="7.3" height="7.3" fill="#888888"/>
<rect x="259.0" y="198.6" width="7.3" height="7.3" fill="#818181"/>
<rect x="266.0" y="198.6" width="7.3" height="7.3" fill="#7c7c7c"/>
<rect x="273.0" y="198.6" width="7.3" height="7.3" fill="#777777"/>
<rect x="280.0" y="198.6" width="7.3" height="7.3" fill="#727272"/>
<rect x="286.9" y="198.6" width="7.3" height="7.3" fill="#6d6d6d"/>
<rect x="293.9" y="198.6" width="7.3" height="7.3" fill="#696969"/>
<rect x="300.9" y="198.6" width="7.3" height="7.3" fill="#656565"/>
<rect x="307.9" y="198.6" width="7.3" height="7.3" fill="#636363"/>
<rect x="314.9" y="198.6" width="7.3" height="7.3" fill="#606060"/>
<rect x="321.9" y="198.6" width="7.3" height="7.3" fill="#595959"/>
<rect x="328.9" y="198.6" width="7.3" height="7.3" fill="#4f4f4f"/>
<rect x="335.8" y="198.6" width="7.3" height="7.3" fill="#454545"/>
<rect x="342.8" y="198.6" width="7.3" height="7.3" fill="#3d3d3d"/>
<rect x="349.8" y="198.6" width="7.3" height="7.3" fill="#383838"/>
<rect x="356.8" y="198.6" width="7.3" height="7.3" fill="#343434"/>
<rect x="363.8" y="198.6" width="7.3" height="7.3" fill="#303030"/>
<rect x="370.8" y="198.6" width="7.3" height="7.3" fill="#2d2d2d"/>
<rect x="377.8" y="198.6" width="7.3" height="7.3" fill="#2a2a2a"/>
<rect x="384.8" y="198.6" width="7.3" height="7.3" fill="#282828"/>
<rect x="391.7" y="198.6" width="14.3" height="7.3" fill="#272727"/>
<rect x="405.7" y="198.6" width="7.3" height="7.3" fill="#262626"/>
<rect x="412.7" y="198.6" width="21.3" height="7.3" fill="#252525"/>
<rect x="433.7" y="198.6" width="21.3" height="7.3" fill="#242424"/>
<rect x="454.6" y="198.6" width="14.3" height="7.3" fill="#232323"/>
<rect x="468.6" y="198.6" width="7.3" height="7.3" fill="#242424"/>
<rect x="475.6" y="198.6" width="7.3" height="7.3" fill="#252525"/>
<rect x="482.6" y="198.6" width="7.3" height="7.3" fill="#272727"/>
<rect x="489.5" y="198.6" width="7.3" height="7.3" fill="#292929"/>
<rect x="496.5" y="198.6" width="7.3" height="7.3" fill="#2b2b2b"/>
<rect x="503.5" y="198.6" width="28.2" height="7.3" fill="#2e2e2e"/>
<rect x="-13.5" y="205.6" width="28.2" height="7.3" fill="#535353"/>
<rect x="14.5" y="205.6" width="7.3" height="7.3" fill="#5a5a5a"/>
<rect x="21.5" y="205.6" width="7.3" height="7.3" fill="#616161"/>
<rect x="28.5" y="205.6" width="7.3" height="7.3" fill="#686868"/>
<rect x="35.4" y="205.6" width="7.3" height="7.3" fill="#707070"/>
<rect x="42.4" y="205.6" width="7.3" height="7.3" fill="#777777"/>
<rect x="49.4" y="205.6" width="7.3" height="7.3" fill="#7f7f7f"/>
<rect x="56.4" y="205.6" width="7.3" height="7.3" fill="#878787"/>
<rect x="63.4" y="205.6" width="7.3" height="7.3" fill="#8e8e8e"/>
<rect x="70.4" y="205.6" width="7.3" height="7.3" fill="#949494"/>
<rect x="77.4" y="205.6" width="7.3" height="7.3" fill="#989898"/>
<rect x="84.3" y="205.6" width="7.3" height="7.3" fill="#9c9c9c"/>
<rect x="91.3" y="205.6" width="7.3" height="7.3" fill="#a0a0a0"/>
<rect x="98.3" y="205.6" width="7.3" height="7.3" fill="#a4a4a4"/>
<rect x="105.3" y="205.6" width="7.3" height="7.3" fill="#a8a8a8"/>
<rect x="112.3" y="205.6" width="7.3" height="7.3" fill="#ababab"/>
<rect x="119.3" y="205.6" width="7.3" height="7.3" fill="#acacac"/>
<rect x="126.3" y="205.6" width="7.3" height="7.3" fill="#adadad"/>
<rect x="133.2" y="205.6" width="7.3" height="7.3" fill="#afafaf"/>
<rect x="140.2" y="205.6" width="7.3" height="7.3" fill="#b3b3b3"/>
<rect x="147.2" y="205.6" width="7.3" height="7.3" fill="#b8b8b8"/>
<rect x="154.2" y="205.6" width="7.3" height="7.3" fill="#bfbfbf"/>
<rect x="161.2" y="205.6" width="7.3" height="7.3" fill="#c9c9c9"/>
<rect x="168.2" y="205.6" width="7.3" height="7.3" fill="#d2d2d2"/>
<rect x="175.2" y="205.6" width="7.3" height="7.3" fill="#dbdbdb"/>
<rect x="182.2" y="205.6" width="7.3" height="7.3" fill="#e2e2e2"/>
<rect x="189.1" y="205.6" width="7.3" height="7.3" fill="#e5e5e5"/>
<rect x="196.1" y="205.6" width="7.3" height="7.3" fill="#e1e1e1"/>
<rect x="203.1" y="205.6" width="7.3" height="7.3" fill="#d5d5d5"/>
<rect x="210.1" y="205.6" width="7.3" height="7.3" fill="#c8c8c8"/>
<rect x="217.1" y="205.6" width="7.3" height="7.3" fill="#bfbfbf"/>
<rect x="224.1" y="205.6" width="7.3" height="7.3" fill="#b9b9b9"/>
<rect x="231.1" y="205.6" width="7.3" height="7.3" fill="#b5b5b5"/>
<rect x="238.0" y="205.6" width="7.3" height="7.3" fill="#adadad"/>
<rect x="245.0" y="205.6" width="7.3" height="7.3" fill="#a2a2a2"/>
<rect x="252.0" y="205.6" width="7.3" height="7.3" fill="#979797"/>
<rect x="259.0" y="205.6" width="7.3" height="7.3" fill="#8f8f8f"/>
<rect x="266.0" y="205.6" width="7.3" height="7.3" fill="#898989"/>
<rect x="273.0" y="205.6" width="7.3" height="7.3" fill="#848484"/>
<rect x="280.0" y="205.6" width="7.3" height="7.3" fill="#7e7e7e"/>
<rect x="286.9" y="205.6" width="7.3" height="7.3" fill="#777777"/>
<rect x="293.9" y="205.6" width="7.3" height="7.3" fill="#707070"/>
<rect x="300.9" y="205.6" width="7.3" height="7.3" fill="#6b6b6b"/>
<rect x="307.9" y="205.6" width="7.3" height="7.3" fill="#696969"/>
<rect x="314.9" y="205.6" width="7.3" height="7.3" fill="#656565"/>
<rect x="321.9" y="205.6" width="7.3" height="7.3" fill="#5d5d5d"/>
<rect x="328.9" y="205.6" width="7.3" height="7.3" fill="#4f4f4f"/>
<rect x="335.8" y="205.6" width="7.3" height="7.3" fill="#424242"/>
<rect x="342.8" y="205.6" width="7.3" height="7.3" fill="#373737"/>
<rect x="349.8" y="205.6" width="7.3" height="7.3" fill="#303030"/>
<rect x="356.8" y="205.6" width="7.3" height="7.3" fill="#2c2c2c"/>
<rect x="363.8" y="205.6" width="7.3" height="7.3" fill="#292929"/>
<rect x="370.8" y="205.6" width="7.3" height="7.3" fill="#272727"/>
<rect x="377.8" y="205.6" width="7.3" height="7.3" fill="#262626"/>
<rect x="384.8" y="205.6" width="21.3" height="7.3" fill="#252525"/>
<rect x="405.7" y="205.6" width="14.3" height="7.3" fill="#262626"/>
<rect x="419.7" y="205.6" width="35.2" height="7.3" fill="#272727"/>
<rect x="454.6" y="205.6" width="14.3" height="7.3" fill="#262626"/>
<rect x="468.6" y="205.6" width="7.3" height="7.3" fill="#252525"/>
<rect x="475.6" y="205.6" width="14.3" height="7.3" fill="#262626"/>
<rect x="489.5" y="205.6" width="7.3" height="7.3" fill="#282828"/>
<rect x="496.5" y="205.6" width="7.3" height="7.3" fill="#292929"/>
<rect x="503.5" y="205.6" width="28.2" height="7.3" fill="#2c2c2c"/>
<rect x="-13.5" y="212.5" width="28.2" height="7.3" fill="#4b4b4b"/>
<rect x="14.5" y="212.5" width="7.3" height="7.3" fill="#545454"/>
<rect x="21.5" y="212.5" width="7.3" height="7.3" fill="#5c5c5c"/>
<rect x="28.5" y="212.5" width="7.3" height="7.3" fill="#646464"/>
<rect x="35.4" y="212.5" width="7.3" height="7.3" fill="#6c6c6c"/>
<rect x="42.4" y="212.5" width="7.3" height="7.3" fill="#747474"/>
<rect x="49.4" y="212.5" width="7.3" height="7.3" fill="#7c7c7c"/>
<rect x="56.4" y="212.5" width="7.3" height="7.3" fill="#858585"/>
<rect x="63.4" y="212.5" width="7.3" height="7.3" fill="#8d8d8d"/>
<rect x="70.4" y="212.5" width="7.3" height="7.3" fill="#949494"/>
<rect x="77.4" y="212.5" width="7.3" height="7.3" fill="#9a9a9a"/>
<rect x="84.3" y="212.5" width="7.3" height="7.3" fill="#a0a0a0"/>
<rect x="91.3" y="212.5" width="7.3" height="7.3" fill="#a8a8a8"/>
<rect x="98.3" y="212.5" width="7.3" height="7.3" fill="#b0b0b0"/>
<rect x="105.3" y="212.5" width="7.3" height="7.3" fill="#b7b7b7"/>
<rect x="112.3" y="212.5" width="21.3" height="7.3" fill="#bbbbbb"/>
<rect x="133.2" y="212.5" width="7.3" height="7.3" fill="#bababa"/>
<rect x="140.2" y="212.5" width="7.3" height="7.3" fill="#bbbbbb"/>
<rect x="147.2" y="212.5" width="7.3" height="7.3" fill="#bdbdbd"/>
<rect x="154.2" y="212.5" width="7.3" height="7.3" fill="#c2c2c2"/>
<rect x="161.2" y="212.5" width="7.3" height="7.3" fill="#cbcbcb"/>
<rect x="168.2" y="212.5" width="7.3" height="7.3" fill="#d4d4d4"/>
<rect x="175.2" y="212.5" width="7.3" height="7.3" fill="#dddddd"/>
<rect x="182.2" y="212.5" width="7.3" height="7.3" fill="#e4e4e4"/>
<rect x="189.1" y="212.5" width="7.3" height="7.3" fill="#e7e7e7"/>
<rect x="196.1" y="212.5" width="7.3" height="7.3" fill="#e2e2e2"/>
<rect x="203.1" y="212.5" width="7.3" height="7.3" fill="#d3d3d3"/>
<rect x="210.1" y="212.5" width="7.3" height="7.3" fill="#c3c3c3"/>
<rect x="217.1" y="212.5" width="7.3" height="7.3" fill="#b8b8b8"/>
<rect x="224.1" y="212.5" width="7.3" height="7.3" fill="#b3b3b3"/>
<rect x="231.1" y="212.5" width="7.3" height="7.3" fill="#aeaeae"/>
<rect x="238.0" y="212.5" width="7.3" height="7.3" fill="#a7a7a7"/>
<rect x="245.0" y="212.5" width="7.3" height="7.3" fill="#9c9c9c"/>
<rect x="252.0" y="212.5" width="7.3" height="7.3" fill="#909090"/>
<rect x="259.0" y="212.5" width="7.3" height="7.3" fill="#878787"/>
<rect x="266.0" y="212.5" width="7.3" height="7.3" fill="#818181"/>
<rect x="273.0" y="212.5" width="7.3" height="7.3" fill="#7c7c7c"/>
<rect x="280.0" y="212.5" width="7.3" height="7.3" fill="#767676"/>
<rect x="286.9" y="212.5" width="7.3" height="7.3" fill="#717171"/>
<rect x="293.9" y="212.5" width="7.3" height="7.3" fill="#6b6b6b"/>
<rect x="300.9" y="212.5" width="7.3" height="7.3" fill="#666666"/>
<rect x="307.9" y="212.5" width="7.3" height="7.3" fill="#636363"/>
<rect x="314.9" y="212.5" width="7.3" height="7.3" fill="#5e5e5e"/>
<rect x="321.9" y="212.5" width="7.3" height="7.3" fill="#545454"/>
<rect x="328.9" y="212.5" width="7.3" height="7.3" fill="#464646"/>
<rect x="335.8" y="212.5" width="7.3" height="7.3" fill="#373737"/>
<rect x="342.8" y="212.5" width="7.3" height="7.3" fill="#2d2d2d"/>
<rect x="349.8" y="212.5" width="7.3" height="7.3" fill="#282828"/>
<rect x="356.8" y="212.5" width="7.3" height="7.3" fill="#252525"/>
<rect x="363.8" y="212.5" width="7.3" height="7.3" fill="#242424"/>
<rect x="370.8" y="212.5" width="21.3" height="7.3" fill="#232323"/>
<rect x="391.7" y="212.5" width="7.3" height="7.3" fill="#242424"/>
<rect x="398.7" y="212.5" width="7.3" height="7.3" fill="#252525"/>
<rect x="405.7" y="212.5" width="7.3" height="7.3" fill="#262626"/>
<rect x="412.7" y="212.5" width="7.3" height="7.3" fill="#282828"/>
<rect x="419.7" y="212.5" width="7.3" height="7.3" fill="#292929"/>
<rect x="426.7" y="212.5" width="7.3" height="7.3" fill="#2a2a2a"/>
<rect x="433.7" y="212.5" width="7.3" height="7.3" fill="#292929"/>
<rect x="440.6" y="212.5" width="7.3" height="7.3" fill="#282828"/>
<rect x="447.6" y="212.5" width="7.3" height="7.3" fill="#272727"/>
<rect x="454.6" y="212.5" width="28.2" height="7.3" fill="#262626"/>
<rect x="482.6" y="212.5" width="7.3" height="7.3" fill="#272727"/>
<rect x="489.5" y="212.5" width="7.3" height="7.3" fill="#282828"/>
<rect x="496.5" y="212.5" width="7.3" height="7.3" fill="#292929"/>
<rect x="503.5" y="212.5" width="28.2" height="7.3" fill="#2b2b2b"/>
<rect x="-13.5" y="219.5" width="28.2" height="7.3" fill="#454545"/>
<rect x="14.5" y="219.5" width="7.3" height="7.3" fill="#4e4e4e"/>
<rect x="21.5" y="219.5" width="7.3" height="7.3" fill="#565656"/>
<rect x="28.5" y="219.5" width="7.3" height="7.3" fill="#5e5e5e"/>
<rect x="35.4" y="219.5" width="7.3" height="7.3" fill="#656565"/>
<rect x="42.4" y="219.5" width="7.3" height="7.3" fill="#6d6d6d"/>
<rect x="49.4" y="219.5" width="7.3" height="7.3" fill="#757575"/>
<rect x="56.4" y="219.5" width="7.3" height="7.3" fill="#7d7d7d"/>
<rect x="63.4" y="219.5" width="7.3" height="7.3" fill="#868686"/>
<rect x="70.4" y="219.5" width="7.3" height="7.3" fill="#8f8f8f"/>
<rect x="77.4" y="219.5" width="7.3" height="7.3" fill="#979797"/>
<rect x="84.3" y="219.5" width="7.3" height="7.3" fill="#a0a0a0"/>
<rect x="91.3" y="219.5" width="7.3" height="7.3" fill="#a8a8a8"/>
<rect x="98.3" y="219.5" width="7.3" height="7.3" fill="#b1b1b1"/>
<rect x="105.3" y="219.5" width="7.3" height="7.3" fill="#b9b9b9"/>
<rect x="112.3" y="219.5" width="7.3" height="7.3" fill="#bebebe"/>
<rect x="119.3" y="219.5" width="7.3" height="7.3" fill="#c1c1c1"/>
<rect x="126.3" y="219.5" width="28.2" height="7.3" fill="#c2c2c2"/>
<rect x="154.2" y="219.5" width="7.3" height="7.3" fill="#c5c5c5"/>
<rect x="161.2" y="219.5" width="7.3" height="7.3" fill="#cacaca"/>
<rect x="168.2" y="219.5" width="7.3" height="7.3" fill="#cfcfcf"/>
<rect x="175.2" y="219.5" width="14.3" height="7.3" fill="#d1d1d1"/>
<rect x="189.1" y="219.5" width="7.3" height="7.3" fill="#cecece"/>
<rect x="196.1" y="219.5" width="7.3" height="7.3" fill="#c6c6c6"/>
<rect x="203.1" y="219.5" width="7.3" height="7.3" fill="#bbbbbb"/>
<rect x="210.1" y="219.5" width="7.3" height="7.3" fill="#aeaeae"/>
<rect x="217.1" y="219.5" width="7.3" height="7.3" fill="#a5a5a5"/>
<rect x="224.1" y="219.5" width="7.3" height="7.3" fill="#a0a0a0"/>
<rect x="231.1" y="219.5" width="7.3" height="7.3" fill="#9a9a9a"/>
<rect x="238.0" y="219.5" width="7.3" height="7.3" fill="#939393"/>
<rect x="245.0" y="219.5" width="7.3" height="7.3" fill="#8a8a8a"/>
<rect x="252.0" y="219.5" width="7.3" height="7.3" fill="#808080"/>
<rect x="259.0" y="219.5" width="7.3" height="7.3" fill="#787878"/>
<rect x="266.0" y="219.5" width="7.3" height="7.3" fill="#727272"/>
<rect x="273.0" y="219.5" width="7.3" height="7.3" fill="#6d6d6d"/>
<rect x="280.0" y="219.5" width="7.3" height="7.3" fill="#686868"/>
<rect x="286.9" y="219.5" width="7.3" height="7.3" fill="#636363"/>
<rect x="293.9" y="219.5" width="7.3" height="7.3" fill="#5e5e5e"/>
<rect x="300.9" y="219.5" width="7.3" height="7.3" fill="#5a5a5a"/>
<rect x="307.9" y="219.5" width="7.3" height="7.3" fill="#555555"/>
<rect x="314.9" y="219.5" width="7.3" height="7.3" fill="#4e4e4e"/>
<rect x="321.9" y="219.5" width="7.3" height="7.3" fill="#454545"/>
<rect x="328.9" y="219.5" width="7.3" height="7.3" fill="#393939"/>
<rect x="335.8" y="219.5" width="7.3" height="7.3" fill="#2e2e2e"/>
<rect x="342.8" y="219.5" width="7.3" height="7.3" fill="#262626"/>
<rect x="349.8" y="219.5" width="7.3" height="7.3" fill="#232323"/>
<rect x="356.8" y="219.5" width="7.3" height="7.3" fill="#222222"/>
<rect x="363.8" y="219.5" width="14.3" height="7.3" fill="#212121"/>
<rect x="377.8" y="219.5" width="14.3" height="7.3" fill="#222222"/>
<rect x="391.7" y="219.5" width="7.3" height="7.3" fill="#232323"/>
<rect x="398.7" y="219.5" width="7.3" height="7.3" fill="#242424"/>
<rect x="405.7" y="219.5" width="7.3" height="7.3" fill="#262626"/>
<rect x="412.7" y="219.5" width="7.3" height="7.3" fill="#282828"/>
<rect x="419.7" y="219.5" width="21.3" height="7.3" fill="#292929"/>
<rect x="440.6" y="219.5" width="7.3" height="7.3" fill="#272727"/>
<rect x="447.6" y="219.5" width="7.3" height="7.3" fill="#262626"/>
<rect x="454.6" y="219.5" width="28.2" height="7.3" fill="#252525"/>
<rect x="482.6" y="219.5" width="7.3" height="7.3" fill="#262626"/>
<rect x="489.5" y="219.5" width="7.3" height="7.3" fill="#272727"/>
<rect x="496.5" y="219.5" width="7.3" height="7.3" fill="#292929"/>
<rect x="503.5" y="219.5" width="28.2" height="7.3" fill="#2a2a2a"/>
<rect x="-13.5" y="226.5" width="28.2" height="7.3" fill="#404040"/>
<rect x="14.5" y="226.5" width="7.3" height="7.3" fill="#484848"/>
<rect x="21.5" y="226.5" width="7.3" height="7.3" fill="#4f4f4f"/>
<rect x="28.5" y="226.5" width="7.3" height="7.3" fill="#565656"/>
<rect x="35.4" y="226.5" width="7.3" height="7.3" fill="#5c5c5c"/>
<rect x="42.4" y="226.5" width="7.3" height="7.3" fill="#626262"/>
<rect x="49.4" y="226.5" width="7.3" height="7.3" fill="#6a6a6a"/>
<rect x="56.4" y="226.5" width="7.3" height="7.3" fill="#727272"/>
<rect x="63.4" y="226.5" width="7.3" height="7.3" fill="#7b7b7b"/>
<rect x="70.4" y="226.5" width="7.3" height="7.3" fill="#848484"/>
<rect x="77.4" y="226.5" width="7.3" height="7.3" fill="#8f8f8f"/>
<rect x="84.3" y="226.5" width="7.3" height="7.3" fill="#999999"/>
<rect x="91.3" y="226.5" width="7.3" height="7.3" fill="#a2a2a2"/>
<rect x="98.3" y="226.5" width="7.3" height="7.3" fill="#a9a9a9"/>
<rect x="105.3" y="226.5" width="7.3" height="7.3" fill="#aeaeae"/>
<rect x="112.3" y="226.5" width="7.3" height="7.3" fill="#b3b3b3"/>
<rect x="119.3" y="226.5" width="7.3" height="7.3" fill="#b8b8b8"/>
<rect x="126.3" y="226.5" width="7.3" height="7.3" fill="#bbbbbb"/>
<rect x="133.2" y="226.5" width="14.3" height="7.3" fill="#bcbcbc"/>
<rect x="147.2" y="226.5" width="7.3" height="7.3" fill="#bbbbbb"/>
<rect x="154.2" y="226.5" width="7.3" height="7.3" fill="#bcbcbc"/>
<rect x="161.2" y="226.5" width="14.3" height="7.3" fill="#bdbdbd"/>
<rect x="175.2" y="226.5" width="7.3" height="7.3" fill="#b9b9b9"/>
<rect x="182.2" y="226.5" width="7.3" height="7.3" fill="#b2b2b2"/>
<rect x="189.1" y="226.5" width="7.3" height="7.3" fill="#a9a9a9"/>
<rect x="196.1" y="226.5" width="7.3" height="7.3" fill="#a1a1a1"/>
<rect x="203.1" y="226.5" width="7.3" height="7.3" fill="#9b9b9b"/>
<rect x="210.1" y="226.5" width="7.3" height="7.3" fill="#969696"/>
<rect x="217.1" y="226.5" width="7.3" height="7.3" fill="#909090"/>
<rect x="224.1" y="226.5" width="7.3" height="7.3" fill="#8a8a8a"/>
<rect x="231.1" y="226.5" width="7.3" height="7.3" fill="#838383"/>
<rect x="238.0" y="226.5" width="7.3" height="7.3" fill="#7c7c7c"/>
<rect x="245.0" y="226.5" width="7.3" height="7.3" fill="#757575"/>
<rect x="252.0" y="226.5" width="7.3" height="7.3" fill="#6e6e6e"/>
<rect x="259.0" y="226.5" width="7.3" height="7.3" fill="#676767"/>
<rect x="266.0" y="226.5" width="7.3" height="7.3" fill="#626262"/>
<rect x="273.0" y="226.5" width="7.3" height="7.3" fill="#5d5d5d"/>
<rect x="280.0" y="226.5" width="7.3" height="7.3" fill="#575757"/>
<rect x="286.9" y="226.5" width="7.3" height="7.3" fill="#535353"/>
<rect x="293.9" y="226.5" width="7.3" height="7.3" fill="#4e4e4e"/>
<rect x="300.9" y="226.5" width="7.3" height="7.3" fill="#484848"/>
<rect x="307.9" y="226.5" width="7.3" height="7.3" fill="#434343"/>
<rect x="314.9" y="226.5" width="7.3" height="7.3" fill="#3c3c3c"/>
<rect x="321.9" y="226.5" width="7.3" height="7.3" fill="#363636"/>
<rect x="328.9" y="226.5" width="7.3" height="7.3" fill="#2e2e2e"/>
<rect x="335.8" y="226.5" width="7.3" height="7.3" fill="#282828"/>
<rect x="342.8" y="226.5" width="7.3" height="7.3" fill="#242424"/>
<rect x="349.8" y="226.5" width="7.3" height="7.3" fill="#222222"/>
<rect x="356.8" y="226.5" width="35.2" height="7.3" fill="#212121"/>
<rect x="391.7" y="226.5" width="7.3" height="7.3" fill="#222222"/>
<rect x="398.7" y="226.5" width="7.3" height="7.3" fill="#232323"/>
<rect x="405.7" y="226.5" width="7.3" height="7.3" fill="#252525"/>
<rect x="412.7" y="226.5" width="7.3" height="7.3" fill="#262626"/>
<rect x="419.7" y="226.5" width="21.3" height="7.3" fill="#272727"/>
<rect x="440.6" y="226.5" width="7.3" height="7.3" fill="#262626"/>
<rect x="447.6" y="226.5" width="14.3" height="7.3" fill="#252525"/>
<rect x="461.6" y="226.5" width="21.3" height="7.3" fill="#242424"/>
<rect x="482.6" y="226.5" width="7.3" height="7.3" fill="#252525"/>
<rect x="489.5" y="226.5" width="7.3" height="7.3" fill="#262626"/>
<rect x="496.5" y="226.5" width="7.3" height="7.3" fill="#272727"/>
<rect x="503.5" y="226.5" width="28.2" height="7.3" fill="#292929"/>
<rect x="-13.5" y="233.5" width="28.2" height="7.3" fill="#373737"/>
<rect x="14.5" y="233.5" width="7.3" height="7.3" fill="#3e3e3e"/>
<rect x="21.5" y="233.5" width="7.3" height="7.3" fill="#454545"/>
<rect x="28.5" y="233.5" width="7.3" height="7.3" fill="#4b4b4b"/>
<rect x="35.4" y="233.5" width="7.3" height="7.3" fill="#525252"/>
<rect x="42.4" y="233.5" width="7.3" height="7.3" fill="#5a5a5a"/>
<rect x="49.4" y="233.5" width="7.3" height="7.3" fill="#616161"/>
<rect x="56.4" y="233.5" width="7.3" height="7.3" fill="#696969"/>
<rect x="63.4" y="233.5" width="7.3" height="7.3" fill="#717171"/>
<rect x="70.4" y="233.5" width="7.3" height="7.3" fill="#7b7b7b"/>
<rect x="77.4" y="233.5" width="7.3" height="7.3" fill="#868686"/>
<rect x="84.3" y="233.5" width="7.3" height="7.3" fill="#919191"/>
<rect x="91.3" y="233.5" width="7.3" height="7.3" fill="#999999"/>
<rect x="98.3" y="233.5" width="7.3" height="7.3" fill="#9e9e9e"/>
<rect x="105.3" y="233.5" width="7.3" height="7.3" fill="#a2a2a2"/>
<rect x="112.3" y="233.5" width="7.3" height="7.3" fill="#a5a5a5"/>
<rect x="119.3" y="233.5" width="7.3" height="7.3" fill="#a7a7a7"/>
<rect x="126.3" y="233.5" width="7.3" height="7.3" fill="#a9a9a9"/>
<rect x="133.2" y="233.5" width="35.2" height="7.3" fill="#aaaaaa"/>
<rect x="168.2" y="233.5" width="7.3" height="7.3" fill="#a9a9a9"/>
<rect x="175.2" y="233.5" width="7.3" height="7.3" fill="#a5a5a5"/>
<rect x="182.2" y="233.5" width="7.3" height="7.3" fill="#9f9f9f"/>
<rect x="189.1" y="233.5" width="7.3" height="7.3" fill="#979797"/>
<rect x="196.1" y="233.5" width="7.3" height="7.3" fill="#909090"/>
<rect x="203.1" y="233.5" width="7.3" height="7.3" fill="#8a8a8a"/>
<rect x="210.1" y="233.5" width="7.3" height="7.3" fill="#848484"/>
<rect x="217.1" y="233.5" width="7.3" height="7.3" fill="#7e7e7e"/>
<rect x="224.1" y="233.5" width="7.3" height="7.3" fill="#777777"/>
<rect x="231.1" y="233.5" width="7.3" height="7.3" fill="#717171"/>
<rect x="238.0" y="233.5" width="7.3" height="7.3" fill="#6a6a6a"/>
<rect x="245.0" y="233.5" width="7.3" height="7.3" fill="#636363"/>
<rect x="252.0" y="233.5" width="7.3" height="7.3" fill="#5c5c5c"/>
<rect x="259.0" y="233.5" width="7.3" height="7.3" fill="#555555"/>
<rect x="266.0" y="233.5" width="7.3" height="7.3" fill="#4f4f4f"/>
<rect x="273.0" y="233.5" width="7.3" height="7.3" fill="#4a4a4a"/>
<rect x="280.0" y="233.5" width="7.3" height="7.3" fill="#454545"/>
<rect x="286.9" y="233.5" width="7.3" height="7.3" fill="#414141"/>
<rect x="293.9" y="233.5" width="7.3" height="7.3" fill="#3c3c3c"/>
<rect x="300.9" y="233.5" width="7.3" height="7.3" fill="#383838"/>
<rect x="307.9" y="233.5" width="7.3" height="7.3" fill="#343434"/>
<rect x="314.9" y="233.5" width="7.3" height="7.3" fill="#2f2f2f"/>
<rect x="321.9" y="233.5" width="7.3" height="7.3" fill="#2b2b2b"/>
<rect x="328.9" y="233.5" width="7.3" height="7.3" fill="#272727"/>
<rect x="335.8" y="233.5" width="7.3" height="7.3" fill="#242424"/>
<rect x="342.8" y="233.5" width="7.3" height="7.3" fill="#222222"/>
<rect x="349.8" y="233.5" width="42.2" height="7.3" fill="#212121"/>
<rect x="391.7" y="233.5" width="14.3" height="7.3" fill="#222222"/>
<rect x="405.7" y="233.5" width="7.3" height="7.3" fill="#232323"/>
<rect x="412.7" y="233.5" width="7.3" height="7.3" fill="#242424"/>
<rect x="419.7" y="233.5" width="28.2" height="7.3" fill="#252525"/>
<rect x="447.6" y="233.5" width="42.2" height="7.3" fill="#242424"/>
<rect x="489.5" y="233.5" width="7.3" height="7.3" fill="#252525"/>
<rect x="496.5" y="233.5" width="7.3" height="7.3" fill="#262626"/>
<rect x="503.5" y="233.5" width="28.2" height="7.3" fill="#272727"/>
<rect x="-13.5" y="240.4" width="28.2" height="7.3" fill="#313131"/>
<rect x="14.5" y="240.4" width="7.3" height="7.3" fill="#363636"/>
<rect x="21.5" y="240.4" width="7.3" height="7.3" fill="#3d3d3d"/>
<rect x="28.5" y="240.4" width="7.3" height="7.3" fill="#444444"/>
<rect x="35.4" y="240.4" width="7.3" height="7.3" fill="#4c4c4c"/>
<rect x="42.4" y="240.4" width="7.3" height="7.3" fill="#545454"/>
<rect x="49.4" y="240.4" width="7.3" height="7.3" fill="#5b5b5b"/>
<rect x="56.4" y="240.4" width="7.3" height="7.3" fill="#616161"/>
<rect x="63.4" y="240.4" width="7.3" height="7.3" fill="#676767"/>
<rect x="70.4" y="240.4" width="7.3" height="7.3" fill="#6f6f6f"/>
<rect x="77.4" y="240.4" width="7.3" height="7.3" fill="#787878"/>
<rect x="84.3" y="240.4" width="7.3" height="7.3" fill="#828282"/>
<rect x="91.3" y="240.4" width="7.3" height="7.3" fill="#888888"/>
<rect x="98.3" y="240.4" width="7.3" height="7.3" fill="#8c8c8c"/>
<rect x="105.3" y="240.4" width="7.3" height="7.3" fill="#8f8f8f"/>
<rect x="112.3" y="240.4" width="7.3" height="7.3" fill="#909090"/>
<rect x="119.3" y="240.4" width="14.3" height="7.3" fill="#919191"/>
<rect x="133.2" y="240.4" width="7.3" height="7.3" fill="#909090"/>
<rect x="140.2" y="240.4" width="7.3" height="7.3" fill="#8f8f8f"/>
<rect x="147.2" y="240.4" width="7.3" height="7.3" fill="#8e8e8e"/>
<rect x="154.2" y="240.4" width="7.3" height="7.3" fill="#8d8d8d"/>
<rect x="161.2" y="240.4" width="7.3" height="7.3" fill="#8c8c8c"/>
<rect x="168.2" y="240.4" width="7.3" height="7.3" fill="#8b8b8b"/>
<rect x="175.2" y="240.4" width="7.3" height="7.3" fill="#898989"/>
<rect x="182.2" y="240.4" width="7.3" height="7.3" fill="#868686"/>
<rect x="189.1" y="240.4" width="7.3" height="7.3" fill="#828282"/>
<rect x="196.1" y="240.4" width="7.3" height="7.3" fill="#7d7d7d"/>
<rect x="203.1" y="240.4" width="7.3" height="7.3" fill="#787878"/>
<rect x="210.1" y="240.4" width="7.3" height="7.3" fill="#727272"/>
<rect x="217.1" y="240.4" width="7.3" height="7.3" fill="#6d6d6d"/>
<rect x="224.1" y="240.4" width="7.3" height="7.3" fill="#676767"/>
<rect x="231.1" y="240.4" width="7.3" height="7.3" fill="#626262"/>
<rect x="238.0" y="240.4" width="7.3" height="7.3" fill="#5c5c5c"/>
<rect x="245.0" y="240.4" width="7.3" height="7.3" fill="#555555"/>
<rect x="252.0" y="240.4" width="7.3" height="7.3" fill="#4f4f4f"/>
<rect x="259.0" y="240.4" width="7.3" height="7.3" fill="#494949"/>
<rect x="266.0" y="240.4" width="7.3" height="7.3" fill="#434343"/>
<rect x="273.0" y="240.4" width="7.3" height="7.3" fill="#3f3f3f"/>
<rect x="280.0" y="240.4" width="7.3" height="7.3" fill="#3a3a3a"/>
<rect x="286.9" y="240.4" width="7.3" height="7.3" fill="#373737"/>
<rect x="293.9" y="240.4" width="7.3" height="7.3" fill="#333333"/>
<rect x="300.9" y="240.4" width="7.3" height="7.3" fill="#303030"/>
<rect x="307.9" y="240.4" width="7.3" height="7.3" fill="#2d2d2d"/>
<rect x="314.9" y="240.4" width="7.3" height="7.3" fill="#2a2a2a"/>
<rect x="321.9" y="240.4" width="7.3" height="7.3" fill="#272727"/>
<rect x="328.9" y="240.4" width="7.3" height="7.3" fill="#252525"/>
<rect x="335.8" y="240.4" width="7.3" height="7.3" fill="#232323"/>
<rect x="342.8" y="240.4" width="7.3" height="7.3" fill="#222222"/>
<rect x="349.8" y="240.4" width="42.2" height="7.3" fill="#212121"/>
<rect x="391.7" y="240.4" width="14.3" height="7.3" fill="#222222"/>
<rect x="405.7" y="240.4" width="49.2" height="7.3" fill="#232323"/>
<rect x="454.6" y="240.4" width="42.2" height="7.3" fill="#242424"/>
<rect x="496.5" y="240.4" width="7.3" height="7.3" fill="#252525"/>
<rect x="503.5" y="240.4" width="28.2" height="7.3" fill="#262626"/>
<rect x="-13.5" y="247.4" width="28.2" height="7.3" fill="#2f2f2f"/>
<rect x="14.5" y="247.4" width="7.3" height="7.3" fill="#333333"/>
<rect x="21.5" y="247.4" width="7.3" height="7.3" fill="#393939"/>
<rect x="28.5" y="247.4" width="7.3" height="7.3" fill="#404040"/>
<rect x="35.4" y="247.4" width="7.3" height="7.3" fill="#494949"/>
<rect x="42.4" y="247.4" width="7.3" height="7.3" fill="#515151"/>
<rect x="49.4" y="247.4" width="7.3" height="7.3" fill="#575757"/>
<rect x="56.4" y="247.4" width="7.3" height="7.3" fill="#5a5a5a"/>
<rect x="63.4" y="247.4" width="7.3" height="7.3" fill="#5c5c5c"/>
<rect x="70.4" y="247.4" width="7.3" height="7.3" fill="#616161"/>
<rect x="77.4" y="247.4" width="7.3" height="7.3" fill="#676767"/>
<rect x="84.3" y="247.4" width="7.3" height="7.3" fill="#6e6e6e"/>
<rect x="91.3" y="247.4" width="7.3" height="7.3" fill="#737373"/>
<rect x="98.3" y="247.4" width="7.3" height="7.3" fill="#767676"/>
<rect x="105.3" y="247.4" width="7.3" height="7.3" fill="#777777"/>
<rect x="112.3" y="247.4" width="21.3" height="7.3" fill="#797979"/>
<rect x="133.2" y="247.4" width="7.3" height="7.3" fill="#777777"/>
<rect x="140.2" y="247.4" width="7.3" height="7.3" fill="#727272"/>
<rect x="147.2" y="247.4" width="7.3" height="7.3" fill="#6e6e6e"/>
<rect x="154.2" y="247.4" width="7.3" height="7.3" fill="#6b6b6b"/>
<rect x="161.2" y="247.4" width="7.3" height="7.3" fill="#6a6a6a"/>
<rect x="168.2" y="247.4" width="14.3" height="7.3" fill="#696969"/>
<rect x="182.2" y="247.4" width="7.3" height="7.3" fill="#686868"/>
<rect x="189.1" y="247.4" width="7.3" height="7.3" fill="#676767"/>
<rect x="196.1" y="247.4" width="7.3" height="7.3" fill="#656565"/>
<rect x="203.1" y="247.4" width="7.3" height="7.3" fill="#636363"/>
<rect x="210.1" y="247.4" width="7.3" height="7.3" fill="#606060"/>
<rect x="217.1" y="247.4" width="7.3" height="7.3" fill="#5d5d5d"/>
<rect x="224.1" y="247.4" width="7.3" height="7.3" fill="#595959"/>
<rect x="231.1" y="247.4" width="7.3" height="7.3" fill="#555555"/>
<rect x="238.0" y="247.4" width="7.3" height="7.3" fill="#505050"/>
<rect x="245.0" y="247.4" width="7.3" height="7.3" fill="#4b4b4b"/>
<rect x="252.0" y="247.4" width="7.3" height="7.3" fill="#464646"/>
<rect x="259.0" y="247.4" width="7.3" height="7.3" fill="#414141"/>
<rect x="266.0" y="247.4" width="7.3" height="7.3" fill="#3e3e3e"/>
<rect x="273.0" y="247.4" width="7.3" height="7.3" fill="#3b3b3b"/>
<rect x="280.0" y="247.4" width="7.3" height="7.3" fill="#373737"/>
<rect x="286.9" y="247.4" width="7.3" height="7.3" fill="#343434"/>
<rect x="293.9" y="247.4" width="7.3" height="7.3" fill="#313131"/>
<rect x="300.9" y="247.4" width="7.3" height="7.3" fill="#2f2f2f"/>
<rect x="307.9" y="247.4" width="7.3" height="7.3" fill="#2c2c2c"/>
<rect x="314.9" y="247.4" width="7.3" height="7.3" fill="#2a2a2a"/>
<rect x="321.9" y="247.4" width="7.3" height="7.3" fill="#272727"/>
<rect x="328.9" y="247.4" width="7.3" height="7.3" fill="#252525"/>
<rect x="335.8" y="247.4" width="7.3" height="7.3" fill="#232323"/>
<rect x="342.8" y="247.4" width="7.3" height="7.3" fill="#222222"/>
<rect x="349.8" y="247.4" width="42.2" height="7.3" fill="#212121"/>
<rect x="391.7" y="247.4" width="14.3" height="7.3" fill="#222222"/>
<rect x="405.7" y="247.4" width="21.3" height="7.3" fill="#232323"/>
<rect x="426.7" y="247.4" width="14.3" height="7.3" fill="#222222"/>
<rect x="440.6" y="247.4" width="7.3" height="7.3" fill="#232323"/>
<rect x="447.6" y="247.4" width="21.3" height="7.3" fill="#222222"/>
<rect x="468.6" y="247.4" width="14.3" height="7.3" fill="#232323"/>
<rect x="482.6" y="247.4" width="14.3" height="7.3" fill="#242424"/>
<rect x="496.5" y="247.4" width="7.3" height="7.3" fill="#252525"/>
<rect x="503.5" y="247.4" width="28.2" height="7.3" fill="#262626"/>
<rect x="-13.5" y="254.4" width="28.2" height="7.3" fill="#2c2c2c"/>
<rect x="14.5" y="254.4" width="7.3" height="7.3" fill="#2f2f2f"/>
<rect x="21.5" y="254.4" width="7.3" height="7.3" fill="#343434"/>
<rect x="28.5" y="254.4" width="7.3" height="7.3" fill="#3a3a3a"/>
<rect x="35.4" y="254.4" width="7.3" height="7.3" fill="#424242"/>
<rect x="42.4" y="254.4" width="7.3" height="7.3" fill="#4a4a4a"/>
<rect x="49.4" y="254.4" width="7.3" height="7.3" fill="#505050"/>
<rect x="56.4" y="254.4" width="7.3" height="7.3" fill="#545454"/>
<rect x="63.4" y="254.4" width="7.3" height="7.3" fill="#575757"/>
<rect x="70.4" y="254.4" width="7.3" height="7.3" fill="#5a5a5a"/>
<rect x="77.4" y="254.4" width="7.3" height="7.3" fill="#5d5d5d"/>
<rect x="84.3" y="254.4" width="7.3" height="7.3" fill="#5f5f5f"/>
<rect x="91.3" y="254.4" width="7.3" height="7.3" fill="#626262"/>
<rect x="98.3" y="254.4" width="7.3" height="7.3" fill="#656565"/>
<rect x="105.3" y="254.4" width="7.3" height="7.3" fill="#686868"/>
<rect x="112.3" y="254.4" width="14.3" height="7.3" fill="#696969"/>
<rect x="126.3" y="254.4" width="7.3" height="7.3" fill="#676767"/>
<rect x="133.2" y="254.4" width="7.3" height="7.3" fill="#656565"/>
<rect x="140.2" y="254.4" width="7.3" height="7.3" fill="#616161"/>
<rect x="147.2" y="254.4" width="7.3" height="7.3" fill="#5e5e5e"/>
<rect x="154.2" y="254.4" width="28.2" height="7.3" fill="#5c5c5c"/>
<rect x="182.2" y="254.4" width="7.3" height="7.3" fill="#5b5b5b"/>
<rect x="189.1" y="254.4" width="7.3" height="7.3" fill="#595959"/>
<rect x="196.1" y="254.4" width="7.3" height="7.3" fill="#575757"/>
<rect x="203.1" y="254.4" width="7.3" height="7.3" fill="#555555"/>
<rect x="210.1" y="254.4" width="7.3" height="7.3" fill="#525252"/>
<rect x="217.1" y="254.4" width="7.3" height="7.3" fill="#4f4f4f"/>
<rect x="224.1" y="254.4" width="7.3" height="7.3" fill="#4c4c4c"/>
<rect x="231.1" y="254.4" width="7.3" height="7.3" fill="#484848"/>
<rect x="238.0" y="254.4" width="7.3" height="7.3" fill="#444444"/>
<rect x="245.0" y="254.4" width="7.3" height="7.3" fill="#404040"/>
<rect x="252.0" y="254.4" width="7.3" height="7.3" fill="#3d3d3d"/>
<rect x="259.0" y="254.4" width="7.3" height="7.3" fill="#3a3a3a"/>
<rect x="266.0" y="254.4" width="7.3" height="7.3" fill="#373737"/>
<rect x="273.0" y="254.4" width="7.3" height="7.3" fill="#353535"/>
<rect x="280.0" y="254.4" width="7.3" height="7.3" fill="#333333"/>
<rect x="286.9" y="254.4" width="7.3" height="7.3" fill="#303030"/>
<rect x="293.9" y="254.4" width="7.3" height="7.3" fill="#2e2e2e"/>
<rect x="300.9" y="254.4" width="7.3" height="7.3" fill="#2c2c2c"/>
<rect x="307.9" y="254.4" width="7.3" height="7.3" fill="#2a2a2a"/>
<rect x="314.9" y="254.4" width="7.3" height="7.3" fill="#282828"/>
<rect x="321.9" y="254.4" width="7.3" height="7.3" fill="#272727"/>
<rect x="328.9" y="254.4" width="7.3" height="7.3" fill="#252525"/>
<rect x="335.8" y="254.4" width="7.3" height="7.3" fill="#232323"/>
<rect x="342.8" y="254.4" width="7.3" height="7.3" fill="#222222"/>
<rect x="349.8" y="254.4" width="42.2" height="7.3" fill="#212121"/>
<rect x="391.7" y="254.4" width="14.3" height="7.3" fill="#222222"/>
<rect x="405.7" y="254.4" width="14.3" height="7.3" fill="#232323"/>
<rect x="419.7" y="254.4" width="49.2" height="7.3" fill="#222222"/>
<rect x="468.6" y="254.4" width="14.3" height="7.3" fill="#232323"/>
<rect x="482.6" y="254.4" width="14.3" height="7.3" fill="#242424"/>
<rect x="496.5" y="254.4" width="7.3" height="7.3" fill="#252525"/>
<rect x="503.5" y="254.4" width="28.2" height="7.3" fill="#262626"/>
<rect x="-13.5" y="261.4" width="28.2" height="7.3" fill="#2a2a2a"/>
<rect x="14.5" y="261.4" width="7.3" height="7.3" fill="#2d2d2d"/>
<rect x="21.5" y="261.4" width="7.3" height="7.3" fill="#313131"/>
<rect x="28.5" y="261.4" width="7.3" height="7.3" fill="#353535"/>
<rect x="35.4" y="261.4" width="7.3" height="7.3" fill="#3a3a3a"/>
<rect x="42.4" y="261.4" width="7.3" height="7.3" fill="#404040"/>
<rect x="49.4" y="261.4" width="7.3" height="7.3" fill="#454545"/>
<rect x="56.4" y="261.4" width="7.3" height="7.3" fill="#494949"/>
<rect x="63.4" y="261.4" width="7.3" height="7.3" fill="#4c4c4c"/>
<rect x="70.4" y="261.4" width="7.3" height="7.3" fill="#4f4f4f"/>
<rect x="77.4" y="261.4" width="7.3" height="7.3" fill="#515151"/>
<rect x="84.3" y="261.4" width="7.3" height="7.3" fill="#535353"/>
<rect x="91.3" y="261.4" width="7.3" height="7.3" fill="#555555"/>
<rect x="98.3" y="261.4" width="7.3" height="7.3" fill="#575757"/>
<rect x="105.3" y="261.4" width="7.3" height="7.3" fill="#595959"/>
<rect x="112.3" y="261.4" width="7.3" height="7.3" fill="#5a5a5a"/>
<rect x="119.3" y="261.4" width="7.3" height="7.3" fill="#595959"/>
<rect x="126.3" y="261.4" width="7.3" height="7.3" fill="#585858"/>
<rect x="133.2" y="261.4" width="7.3" height="7.3" fill="#555555"/>
<rect x="140.2" y="261.4" width="7.3" height="7.3" fill="#535353"/>
<rect x="147.2" y="261.4" width="7.3" height="7.3" fill="#505050"/>
<rect x="154.2" y="261.4" width="7.3" height="7.3" fill="#4d4d4d"/>
<rect x="161.2" y="261.4" width="7.3" height="7.3" fill="#4e4e4e"/>
<rect x="168.2" y="261.4" width="7.3" height="7.3" fill="#4f4f4f"/>
<rect x="175.2" y="261.4" width="7.3" height="7.3" fill="#505050"/>
<rect x="182.2" y="261.4" width="7.3" height="7.3" fill="#4f4f4f"/>
<rect x="189.1" y="261.4" width="7.3" height="7.3" fill="#4d4d4d"/>
<rect x="196.1" y="261.4" width="7.3" height="7.3" fill="#4b4b4b"/>
<rect x="203.1" y="261.4" width="7.3" height="7.3" fill="#494949"/>
<rect x="210.1" y="261.4" width="7.3" height="7.3" fill="#474747"/>
<rect x="217.1" y="261.4" width="7.3" height="7.3" fill="#444444"/>
<rect x="224.1" y="261.4" width="7.3" height="7.3" fill="#414141"/>
<rect x="231.1" y="261.4" width="7.3" height="7.3" fill="#3e3e3e"/>
<rect x="238.0" y="261.4" width="7.3" height="7.3" fill="#3b3b3b"/>
<rect x="245.0" y="261.4" width="7.3" height="7.3" fill="#383838"/>
<rect x="252.0" y="261.4" width="7.3" height="7.3" fill="#353535"/>
<rect x="259.0" y="261.4" width="7.3" height="7.3" fill="#333333"/>
<rect x="266.0" y="261.4" width="7.3" height="7.3" fill="#323232"/>
<rect x="273.0" y="261.4" width="7.3" height="7.3" fill="#303030"/>
<rect x="280.0" y="261.4" width="7.3" height="7.3" fill="#2f2f2f"/>
<rect x="286.9" y="261.4" width="7.3" height="7.3" fill="#2d2d2d"/>
<rect x="293.9" y="261.4" width="7.3" height="7.3" fill="#2b2b2b"/>
<rect x="300.9" y="261.4" width="7.3" height="7.3" fill="#2a2a2a"/>
<rect x="307.9" y="261.4" width="7.3" height="7.3" fill="#282828"/>
<rect x="314.9" y="261.4" width="7.3" height="7.3" fill="#272727"/>
<rect x="321.9" y="261.4" width="7.3" height="7.3" fill="#262626"/>
<rect x="328.9" y="261.4" width="7.3" height="7.3" fill="#242424"/>
<rect x="335.8" y="261.4" width="7.3" height="7.3" fill="#232323"/>
<rect x="342.8" y="261.4" width="14.3" height="7.3" fill="#222222"/>
<rect x="356.8" y="261.4" width="35.2" height="7.3" fill="#212121"/>
<rect x="391.7" y="261.4" width="14.3" height="7.3" fill="#222222"/>
<rect x="405.7" y="261.4" width="49.2" height="7.3" fill="#232323"/>
<rect x="454.6" y="261.4" width="14.3" height="7.3" fill="#222222"/>
<rect x="468.6" y="261.4" width="14.3" height="7.3" fill="#232323"/>
<rect x="482.6" y="261.4" width="14.3" height="7.3" fill="#242424"/>
<rect x="496.5" y="261.4" width="7.3" height="7.3" fill="#252525"/>
<rect x="503.5" y="261.4" width="28.2" height="7.3" fill="#262626"/>
<rect x="-13.5" y="268.3" width="28.2" height="7.3" fill="#2a2a2a"/>
<rect x="14.5" y="268.3" width="7.3" height="7.3" fill="#2c2c2c"/>
<rect x="21.5" y="268.3" width="7.3" height="7.3" fill="#2f2f2f"/>
<rect x="28.5" y="268.3" width="7.3" height="7.3" fill="#313131"/>
<rect x="35.4" y="268.3" width="7.3" height="7.3" fill="#343434"/>
<rect x="42.4" y="268.3" width="7.3" height="7.3" fill="#363636"/>
<rect x="49.4" y="268.3" width="7.3" height="7.3" fill="#393939"/>
<rect x="56.4" y="268.3" width="7.3" height="7.3" fill="#3b3b3b"/>
<rect x="63.4" y="268.3" width="7.3" height="7.3" fill="#3e3e3e"/>
<rect x="70.4" y="268.3" width="7.3" height="7.3" fill="#404040"/>
<rect x="77.4" y="268.3" width="7.3" height="7.3" fill="#444444"/>
<rect x="84.3" y="268.3" width="7.3" height="7.3" fill="#474747"/>
<rect x="91.3" y="268.3" width="7.3" height="7.3" fill="#494949"/>
<rect x="98.3" y="268.3" width="7.3" height="7.3" fill="#4a4a4a"/>
<rect x="105.3" y="268.3" width="14.3" height="7.3" fill="#4b4b4b"/>
<rect x="119.3" y="268.3" width="7.3" height="7.3" fill="#4a4a4a"/>
<rect x="126.3" y="268.3" width="7.3" height="7.3" fill="#494949"/>
<rect x="133.2" y="268.3" width="7.3" height="7.3" fill="#474747"/>
<rect x="140.2" y="268.3" width="7.3" height="7.3" fill="#444444"/>
<rect x="147.2" y="268.3" width="7.3" height="7.3" fill="#393939"/>
<rect x="154.2" y="268.3" width="7.3" height="7.3" fill="#2a2a2a"/>
<rect x="161.2" y="268.3" width="7.3" height="7.3" fill="#2d2d2d"/>
<rect x="168.2" y="268.3" width="7.3" height="7.3" fill="#3a3a3a"/>
<rect x="175.2" y="268.3" width="7.3" height="7.3" fill="#404040"/>
<rect x="182.2" y="268.3" width="14.3" height="7.3" fill="#414141"/>
<rect x="196.1" y="268.3" width="7.3" height="7.3" fill="#404040"/>
<rect x="203.1" y="268.3" width="7.3" height="7.3" fill="#3f3f3f"/>
<rect x="210.1" y="268.3" width="7.3" height="7.3" fill="#3d3d3d"/>
<rect x="217.1" y="268.3" width="7.3" height="7.3" fill="#3b3b3b"/>
<rect x="224.1" y="268.3" width="7.3" height="7.3" fill="#393939"/>
<rect x="231.1" y="268.3" width="7.3" height="7.3" fill="#373737"/>
<rect x="238.0" y="268.3" width="7.3" height="7.3" fill="#353535"/>
<rect x="245.0" y="268.3" width="7.3" height="7.3" fill="#333333"/>
<rect x="252.0" y="268.3" width="7.3" height="7.3" fill="#313131"/>
<rect x="259.0" y="268.3" width="7.3" height="7.3" fill="#2f2f2f"/>
<rect x="266.0" y="268.3" width="14.3" height="7.3" fill="#2e2e2e"/>
<rect x="280.0" y="268.3" width="7.3" height="7.3" fill="#2c2c2c"/>
<rect x="286.9" y="268.3" width="7.3" height="7.3" fill="#2b2b2b"/>
<rect x="293.9" y="268.3" width="7.3" height="7.3" fill="#292929"/>
<rect x="300.9" y="268.3" width="7.3" height="7.3" fill="#282828"/>
<rect x="307.9" y="268.3" width="7.3" height="7.3" fill="#272727"/>
<rect x="314.9" y="268.3" width="7.3" height="7.3" fill="#262626"/>
<rect x="321.9" y="268.3" width="7.3" height="7.3" fill="#252525"/>
<rect x="328.9" y="268.3" width="7.3" height="7.3" fill="#242424"/>
<rect x="335.8" y="268.3" width="7.3" height="7.3" fill="#232323"/>
<rect x="342.8" y="268.3" width="21.3" height="7.3" fill="#222222"/>
<rect x="363.8" y="268.3" width="21.3" height="7.3" fill="#232323"/>
<rect x="384.8" y="268.3" width="21.3" height="7.3" fill="#222222"/>
<rect x="405.7" y="268.3" width="7.3" height="7.3" fill="#232323"/>
<rect x="412.7" y="268.3" width="14.3" height="7.3" fill="#222222"/>
<rect x="426.7" y="268.3" width="21.3" height="7.3" fill="#232323"/>
<rect x="447.6" y="268.3" width="21.3" height="7.3" fill="#222222"/>
<rect x="468.6" y="268.3" width="14.3" height="7.3" fill="#232323"/>
<rect x="482.6" y="268.3" width="14.3" height="7.3" fill="#242424"/>
<rect x="496.5" y="268.3" width="7.3" height="7.3" fill="#252525"/>
<rect x="503.5" y="268.3" width="28.2" height="7.3" fill="#262626"/>
<rect x="-13.5" y="275.3" width="28.2" height="7.3" fill="#292929"/>
<rect x="14.5" y="275.3" width="7.3" height="7.3" fill="#2b2b2b"/>
<rect x="21.5" y="275.3" width="7.3" height="7.3" fill="#2d2d2d"/>
<rect x="28.5" y="275.3" width="7.3" height="7.3" fill="#2f2f2f"/>
<rect x="35.4" y="275.3" width="7.3" height="7.3" fill="#303030"/>
<rect x="42.4" y="275.3" width="7.3" height="7.3" fill="#323232"/>
<rect x="49.4" y="275.3" width="7.3" height="7.3" fill="#333333"/>
<rect x="56.4" y="275.3" width="7.3" height="7.3" fill="#353535"/>
<rect x="63.4" y="275.3" width="7.3" height="7.3" fill="#373737"/>
<rect x="70.4" y="275.3" width="7.3" height="7.3" fill="#393939"/>
<rect x="77.4" y="275.3" width="7.3" height="7.3" fill="#3c3c3c"/>
<rect x="84.3" y="275.3" width="7.3" height="7.3" fill="#3e3e3e"/>
<rect x="91.3" y="275.3" width="35.2" height="7.3" fill="#404040"/>
<rect x="126.3" y="275.3" width="7.3" height="7.3" fill="#3f3f3f"/>
<rect x="133.2" y="275.3" width="7.3" height="7.3" fill="#3e3e3e"/>
<rect x="140.2" y="275.3" width="7.3" height="7.3" fill="#3c3c3c"/>
<rect x="147.2" y="275.3" width="7.3" height="7.3" fill="#353535"/>
<rect x="154.2" y="275.3" width="7.3" height="7.3" fill="#2c2c2c"/>
<rect x="161.2" y="275.3" width="7.3" height="7.3" fill="#2e2e2e"/>
<rect x="168.2" y="275.3" width="7.3" height="7.3" fill="#363636"/>
<rect x="175.2" y="275.3" width="21.3" height="7.3" fill="#393939"/>
<rect x="196.1" y="275.3" width="14.3" height="7.3" fill="#383838"/>
<rect x="210.1" y="275.3" width="7.3" height="7.3" fill="#373737"/>
<rect x="217.1" y="275.3" width="7.3" height="7.3" fill="#363636"/>
<rect x="224.1" y="275.3" width="7.3" height="7.3" fill="#343434"/>
<rect x="231.1" y="275.3" width="7.3" height="7.3" fill="#323232"/>
<rect x="238.0" y="275.3" width="7.3" height="7.3" fill="#313131"/>
<rect x="245.0" y="275.3" width="7.3" height="7.3" fill="#2f2f2f"/>
<rect x="252.0" y="275.3" width="7.3" height="7.3" fill="#2e2e2e"/>
<rect x="259.0" y="275.3" width="7.3" height="7.3" fill="#2d2d2d"/>
<rect x="266.0" y="275.3" width="7.3" height="7.3" fill="#2c2c2c"/>
<rect x="273.0" y="275.3" width="7.3" height="7.3" fill="#2b2b2b"/>
<rect x="280.0" y="275.3" width="7.3" height="7.3" fill="#2a2a2a"/>
<rect x="286.9" y="275.3" width="7.3" height="7.3" fill="#292929"/>
<rect x="293.9" y="275.3" width="7.3" height="7.3" fill="#282828"/>
<rect x="300.9" y="275.3" width="7.3" height="7.3" fill="#272727"/>
<rect x="307.9" y="275.3" width="14.3" height="7.3" fill="#262626"/>
<rect x="321.9" y="275.3" width="7.3" height="7.3" fill="#252525"/>
<rect x="328.9" y="275.3" width="14.3" height="7.3" fill="#242424"/>
<rect x="342.8" y="275.3" width="14.3" height="7.3" fill="#232323"/>
<rect x="356.8" y="275.3" width="35.2" height="7.3" fill="#242424"/>
<rect x="391.7" y="275.3" width="14.3" height="7.3" fill="#232323"/>
<rect x="405.7" y="275.3" width="56.2" height="7.3" fill="#222222"/>
<rect x="461.6" y="275.3" width="21.3" height="7.3" fill="#232323"/>
<rect x="482.6" y="275.3" width="14.3" height="7.3" fill="#242424"/>
<rect x="496.5" y="275.3" width="7.3" height="7.3" fill="#252525"/>
<rect x="503.5" y="275.3" width="28.2" height="7.3" fill="#262626"/>
<rect x="-13.5" y="282.3" width="28.2" height="7.3" fill="#292929"/>
<rect x="14.5" y="282.3" width="7.3" height="7.3" fill="#2b2b2b"/>
<rect x="21.5" y="282.3" width="7.3" height="7.3" fill="#2c2c2c"/>
<rect x="28.5" y="282.3" width="7.3" height="7.3" fill="#2d2d2d"/>
<rect x="35.4" y="282.3" width="7.3" height="7.3" fill="#2f2f2f"/>
<rect x="42.4" y="282.3" width="7.3" height="7.3" fill="#303030"/>
<rect x="49.4" y="282.3" width="7.3" height="7.3" fill="#313131"/>
<rect x="56.4" y="282.3" width="7.3" height="7.3" fill="#333333"/>
<rect x="63.4" y="282.3" width="7.3" height="7.3" fill="#343434"/>
<rect x="70.4" y="282.3" width="7.3" height="7.3" fill="#363636"/>
<rect x="77.4" y="282.3" width="7.3" height="7.3" fill="#383838"/>
<rect x="84.3" y="282.3" width="7.3" height="7.3" fill="#393939"/>
<rect x="91.3" y="282.3" width="14.3" height="7.3" fill="#3a3a3a"/>
<rect x="105.3" y="282.3" width="14.3" height="7.3" fill="#393939"/>
<rect x="119.3" y="282.3" width="21.3" height="7.3" fill="#3a3a3a"/>
<rect x="140.2" y="282.3" width="7.3" height="7.3" fill="#393939"/>
<rect x="147.2" y="282.3" width="7.3" height="7.3" fill="#383838"/>
<rect x="154.2" y="282.3" width="7.3" height="7.3" fill="#373737"/>
<rect x="161.2" y="282.3" width="7.3" height="7.3" fill="#363636"/>
<rect x="168.2" y="282.3" width="7.3" height="7.3" fill="#373737"/>
<rect x="175.2" y="282.3" width="7.3" height="7.3" fill="#363636"/>
<rect x="182.2" y="282.3" width="14.3" height="7.3" fill="#353535"/>
<rect x="196.1" y="282.3" width="21.3" height="7.3" fill="#343434"/>
<rect x="217.1" y="282.3" width="7.3" height="7.3" fill="#333333"/>
<rect x="224.1" y="282.3" width="7.3" height="7.3" fill="#313131"/>
<rect x="231.1" y="282.3" width="7.3" height="7.3" fill="#303030"/>
<rect x="238.0" y="282.3" width="7.3" height="7.3" fill="#2f2f2f"/>
<rect x="245.0" y="282.3" width="7.3" height="7.3" fill="#2e2e2e"/>
<rect x="252.0" y="282.3" width="7.3" height="7.3" fill="#2d2d2d"/>
<rect x="259.0" y="282.3" width="7.3" height="7.3" fill="#2c2c2c"/>
<rect x="266.0" y="282.3" width="7.3" height="7.3" fill="#2b2b2b"/>
<rect x="273.0" y="282.3" width="7.3" height="7.3" fill="#2a2a2a"/>
<rect x="280.0" y="282.3" width="7.3" height="7.3" fill="#292929"/>
<rect x="286.9" y="282.3" width="7.3" height="7.3" fill="#282828"/>
<rect x="293.9" y="282.3" width="14.3" height="7.3" fill="#272727"/>
<rect x="307.9" y="282.3" width="14.3" height="7.3" fill="#262626"/>
<rect x="321.9" y="282.3" width="14.3" height="7.3" fill="#252525"/>
<rect x="335.8" y="282.3" width="56.2" height="7.3" fill="#242424"/>
<rect x="391.7" y="282.3" width="14.3" height="7.3" fill="#232323"/>
<rect x="405.7" y="282.3" width="7.3" height="7.3" fill="#222222"/>
<rect x="412.7" y="282.3" width="7.3" height="7.3" fill="#212121"/>
<rect x="419.7" y="282.3" width="14.3" height="7.3" fill="#202020"/>
<rect x="433.7" y="282.3" width="21.3" height="7.3" fill="#1f1f1f"/>
<rect x="454.6" y="282.3" width="7.3" height="7.3" fill="#202020"/>
<rect x="461.6" y="282.3" width="7.3" height="7.3" fill="#212121"/>
<rect x="468.6" y="282.3" width="14.3" height="7.3" fill="#222222"/>
<rect x="482.6" y="282.3" width="7.3" height="7.3" fill="#232323"/>
<rect x="489.5" y="282.3" width="7.3" height="7.3" fill="#242424"/>
<rect x="496.5" y="282.3" width="7.3" height="7.3" fill="#252525"/>
<rect x="503.5" y="282.3" width="28.2" height="7.3" fill="#272727"/>
<rect x="-13.5" y="289.2" width="28.2" height="7.3" fill="#2b2b2b"/>
<rect x="14.5" y="289.2" width="7.3" height="7.3" fill="#2c2c2c"/>
<rect x="21.5" y="289.2" width="7.3" height="7.3" fill="#2d2d2d"/>
<rect x="28.5" y="289.2" width="7.3" height="7.3" fill="#2e2e2e"/>
<rect x="35.4" y="289.2" width="7.3" height="7.3" fill="#2f2f2f"/>
<rect x="42.4" y="289.2" width="7.3" height="7.3" fill="#303030"/>
<rect x="49.4" y="289.2" width="7.3" height="7.3" fill="#313131"/>
<rect x="56.4" y="289.2" width="7.3" height="7.3" fill="#323232"/>
<rect x="63.4" y="289.2" width="7.3" height="7.3" fill="#333333"/>
<rect x="70.4" y="289.2" width="7.3" height="7.3" fill="#353535"/>
<rect x="77.4" y="289.2" width="7.3" height="7.3" fill="#363636"/>
<rect x="84.3" y="289.2" width="7.3" height="7.3" fill="#373737"/>
<rect x="91.3" y="289.2" width="28.2" height="7.3" fill="#383838"/>
<rect x="119.3" y="289.2" width="7.3" height="7.3" fill="#393939"/>
<rect x="126.3" y="289.2" width="14.3" height="7.3" fill="#3a3a3a"/>
<rect x="140.2" y="289.2" width="7.3" height="7.3" fill="#393939"/>
<rect x="147.2" y="289.2" width="7.3" height="7.3" fill="#383838"/>
<rect x="154.2" y="289.2" width="21.3" height="7.3" fill="#373737"/>
<rect x="175.2" y="289.2" width="7.3" height="7.3" fill="#363636"/>
<rect x="182.2" y="289.2" width="7.3" height="7.3" fill="#353535"/>
<rect x="189.1" y="289.2" width="21.3" height="7.3" fill="#343434"/>
<rect x="210.1" y="289.2" width="14.3" height="7.3" fill="#333333"/>
<rect x="224.1" y="289.2" width="7.3" height="7.3" fill="#313131"/>
<rect x="231.1" y="289.2" width="7.3" height="7.3" fill="#303030"/>
<rect x="238.0" y="289.2" width="7.3" height="7.3" fill="#2f2f2f"/>
<rect x="245.0" y="289.2" width="14.3" height="7.3" fill="#2e2e2e"/>
<rect x="259.0" y="289.2" width="7.3" height="7.3" fill="#2d2d2d"/>
<rect x="266.0" y="289.2" width="7.3" height="7.3" fill="#2c2c2c"/>
<rect x="273.0" y="289.2" width="7.3" height="7.3" fill="#2b2b2b"/>
<rect x="280.0" y="289.2" width="7.3" height="7.3" fill="#2a2a2a"/>
<rect x="286.9" y="289.2" width="7.3" height="7.3" fill="#292929"/>
<rect x="293.9" y="289.2" width="7.3" height="7.3" fill="#282828"/>
<rect x="300.9" y="289.2" width="14.3" height="7.3" fill="#272727"/>
<rect x="314.9" y="289.2" width="14.3" height="7.3" fill="#262626"/>
<rect x="328.9" y="289.2" width="14.3" height="7.3" fill="#252525"/>
<rect x="342.8" y="289.2" width="14.3" height="7.3" fill="#242424"/>
<rect x="356.8" y="289.2" width="7.3" height="7.3" fill="#252525"/>
<rect x="363.8" y="289.2" width="21.3" height="7.3" fill="#242424"/>
<rect x="384.8" y="289.2" width="14.3" height="7.3" fill="#232323"/>
<rect x="398.7" y="289.2" width="7.3" height="7.3" fill="#222222"/>
<rect x="405.7" y="289.2" width="7.3" height="7.3" fill="#202020"/>
<rect x="412.7" y="289.2" width="7.3" height="7.3" fill="#1f1f1f"/>
<rect x="419.7" y="289.2" width="7.3" height="7.3" fill="#1d1d1d"/>
<rect x="426.7" y="289.2" width="7.3" height="7.3" fill="#1b1b1b"/>
<rect x="433.7" y="289.2" width="28.2" height="7.3" fill="#1a1a1a"/>
<rect x="461.6" y="289.2" width="7.3" height="7.3" fill="#1b1b1b"/>
<rect x="468.6" y="289.2" width="7.3" height="7.3" fill="#1d1d1d"/>
<rect x="475.6" y="289.2" width="7.3" height="7.3" fill="#202020"/>
<rect x="482.6" y="289.2" width="7.3" height="7.3" fill="#222222"/>
<rect x="489.5" y="289.2" width="7.3" height="7.3" fill="#252525"/>
<rect x="496.5" y="289.2" width="7.3" height="7.3" fill="#262626"/>
<rect x="503.5" y="289.2" width="28.2" height="7.3" fill="#272727"/>
<rect x="-13.5" y="296.2" width="28.2" height="7.3" fill="#2b2b2b"/>
<rect x="14.5" y="296.2" width="7.3" height="7.3" fill="#2c2c2c"/>
<rect x="21.5" y="296.2" width="7.3" height="7.3" fill="#2d2d2d"/>
<rect x="28.5" y="296.2" width="7.3" height="7.3" fill="#2e2e2e"/>
<rect x="35.4" y="296.2" width="14.3" height="7.3" fill="#2f2f2f"/>
<rect x="49.4" y="296.2" width="7.3" height="7.3" fill="#303030"/>
<rect x="56.4" y="296.2" width="7.3" height="7.3" fill="#313131"/>
<rect x="63.4" y="296.2" width="7.3" height="7.3" fill="#323232"/>
<rect x="70.4" y="296.2" width="7.3" height="7.3" fill="#343434"/>
<rect x="77.4" y="296.2" width="7.3" height="7.3" fill="#353535"/>
<rect x="84.3" y="296.2" width="7.3" height="7.3" fill="#363636"/>
<rect x="91.3" y="296.2" width="21.3" height="7.3" fill="#373737"/>
<rect x="112.3" y="296.2" width="7.3" height="7.3" fill="#383838"/>
<rect x="119.3" y="296.2" width="28.2" height="7.3" fill="#393939"/>
<rect x="147.2" y="296.2" width="7.3" height="7.3" fill="#383838"/>
<rect x="154.2" y="296.2" width="14.3" height="7.3" fill="#373737"/>
<rect x="168.2" y="296.2" width="14.3" height="7.3" fill="#363636"/>
<rect x="182.2" y="296.2" width="7.3" height="7.3" fill="#353535"/>
<rect x="189.1" y="296.2" width="21.3" height="7.3" fill="#343434"/>
<rect x="210.1" y="296.2" width="7.3" height="7.3" fill="#333333"/>
<rect x="217.1" y="296.2" width="7.3" height="7.3" fill="#323232"/>
<rect x="224.1" y="296.2" width="7.3" height="7.3" fill="#313131"/>
<rect x="231.1" y="296.2" width="7.3" height="7.3" fill="#303030"/>
<rect x="238.0" y="296.2" width="14.3" height="7.3" fill="#2f2f2f"/>
<rect x="252.0" y="296.2" width="7.3" height="7.3" fill="#2e2e2e"/>
<rect x="259.0" y="296.2" width="7.3" height="7.3" fill="#2d2d2d"/>
<rect x="266.0" y="296.2" width="7.3" height="7.3" fill="#2c2c2c"/>
<rect x="273.0" y="296.2" width="7.3" height="7.3" fill="#2b2b2b"/>
<rect x="280.0" y="296.2" width="7.3" height="7.3" fill="#2a2a2a"/>
<rect x="286.9" y="296.2" width="7.3" height="7.3" fill="#292929"/>
<rect x="293.9" y="296.2" width="7.3" height="7.3" fill="#282828"/>
<rect x="300.9" y="296.2" width="14.3" height="7.3" fill="#272727"/>
<rect x="314.9" y="296.2" width="14.3" height="7.3" fill="#262626"/>
<rect x="328.9" y="296.2" width="7.3" height="7.3" fill="#252525"/>
<rect x="335.8" y="296.2" width="42.2" height="7.3" fill="#242424"/>
<rect x="377.8" y="296.2" width="14.3" height="7.3" fill="#232323"/>
<rect x="391.7" y="296.2" width="7.3" height="7.3" fill="#222222"/>
<rect x="398.7" y="296.2" width="7.3" height="7.3" fill="#212121"/>
<rect x="405.7" y="296.2" width="7.3" height="7.3" fill="#1f1f1f"/>
<rect x="412.7" y="296.2" width="7.3" height="7.3" fill="#1c1c1c"/>
<rect x="419.7" y="296.2" width="7.3" height="7.3" fill="#1a1a1a"/>
<rect x="426.7" y="296.2" width="7.3" height="7.3" fill="#181818"/>
<rect x="433.7" y="296.2" width="7.3" height="7.3" fill="#161616"/>
<rect x="440.6" y="296.2" width="7.3" height="7.3" fill="#151515"/>
<rect x="447.6" y="296.2" width="7.3" height="7.3" fill="#141414"/>
<rect x="454.6" y="296.2" width="7.3" height="7.3" fill="#151515"/>
<rect x="461.6" y="296.2" width="7.3" height="7.3" fill="#161616"/>
<rect x="468.6" y="296.2" width="7.3" height="7.3" fill="#191919"/>
<rect x="475.6" y="296.2" width="7.3" height="7.3" fill="#1d1d1d"/>
<rect x="482.6" y="296.2" width="7.3" height="7.3" fill="#212121"/>
<rect x="489.5" y="296.2" width="7.3" height="7.3" fill="#242424"/>
<rect x="496.5" y="296.2" width="7.3" height="7.3" fill="#262626"/>
<rect x="503.5" y="296.2" width="28.2" height="7.3" fill="#272727"/>
<rect x="-13.5" y="303.2" width="28.2" height="7.3" fill="#292929"/>
<rect x="14.5" y="303.2" width="7.3" height="7.3" fill="#2a2a2a"/>
<rect x="21.5" y="303.2" width="7.3" height="7.3" fill="#2b2b2b"/>
<rect x="28.5" y="303.2" width="14.3" height="7.3" fill="#2c2c2c"/>
<rect x="42.4" y="303.2" width="14.3" height="7.3" fill="#2d2d2d"/>
<rect x="56.4" y="303.2" width="7.3" height="7.3" fill="#2e2e2e"/>
<rect x="63.4" y="303.2" width="7.3" height="7.3" fill="#2f2f2f"/>
<rect x="70.4" y="303.2" width="7.3" height="7.3" fill="#303030"/>
<rect x="77.4" y="303.2" width="7.3" height="7.3" fill="#313131"/>
<rect x="84.3" y="303.2" width="14.3" height="7.3" fill="#323232"/>
<rect x="98.3" y="303.2" width="14.3" height="7.3" fill="#333333"/>
<rect x="112.3" y="303.2" width="14.3" height="7.3" fill="#343434"/>
<rect x="126.3" y="303.2" width="14.3" height="7.3" fill="#353535"/>
<rect x="140.2" y="303.2" width="14.3" height="7.3" fill="#343434"/>
<rect x="154.2" y="303.2" width="14.3" height="7.3" fill="#333333"/>
<rect x="168.2" y="303.2" width="21.3" height="7.3" fill="#323232"/>
<rect x="189.1" y="303.2" width="14.3" height="7.3" fill="#313131"/>
<rect x="203.1" y="303.2" width="14.3" height="7.3" fill="#303030"/>
<rect x="217.1" y="303.2" width="7.3" height="7.3" fill="#2f2f2f"/>
<rect x="224.1" y="303.2" width="7.3" height="7.3" fill="#2e2e2e"/>
<rect x="231.1" y="303.2" width="14.3" height="7.3" fill="#2d2d2d"/>
<rect x="245.0" y="303.2" width="14.3" height="7.3" fill="#2c2c2c"/>
<rect x="259.0" y="303.2" width="7.3" height="7.3" fill="#2b2b2b"/>
<rect x="266.0" y="303.2" width="7.3" height="7.3" fill="#2a2a2a"/>
<rect x="273.0" y="303.2" width="7.3" height="7.3" fill="#292929"/>
<rect x="280.0" y="303.2" width="7.3" height="7.3" fill="#282828"/>
<rect x="286.9" y="303.2" width="14.3" height="7.3" fill="#272727"/>
<rect x="300.9" y="303.2" width="7.3" height="7.3" fill="#262626"/>
<rect x="307.9" y="303.2" width="14.3" height="7.3" fill="#252525"/>
<rect x="321.9" y="303.2" width="42.2" height="7.3" fill="#242424"/>
<rect x="363.8" y="303.2" width="14.3" height="7.3" fill="#232323"/>
<rect x="377.8" y="303.2" width="14.3" height="7.3" fill="#222222"/>
<rect x="391.7" y="303.2" width="7.3" height="7.3" fill="#212121"/>
<rect x="398.7" y="303.2" width="7.3" height="7.3" fill="#202020"/>
<rect x="405.7" y="303.2" width="7.3" height="7.3" fill="#1e1e1e"/>
<rect x="412.7" y="303.2" width="7.3" height="7.3" fill="#1c1c1c"/>
<rect x="419.7" y="303.2" width="7.3" height="7.3" fill="#191919"/>
<rect x="426.7" y="303.2" width="7.3" height="7.3" fill="#171717"/>
<rect x="433.7" y="303.2" width="7.3" height="7.3" fill="#151515"/>
<rect x="440.6" y="303.2" width="21.3" height="7.3" fill="#141414"/>
<rect x="461.6" y="303.2" width="7.3" height="7.3" fill="#161616"/>
<rect x="468.6" y="303.2" width="7.3" height="7.3" fill="#181818"/>
<rect x="475.6" y="303.2" width="7.3" height="7.3" fill="#1c1c1c"/>
<rect x="482.6" y="303.2" width="7.3" height="7.3" fill="#202020"/>
<rect x="489.5" y="303.2" width="7.3" height="7.3" fill="#232323"/>
<rect x="496.5" y="303.2" width="7.3" height="7.3" fill="#252525"/>
<rect x="503.5" y="303.2" width="28.2" height="7.3" fill="#262626"/>
<rect x="-13.5" y="310.2" width="35.2" height="7.3" fill="#262626"/>
<rect x="21.5" y="310.2" width="14.3" height="7.3" fill="#272727"/>
<rect x="35.4" y="310.2" width="14.3" height="7.3" fill="#282828"/>
<rect x="49.4" y="310.2" width="14.3" height="7.3" fill="#292929"/>
<rect x="63.4" y="310.2" width="14.3" height="7.3" fill="#2a2a2a"/>
<rect x="77.4" y="310.2" width="14.3" height="7.3" fill="#2b2b2b"/>
<rect x="91.3" y="310.2" width="14.3" height="7.3" fill="#2c2c2c"/>
<rect x="105.3" y="310.2" width="56.2" height="7.3" fill="#2d2d2d"/>
<rect x="161.2" y="310.2" width="14.3" height="7.3" fill="#2c2c2c"/>
<rect x="175.2" y="310.2" width="14.3" height="7.3" fill="#2b2b2b"/>
<rect x="189.1" y="310.2" width="7.3" height="7.3" fill="#2c2c2c"/>
<rect x="196.1" y="310.2" width="14.3" height="7.3" fill="#2b2b2b"/>
<rect x="210.1" y="310.2" width="14.3" height="7.3" fill="#2a2a2a"/>
<rect x="224.1" y="310.2" width="14.3" height="7.3" fill="#292929"/>
<rect x="238.0" y="310.2" width="14.3" height="7.3" fill="#282828"/>
<rect x="252.0" y="310.2" width="14.3" height="7.3" fill="#272727"/>
<rect x="266.0" y="310.2" width="14.3" height="7.3" fill="#262626"/>
<rect x="280.0" y="310.2" width="14.3" height="7.3" fill="#252525"/>
<rect x="293.9" y="310.2" width="14.3" height="7.3" fill="#242424"/>
<rect x="307.9" y="310.2" width="14.3" height="7.3" fill="#232323"/>
<rect x="321.9" y="310.2" width="21.3" height="7.3" fill="#222222"/>
<rect x="342.8" y="310.2" width="21.3" height="7.3" fill="#232323"/>
<rect x="363.8" y="310.2" width="14.3" height="7.3" fill="#222222"/>
<rect x="377.8" y="310.2" width="21.3" height="7.3" fill="#212121"/>
<rect x="398.7" y="310.2" width="7.3" height="7.3" fill="#202020"/>
<rect x="405.7" y="310.2" width="7.3" height="7.3" fill="#1f1f1f"/>
<rect x="412.7" y="310.2" width="7.3" height="7.3" fill="#1d1d1d"/>
<rect x="419.7" y="310.2" width="7.3" height="7.3" fill="#1a1a1a"/>
<rect x="426.7" y="310.2" width="7.3" height="7.3" fill="#191919"/>
<rect x="433.7" y="310.2" width="28.2" height="7.3" fill="#171717"/>
<rect x="461.6" y="310.2" width="7.3" height="7.3" fill="#191919"/>
<rect x="468.6" y="310.2" width="7.3" height="7.3" fill="#1b1b1b"/>
<rect x="475.6" y="310.2" width="7.3" height="7.3" fill="#1d1d1d"/>
<rect x="482.6" y="310.2" width="7.3" height="7.3" fill="#202020"/>
<rect x="489.5" y="310.2" width="7.3" height="7.3" fill="#222222"/>
<rect x="496.5" y="310.2" width="7.3" height="7.3" fill="#232323"/>
<rect x="503.5" y="310.2" width="28.2" height="7.3" fill="#242424"/>
<rect x="-13.5" y="317.1" width="56.2" height="7.3" fill="#222222"/>
<rect x="42.4" y="317.1" width="35.2" height="7.3" fill="#232323"/>
<rect x="77.4" y="317.1" width="133.0" height="7.3" fill="#242424"/>
<rect x="210.1" y="317.1" width="35.2" height="7.3" fill="#232323"/>
<rect x="245.0" y="317.1" width="42.2" height="7.3" fill="#222222"/>
<rect x="286.9" y="317.1" width="35.2" height="7.3" fill="#212121"/>
<rect x="321.9" y="317.1" width="7.3" height="7.3" fill="#202020"/>
<rect x="328.9" y="317.1" width="42.2" height="7.3" fill="#212121"/>
<rect x="370.8" y="317.1" width="35.2" height="7.3" fill="#202020"/>
<rect x="405.7" y="317.1" width="7.3" height="7.3" fill="#1f1f1f"/>
<rect x="412.7" y="317.1" width="7.3" height="7.3" fill="#1e1e1e"/>
<rect x="419.7" y="317.1" width="14.3" height="7.3" fill="#1d1d1d"/>
<rect x="433.7" y="317.1" width="28.2" height="7.3" fill="#1c1c1c"/>
<rect x="461.6" y="317.1" width="7.3" height="7.3" fill="#1d1d1d"/>
<rect x="468.6" y="317.1" width="7.3" height="7.3" fill="#1e1e1e"/>
<rect x="475.6" y="317.1" width="7.3" height="7.3" fill="#1f1f1f"/>
<rect x="482.6" y="317.1" width="14.3" height="7.3" fill="#202020"/>
<rect x="496.5" y="317.1" width="35.2" height="7.3" fill="#212121"/>
<rect x="-13.5" y="324.1" width="56.2" height="7.3" fill="#222222"/>
<rect x="42.4" y="324.1" width="35.2" height="7.3" fill="#232323"/>
<rect x="77.4" y="324.1" width="133.0" height="7.3" fill="#242424"/>
<rect x="210.1" y="324.1" width="35.2" height="7.3" fill="#232323"/>
<rect x="245.0" y="324.1" width="42.2" height="7.3" fill="#222222"/>
<rect x="286.9" y="324.1" width="35.2" height="7.3" fill="#212121"/>
<rect x="321.9" y="324.1" width="7.3" height="7.3" fill="#202020"/>
<rect x="328.9" y="324.1" width="42.2" height="7.3" fill="#212121"/>
<rect x="370.8" y="324.1" width="35.2" height="7.3" fill="#202020"/>
<rect x="405.7" y="324.1" width="7.3" height="7.3" fill="#1f1f1f"/>
<rect x="412.7" y="324.1" width="7.3" height="7.3" fill="#1e1e1e"/>
<rect x="419.7" y="324.1" width="14.3" height="7.3" fill="#1d1d1d"/>
<rect x="433.7" y="324.1" width="28.2" height="7.3" fill="#1c1c1c"/>
<rect x="461.6" y="324.1" width="7.3" height="7.3" fill="#1d1d1d"/>
<rect x="468.6" y="324.1" width="7.3" height="7.3" fill="#1e1e1e"/>
<rect x="475.6" y="324.1" width="7.3" height="7.3" fill="#1f1f1f"/>
<rect x="482.6" y="324.1" width="14.3" height="7.3" fill="#202020"/>
<rect x="496.5" y="324.1" width="35.2" height="7.3" fill="#212121"/>
<rect x="-13.5" y="331.1" width="56.2" height="7.3" fill="#222222"/>
<rect x="42.4" y="331.1" width="35.2" height="7.3" fill="#232323"/>
<rect x="77.4" y="331.1" width="133.0" height="7.3" fill="#242424"/>
<rect x="210.1" y="331.1" width="35.2" height="7.3" fill="#232323"/>
<rect x="245.0" y="331.1" width="42.2" height="7.3" fill="#222222"/>
<rect x="286.9" y="331.1" width="35.2" height="7.3" fill="#212121"/>
<rect x="321.9" y="331.1" width="7.3" height="7.3" fill="#202020"/>
<rect x="328.9" y="331.1" width="42.2" height="7.3" fill="#212121"/>
<rect x="370.8" y="331.1" width="35.2" height="7.3" fill="#202020"/>
<rect x="405.7" y="331.1" width="7.3" height="7.3" fill="#1f1f1f"/>
<rect x="412.7" y="331.1" width="7.3" height="7.3" fill="#1e1e1e"/>
<rect x="419.7" y="331.1" width="14.3" height="7.3" fill="#1d1d1d"/>
<rect x="433.7" y="331.1" width="28.2" height="7.3" fill="#1c1c1c"/>
<rect x="461.6" y="331.1" width="7.3" height="7.3" fill="#1d1d1d"/>
<rect x="468.6" y="331.1" width="7.3" height="7.3" fill="#1e1e1e"/>
<rect x="475.6" y="331.1" width="7.3" height="7.3" fill="#1f1f1f"/>
<rect x="482.6" y="331.1" width="14.3" height="7.3" fill="#202020"/>
<rect x="496.5" y="331.1" width="35.2" height="7.3" fill="#212121"/>
<rect x="-13.5" y="338.0" width="56.2" height="7.3" fill="#222222"/>
<rect x="42.4" y="338.0" width="35.2" height="7.3" fill="#232323"/>
<rect x="77.4" y="338.0" width="133.0" height="7.3" fill="#242424"/>
<rect x="210.1" y="338.0" width="35.2" height="7.3" fill="#232323"/>
<rect x="245.0" y="338.0" width="42.2" height="7.3" fill="#222222"/>
<rect x="286.9" y="338.0" width="35.2" height="7.3" fill="#212121"/>
<rect x="321.9" y="338.0" width="7.3" height="7.3" fill="#202020"/>
<rect x="328.9" y="338.0" width="42.2" height="7.3" fill="#212121"/>
<rect x="370.8" y="338.0" width="35.2" height="7.3" fill="#202020"/>
<rect x="405.7" y="338.0" width="7.3" height="7.3" fill="#1f1f1f"/>
<rect x="412.7" y="338.0" width="7.3" height="7.3" fill="#1e1e1e"/>
<rect x="419.7" y="338.0" width="14.3" height="7.3" fill="#1d1d1d"/>
<rect x="433.7" y="338.0" width="28.2" height="7.3" fill="#1c1c1c"/>
<rect x="461.6" y="338.0" width="7.3" height="7.3" fill="#1d1d1d"/>
<rect x="468.6" y="338.0" width="7.3" height="7.3" fill="#1e1e1e"/>
<rect x="475.6" y="338.0" width="7.3" height="7.3" fill="#1f1f1f"/>
<rect x="482.6" y="338.0" width="14.3" height="7.3" fill="#202020"/>
<rect x="496.5" y="338.0" width="35.2" height="7.3" fill="#212121"/></g>
<g stroke="#000" stroke-width="1.5" stroke-dasharray="3 0.6" opacity="0.56" filter="url(#soft2)"><line x1="91.3" y1="73.1" x2="91.3" y2="324.1"/><line x1="175.2" y1="73.1" x2="175.2" y2="324.1"/><line x1="259.0" y1="73.1" x2="259.0" y2="324.1"/><line x1="342.8" y1="73.1" x2="342.8" y2="324.1"/><line x1="426.7" y1="73.1" x2="426.7" y2="324.1"/><line x1="7.5" y1="114.9" x2="510.5" y2="114.9"/><line x1="7.5" y1="156.8" x2="510.5" y2="156.8"/><line x1="7.5" y1="198.6" x2="510.5" y2="198.6"/><line x1="7.5" y1="240.4" x2="510.5" y2="240.4"/><line x1="7.5" y1="282.3" x2="510.5" y2="282.3"/></g>
<g filter="url(#soft)"><path d="M188.4,199.7 185.6,200.8 182.2,201.8 178.0,202.9 175.2,203.1 171.0,203.9 168.2,203.1 164.0,203.6 161.2,204.5 156.3,204.9 152.8,205.3 149.6,203.5 147.5,201.9 M280.7,204.5 282.1,201.4 284.2,198.2 287.6,196.6 291.1,197.8" fill="none" stroke="#000" stroke-width="1.5" stroke-linejoin="round" stroke-linecap="round" opacity="0.8"/>
<path d="M166.1,128.6 161.9,131.7 159.8,133.3 162.6,131.9 165.4,130.3 169.2,130.6 168.2,132.4 168.9,134.2 173.8,135.0 175.2,133.8 173.8,135.4 169.6,136.7 166.8,137.8 168.9,135.2 165.4,135.8 161.2,137.7 161.2,140.5 155.6,142.0 153.5,144.2 152.8,147.0 153.5,149.5 150.7,150.9 148.6,152.3 145.8,154.3 145.4,156.8 146.9,160.9 146.9,163.3 145.5,163.5 143.4,160.1 143.3,158.2 141.6,156.8 139.5,157.0 136.0,156.2 134.2,157.9 131.9,157.7 127.7,157.3 123.5,159.6 122.9,162.6 122.4,167.2 124.9,171.8 127.0,173.2 130.5,172.7 132.6,169.6 136.0,168.6 137.7,168.9 136.7,172.1 135.6,174.2 134.9,176.6 138.8,176.4 142.6,177.7 142.3,181.2 142.2,183.5 144.4,186.1 147.5,185.5 150.7,186.6 M84.3,128.9 86.9,130.3 85.0,132.4 85.7,138.6 85.3,142.4 87.8,145.9 90.5,150.5 93.7,151.5 95.2,153.3 97.2,156.8 99.0,159.6 102.5,163.7 105.4,166.7 104.6,164.4 101.4,159.6 98.7,154.7 101.8,157.5 106.0,161.6 110.2,165.8 111.9,170.0 116.5,173.5 119.6,175.2 124.9,176.7 127.7,176.0 131.2,179.1 136.0,180.2 137.0,180.6 139.1,183.3 139.3,184.7 142.1,186.5 144.7,187.4 146.7,188.4 147.9,186.1 150.0,187.0 150.9,188.8 M150.7,186.6 153.5,183.8 157.0,182.8 159.1,181.3 159.1,183.3 161.2,181.9 164.0,183.8 168.9,184.2 172.4,183.7 174.5,186.3 178.0,189.1 182.2,190.4 186.3,191.9 189.1,196.5 189.1,198.6 191.9,199.7 196.8,202.1 201.7,202.6 206.6,205.0 209.8,206.3 210.2,209.8 207.3,213.9 205.2,216.7 204.5,222.3 203.1,226.5 200.3,230.7 194.7,232.1 191.2,234.9 191.0,238.3 188.4,241.8 184.9,245.6 180.8,247.3 177.4,246.0 179.4,249.2 178.5,251.6 172.4,253.0 172.0,255.8 168.2,255.8 M156.3,257.2 156.0,253.7 157.0,250.2 159.1,244.6 159.1,240.4 160.5,234.9 160.9,226.5 160.8,224.1 157.7,222.0 152.5,218.1 151.1,215.3 148.6,209.8 145.8,207.0 145.4,205.2 147.2,203.2 145.8,200.0 147.2,197.5 148.9,196.5 151.0,193.0 150.7,189.5 150.9,188.8 M259.3,129.4 256.9,129.3 256.6,130.8 252.4,131.1 255.5,132.6 257.3,134.5 256.9,137.9 253.4,137.9 247.8,137.7 246.1,138.6 246.7,142.1 245.9,144.6 246.6,147.0 249.9,147.3 251.3,148.4 256.2,147.4 258.3,145.2 259.4,142.8 262.1,140.9 263.5,139.6 264.6,137.9 266.5,138.2 269.5,137.7 271.6,136.7 273.7,138.6 276.2,140.5 279.0,141.7 280.9,142.8 281.4,144.9 280.9,145.6 282.8,144.2 284.8,142.7 282.8,142.1 281.4,140.3 278.6,139.3 276.5,137.0 276.2,135.3 278.1,135.0 280.0,136.5 282.8,138.6 286.0,140.3 286.2,142.4 288.3,145.2 289.3,147.3 291.1,147.7 291.4,145.6 292.5,145.3 290.9,143.5 291.1,142.1 293.2,141.7 295.3,142.0 295.6,142.8 296.0,144.2 296.7,146.3 298.1,147.6 301.6,147.7 304.4,148.3 307.2,147.4 309.3,147.6 309.0,149.8 307.9,152.6 306.9,155.0 304.4,155.2 M299.5,141.1 303.0,141.1 307.9,140.0 312.1,141.4 317.0,140.7 316.3,138.6 312.1,136.5 310.7,135.4 312.8,133.1 307.9,134.5 309.3,135.8 305.8,136.5 305.1,134.5 302.3,133.8 300.2,135.8 298.8,137.9 298.1,140.0 299.5,141.1 M327.5,133.8 331.0,133.3 333.1,135.4 330.3,136.5 332.4,139.3 333.1,142.8 334.4,146.3 330.3,147.4 328.2,146.3 327.5,143.5 328.9,142.1 326.1,139.3 324.7,136.5 327.5,133.8 M455.3,128.9 454.6,131.7 451.8,134.5 448.3,137.2 443.4,138.4 440.6,139.6 439.9,141.7 437.1,143.5 439.8,147.0 439.2,149.5 435.7,150.6 435.5,147.7 436.0,146.0 433.7,144.9 433.7,143.2 430.9,143.2 428.8,144.2 429.5,142.1 426.0,143.5 423.6,144.2 425.3,146.3 430.2,146.7 426.7,148.4 425.7,150.1 428.1,153.3 429.2,155.4 429.5,157.5 427.4,160.3 426.0,163.0 422.5,165.8 418.3,167.5 414.1,168.6 412.7,170.3 410.6,168.3 408.1,169.6 406.7,172.1 408.5,175.2 411.3,178.4 411.7,181.9 408.5,184.0 406.4,186.1 405.7,186.5 405.4,184.7 402.9,183.3 401.5,181.2 399.6,179.8 398.7,183.3 398.0,185.6 399.4,188.8 401.5,190.0 403.5,192.3 404.3,196.6 403.5,196.6 400.5,194.6 399.1,190.9 398.3,189.1 396.3,186.7 396.8,184.0 396.8,180.5 395.5,177.0 394.5,174.9 393.4,175.6 391.0,176.3 390.8,172.8 388.2,169.7 387.3,167.5 384.8,167.9 382.0,168.3 380.6,169.3 379.9,170.7 377.8,171.7 374.0,175.5 371.2,177.0 371.2,180.5 370.5,184.2 369.4,185.8 368.0,186.7 367.3,187.3 365.6,185.1 363.8,181.9 362.4,177.7 360.7,172.1 360.7,169.3 359.6,169.3 357.5,169.6 355.4,167.5 356.8,166.5 354.4,165.6 352.6,163.9 351.9,163.2 345.6,163.5 340.0,162.9 338.6,161.2 337.8,160.8 335.1,161.5 331.7,160.0 329.6,157.5 327.5,156.3 326.1,157.5 327.0,159.6 328.9,161.4 330.7,162.3 330.5,164.3 332.4,164.9 335.1,164.7 337.5,162.1 337.9,164.4 341.0,165.7 342.6,167.2 340.7,170.0 339.6,172.1 336.5,174.2 331.9,176.3 327.5,178.7 321.9,180.8 319.8,180.9 318.7,177.7 317.7,174.9 314.9,170.7 313.5,167.9 312.1,165.1 310.0,162.3 307.9,159.6 307.9,157.5 307.2,159.6 306.8,159.8 305.8,158.9 304.4,156.8 304.4,155.2 M304.4,156.8 305.8,159.8 308.6,165.1 311.0,169.3 311.4,172.5 314.2,177.0 316.6,178.4 319.4,181.2 319.4,182.6 321.9,184.0 325.4,183.0 330.3,181.9 330.5,184.1 328.6,187.7 326.1,192.3 322.6,195.8 317.7,200.0 315.3,202.4 314.2,204.9 313.2,207.7 314.2,209.1 313.9,211.2 315.6,213.2 315.7,218.8 314.9,220.9 310.7,223.4 307.9,226.2 308.6,231.4 304.8,234.6 304.8,237.6 302.3,240.3 298.8,244.2 294.9,246.0 289.7,246.3 286.9,247.1 284.7,246.0 284.2,243.2 282.1,238.6 280.0,235.6 279.3,230.0 275.8,223.7 275.5,220.9 277.9,216.0 277.2,211.2 276.0,207.0 275.1,204.2 271.6,200.0 272.3,197.2 272.6,194.0 271.2,192.3 267.4,192.6 265.3,190.0 263.2,189.7 260.4,190.2 256.2,191.9 252.7,191.3 248.5,192.5 246.4,191.6 242.9,189.1 240.6,186.7 240.1,184.9 238.0,183.3 235.7,181.2 234.5,178.1 235.9,176.3 236.2,172.1 235.2,169.3 236.6,165.6 238.7,162.3 240.8,159.8 243.6,158.4 245.3,156.8 245.4,154.7 247.8,152.2 249.9,150.8 250.8,148.7 251.6,148.5 254.8,149.4 257.6,148.8 261.1,147.7 263.2,147.3 268.8,147.0 273.0,146.6 274.4,147.0 273.7,149.1 273.3,151.2 275.1,152.3 277.4,152.7 280.4,153.6 283.5,155.5 286.2,156.2 286.9,154.0 289.0,152.7 291.1,153.1 293.9,154.5 297.4,155.1 299.5,155.5 300.9,155.0 302.3,154.7 304.1,155.1 304.4,156.8 M327.9,215.3 329.3,220.2 328.2,222.3 325.8,230.7 324.7,233.5 321.9,234.2 320.1,230.7 319.8,228.3 321.2,225.8 320.5,222.3 324.0,220.2 326.1,217.4 327.9,215.3 M440.9,155.0 443.0,154.7 443.2,151.9 444.1,150.8 447.6,150.4 448.6,151.9 450.4,150.4 452.9,150.2 454.3,149.8 455.7,148.8 456.0,145.6 457.4,143.4 456.6,140.9 454.6,141.8 454.6,144.2 452.5,146.6 450.4,147.0 450.0,148.0 449.0,148.8 444.8,149.1 442.0,150.8 440.6,151.9 440.2,153.0 440.9,155.0 M411.3,196.5 413.1,196.2 414.8,194.7 416.9,193.7 419.7,191.6 422.1,188.8 423.5,189.8 425.3,191.3 423.9,192.6 423.6,195.1 425.3,197.2 423.2,198.6 421.8,201.4 421.1,204.2 419.0,204.2 416.9,203.1 415.1,203.2 413.0,202.5 412.7,200.4 411.3,199.0 411.3,196.5 M392.2,190.8 395.2,191.3 398.7,194.7 402.9,197.9 405.0,201.4 407.1,203.5 406.8,206.7 405.0,206.7 401.9,204.2 399.4,200.7 396.9,196.2 394.5,194.0 392.2,190.8 M406.0,208.1 407.8,207.0 410.6,207.8 413.7,207.5 416.5,208.4 419.0,209.5 418.8,210.7 414.1,210.2 409.9,209.5 407.7,208.9 406.0,208.1 M442.0,199.7 444.1,199.2 446.2,199.7 447.6,203.2 451.5,200.7 456.0,202.2 460.9,203.9 463.0,206.3 465.5,207.2 464.4,208.4 466.5,211.2 469.3,213.0 467.9,213.0 464.4,211.8 460.2,209.3 458.8,211.4 456.0,211.3 453.2,209.9 451.8,210.3 453.1,208.4 451.8,206.3 448.3,204.7 444.8,204.3 444.6,202.5 446.2,201.8 443.4,201.7 442.0,200.4 442.0,199.7 M458.1,213.5 459.5,218.1 462.0,219.5 463.0,224.4 466.5,226.5 469.3,230.0 472.8,234.2 473.5,238.3 472.1,243.9 470.0,246.0 468.6,250.5 465.8,251.3 463.4,253.0 460.9,251.9 456.0,251.9 453.9,248.8 451.8,248.2 451.4,244.6 449.0,247.1 448.3,247.0 446.2,244.2 442.7,242.5 437.8,243.2 432.3,244.6 431.6,246.0 426.7,246.0 423.9,247.4 420.0,246.4 420.7,242.9 419.0,238.3 417.6,234.9 418.3,229.3 421.8,227.5 425.3,226.5 428.8,225.1 429.7,223.0 431.6,222.3 433.7,219.5 436.4,218.1 438.5,219.5 440.2,219.2 440.9,216.4 443.4,214.4 448.3,215.3 450.0,215.6 448.7,218.8 451.1,220.9 453.9,223.0 455.7,222.7 456.7,218.1 457.0,216.0 458.1,213.5 M500.3,246.6 502.8,248.8 504.9,250.9 508.1,251.2 506.3,253.7 505.2,255.8 503.5,256.5 503.2,254.4 501.8,253.4 503.1,251.6 502.5,249.5 500.3,246.6 M500.3,255.2 502.4,256.5 500.4,259.3 497.9,261.4 497.2,262.7 494.4,263.6 491.6,262.7 493.7,260.4 497.2,258.6 499.3,255.8 500.3,255.2 M140.2,168.2 143.7,166.5 147.2,166.5 151.4,168.6 155.3,170.4 150.7,170.9 150.0,169.7 145.8,167.9 143.0,167.9 140.2,168.2 M7.5,308.1 28.5,307.8 38.2,306.3 49.4,305.3 63.4,303.2 77.4,302.2 91.3,301.5 105.3,302.5 115.1,302.5 119.3,299.7 126.3,300.4 133.2,300.1 147.2,300.7 154.2,299.0 161.2,299.0 164.0,294.8 166.8,291.3 171.0,289.0 176.6,286.9 179.4,287.1 174.5,289.2 173.1,293.4 173.8,297.6 173.8,302.1 178.0,303.2 189.1,304.6 200.3,305.6 210.1,305.3 219.9,303.9 231.1,301.1 242.2,298.3 252.0,297.3 259.0,296.2 273.0,296.2 286.9,296.2 300.9,294.8 307.9,294.8 314.9,294.1 328.9,292.0 335.8,290.6 342.8,292.4 356.8,293.4 361.0,295.5 368.0,293.4 377.8,291.3 384.8,291.3 398.7,290.6 412.7,290.6 426.7,291.7 440.6,290.6 454.6,291.3 461.6,292.0 468.6,293.8 482.6,295.5 489.5,296.9 497.9,298.3 496.5,301.1 489.5,303.2 488.1,306.7 492.3,307.6 510.5,308.1" fill="none" stroke="#000" stroke-width="1.8" stroke-linejoin="round" stroke-linecap="round"/>
<path d="M129.1,112.8 127.0,114.9 127.4,116.6 129.8,119.1 133.2,119.1 136.0,119.8 140.2,121.5 144.0,121.8 144.4,124.7 146.5,127.1 148.6,126.8 148.9,123.3 151.8,120.5 149.3,116.7 150.7,114.9 150.0,111.6 M156.0,111.6 161.2,113.5 161.9,116.3 164.0,117.4 167.5,115.2 168.7,114.5 172.4,118.4 175.2,121.2 178.7,123.3 181.2,125.8 180.1,126.8 176.6,128.5 169.6,128.5 166.1,128.6 M27.8,112.8 32.7,114.9 33.3,116.7 38.9,116.6 35.4,120.5 31.3,121.9 38.2,119.8 43.8,117.3 47.3,113.8 49.4,115.6 55.0,113.8 62.0,114.9 67.6,117.0 72.5,120.5 76.7,122.6 80.2,126.1 84.3,128.9 M266.0,112.1 266.0,115.6 268.8,117.7 273.7,116.0 275.1,117.7 276.7,120.5 279.0,121.2 282.1,119.8 284.2,116.3 283.0,113.5 M289.0,111.4 288.8,113.8 291.1,115.1 296.7,114.2 300.9,114.9 298.1,115.6 292.5,115.8 291.8,117.7 292.5,118.8 288.3,119.8 288.3,122.2 285.1,122.7 278.6,123.3 274.4,123.3 273.0,122.2 273.7,118.4 270.2,119.1 270.6,121.9 271.3,123.4 268.8,124.0 265.7,124.7 263.9,126.9 261.5,127.6 259.3,129.4 M503.5,112.4 497.2,114.9 490.9,114.9 487.4,117.0 486.7,119.1 485.3,122.2 480.5,125.4 477.9,127.5 476.5,124.7 476.7,120.5 479.8,117.4 484.7,114.2 488.1,111.4 M482.6,112.4 477.9,112.8 475.6,115.6 470.0,115.6 463.0,115.8 458.8,115.9 454.6,118.4 451.1,121.9 450.4,123.3 455.3,124.0 456.4,126.1 455.3,128.9" fill="none" stroke="#000" stroke-width="2.5" stroke-linejoin="round" stroke-linecap="round"/>
<path d="M24.3,107.1 29.9,105.9 32.7,106.3 30.6,105.2 26.4,103.4 31.3,101.7 35.4,100.2 40.3,99.2 46.6,99.9 52.2,100.4 59.2,101.0 64.8,101.7 70.4,102.0 76.0,101.0 80.2,100.7 84.3,101.8 89.9,101.3 95.5,102.4 98.3,104.1 105.3,103.9 108.1,104.5 109.5,103.4 115.1,103.8 122.1,103.1 124.9,98.9 128.4,98.9 129.8,101.7 133.2,102.8 136.0,103.8 138.8,101.7 140.2,101.3 145.1,102.4 144.4,104.5 144.4,105.9 138.1,106.1 137.4,108.0 136.0,109.4 132.6,110.1 129.1,112.8 M150.0,111.6 156.0,111.6 M24.3,107.1 28.5,108.7 34.0,108.7 34.0,110.1 29.2,110.8 27.8,112.8 M295.0,99.5 286.9,101.0 280.0,103.4 275.8,107.3 271.6,110.1 266.0,112.1 M283.0,113.5 288.3,109.4 290.4,106.8 293.9,108.0 289.0,111.4 M295.0,99.5 298.1,99.6 302.3,101.0 307.9,102.1 316.3,105.2 314.9,106.6 305.1,105.9 307.9,108.9 310.7,109.5 314.9,108.5 317.7,106.0 320.5,103.1 323.3,103.8 325.4,105.2 333.1,103.1 335.8,103.1 342.8,102.4 348.4,102.0 352.6,103.1 352.6,99.6 355.4,96.8 360.3,97.1 359.6,101.0 361.0,104.5 362.4,102.4 363.8,98.2 368.0,97.8 371.5,96.1 380.6,94.0 391.7,92.3 404.3,90.3 408.5,91.9 416.9,92.6 415.5,95.7 423.9,96.4 436.4,96.1 440.6,99.6 444.8,98.9 454.6,97.5 461.6,97.9 468.6,98.9 475.6,99.6 482.6,101.0 486.7,101.4 496.5,101.0 504.9,101.3 510.5,102.4 M7.5,102.4 14.5,104.5 21.5,106.6 17.3,108.7 10.3,107.3 7.5,107.7 M510.5,107.7 507.0,108.4 509.1,111.4 503.5,112.4 M488.1,111.4 482.6,112.4" fill="none" stroke="#000" stroke-width="2.9" stroke-linejoin="round" stroke-linecap="round"/>
<path d="M168.2,255.8 170.0,257.9 167.8,261.4 164.7,263.4 167.1,264.8 162.6,269.0 163.4,271.7 167.9,274.9 165.0,276.5 159.8,274.6 154.9,271.8 153.5,266.9 154.9,262.7 156.3,257.2" fill="none" stroke="#000" stroke-width="3.0" stroke-linejoin="round" stroke-linecap="round"/>
<path d="M157.0,89.1 164.0,86.3 175.2,84.3 196.1,82.9 217.1,82.2 231.1,84.3 242.2,85.0 233.8,88.4 232.5,92.6 229.7,96.8 228.3,100.3 221.3,103.1 212.9,104.5 205.9,107.0 202.4,108.7 199.6,112.1 197.5,115.1 191.9,113.5 187.7,109.4 184.2,105.2 183.5,101.7 187.7,101.0 182.2,98.2 178.0,93.3 166.8,92.6 159.8,90.8 157.0,89.1" fill="none" stroke="#000" stroke-width="3.2" stroke-linejoin="round" stroke-linecap="round"/>
<path d="M225.5,107.3 228.3,106.0 233.8,106.3 238.7,106.1 240.0,108.0 236.6,109.4 232.5,110.2 227.6,109.4 225.5,108.1Z M251.7,128.9 254.1,128.2 260.8,127.2 261.4,125.1 259.4,124.7 258.7,123.3 256.9,121.9 256.2,120.5 255.1,120.1 256.2,118.1 253.4,118.3 254.8,116.9 252.0,116.9 250.6,118.4 251.3,120.5 252.3,121.9 254.8,122.2 254.8,124.1 252.7,124.4 252.7,126.1 251.7,126.5 254.8,126.9 253.0,127.5Z M250.6,125.8 250.6,123.3 250.9,121.9 248.5,121.5 247.1,122.6 245.0,123.3 245.7,125.4 245.0,126.6 247.8,126.5Z M455.0,140.7 456.0,139.3 459.2,140.0 462.3,138.2 460.6,137.2 457.4,135.3 456.8,137.9 455.0,138.4Z M457.4,122.9 459.1,125.4 459.5,128.9 458.8,132.4 459.5,134.2 457.4,134.5 457.4,131.7 457.7,128.2 457.0,125.4Z M428.1,163.5 429.3,164.4 427.8,167.9 426.8,166.1Z M413.4,170.7 414.1,171.7 412.0,173.1 410.9,171.8Z M370.8,185.1 373.3,188.1 371.8,190.2 370.5,188.8Z M427.4,172.8 429.7,172.9 429.2,176.3 432.3,180.5 429.5,179.5 427.5,178.7 426.9,176.3Z M434.4,184.9 435.7,188.1 434.4,190.2 432.3,188.8 429.5,188.8 431.6,186.6Z M432.7,181.2 434.5,181.6 433.9,184.2 432.5,183.5Z M429.5,182.1 431.1,182.6 431.1,185.4 429.7,184.7Z M426.0,182.8 422.8,186.9 423.3,187.2 426.4,183.5Z M419.7,210.2 422.5,210.2 425.3,210.3 428.1,210.5 430.9,210.3 430.9,210.9 426.7,211.2 422.5,211.2 419.7,210.9Z M431.6,213.0 433.7,211.2 436.7,210.3 435.7,211.4 433.0,212.8Z M426.4,197.5 427.8,196.8 431.6,197.3 433.7,196.4 433.0,198.0 428.1,198.0 426.9,199.9 428.9,199.9 431.3,199.7 429.5,201.1 429.9,203.2 430.9,205.3 429.5,205.3 428.5,203.2 427.2,202.5 427.2,206.3 426.0,206.3 426.0,203.5 425.0,202.4 426.4,198.7Z M437.1,195.8 438.5,196.5 438.3,199.3 437.1,197.9Z M437.8,202.8 441.3,202.8 441.3,203.8 437.8,203.5Z M466.5,206.3 469.3,206.3 471.7,204.5 471.4,206.0 469.3,207.4 466.5,207.0Z M461.2,255.4 466.1,255.5 465.8,258.6 463.7,259.4 461.9,257.6Z M155.0,171.0 158.4,170.9 161.5,171.4 163.4,172.7 161.2,173.1 159.1,173.8 155.2,172.9 157.7,172.5Z M149.6,172.9 152.4,173.4 152.1,173.8 149.7,173.5Z M165.1,172.8 167.2,172.9 167.1,173.5 165.1,173.5Z M176.1,132.1 178.7,128.2 181.2,126.8 184.2,131.0 185.4,132.8 183.5,133.5 180.8,133.1Z M79.7,127.8 84.3,128.9 86.4,131.0 83.6,130.6Z M73.2,123.2 75.0,123.6 75.7,125.8 74.1,125.0Z M43.1,118.4 46.2,117.7 45.9,118.8 43.8,119.4Z M173.1,106.6 168.2,109.4 165.4,110.8 161.2,111.4 154.9,108.7 150.0,108.0 155.6,106.6 156.3,103.8 150.0,101.7 144.4,101.0 136.0,99.6 133.2,96.8 140.2,95.7 147.2,96.8 151.4,97.4 158.4,98.9 164.0,101.0 165.4,103.1 172.4,105.2Z M95.5,101.0 102.5,103.1 112.3,102.7 117.9,101.7 113.7,99.6 112.3,96.8 105.3,97.1 98.3,96.5 92.7,98.9Z M84.3,98.2 87.1,99.6 91.3,98.9 96.9,96.8 94.1,95.0 85.7,95.0Z M133.2,91.9 147.2,92.3 152.8,89.8 161.2,87.0 172.4,84.3 161.2,82.9 147.2,82.9 133.2,84.3 130.5,86.3 138.8,88.4 134.6,90.5Z M130.5,94.7 147.2,94.6 147.2,92.9 133.2,91.9 124.9,92.2Z M95.5,94.0 110.9,94.0 112.3,92.3 105.3,91.9 96.9,91.9Z M116.5,94.0 123.5,94.0 123.5,91.8 116.5,91.8Z M116.5,98.9 123.5,98.9 123.5,95.7 117.9,95.7Z M125.6,98.2 132.6,98.2 132.6,95.7 125.6,95.4Z M126.3,89.6 136.0,89.1 136.0,86.3 127.7,85.2 124.9,87.0Z M113.7,90.5 122.1,90.5 122.1,88.4 113.7,88.4Z M87.1,92.6 95.5,92.6 96.9,90.8 89.9,90.5Z M120.0,102.9 124.9,102.9 125.6,101.5 121.4,101.1Z M137.4,109.8 141.6,110.8 145.8,109.6 146.5,108.2 141.6,106.8 138.8,107.3Z M147.2,105.2 154.2,105.2 154.2,103.4 148.6,103.1Z M274.4,88.4 280.0,91.5 285.5,91.2 289.7,89.1 296.7,87.0 286.9,86.3 277.2,87.3Z M324.7,86.6 335.8,87.0 345.6,86.3 342.8,85.0 328.9,85.6Z M331.7,99.9 335.8,100.0 339.3,98.2 337.2,95.4 342.8,93.3 351.2,91.5 355.4,91.5 345.6,93.3 340.7,95.4 335.8,97.5 332.4,98.5Z M393.1,88.4 398.7,89.8 405.7,89.1 402.9,87.0 394.5,85.6 390.3,87.0Z M450.4,93.3 458.8,94.0 468.6,94.0 465.8,92.6 454.6,92.6Z M508.4,99.3 510.5,98.9 510.5,99.7Z M87.1,107.7 91.3,105.2 94.8,106.3 92.7,108.0Z M95.5,113.5 99.7,111.7 105.3,111.0 103.2,112.8 99.0,113.5Z M103.9,116.3 110.9,115.8 110.9,116.3 105.3,116.9Z M120.7,124.0 122.1,128.2 124.4,128.2 122.8,123.6Z M130.5,133.5 134.6,131.7 138.8,132.4 140.9,133.8 137.4,133.8 133.2,133.5Z M136.3,140.0 138.4,140.0 140.2,134.9 137.4,135.2Z M140.9,134.5 145.8,134.7 147.2,136.5 143.9,138.6 142.3,137.2Z M142.5,140.7 148.6,139.2 148.6,138.6 143.0,140.0Z M147.6,138.2 152.4,137.1 152.1,137.9Z M303.7,198.2 306.5,198.6 305.8,202.1 303.4,202.1Z M299.9,203.5 300.6,206.3 302.2,210.5 301.3,210.5 299.8,206.3Z M306.5,211.8 307.3,213.9 307.9,218.5 307.1,218.1 306.5,213.9Z M277.6,179.4 279.3,179.4 279.5,181.2 278.0,181.0Z M340.7,135.2 342.8,133.5 344.9,134.5 344.2,137.2 341.4,137.8 340.5,136.5Z M361.7,135.2 363.8,133.5 369.4,133.8 368.7,134.7 363.8,135.6Z M403.9,126.8 407.1,125.8 411.3,123.3 412.7,120.8 411.3,120.9 409.2,124.0 405.0,126.1Z M301.3,114.9 304.8,114.5 304.4,112.8 301.6,113.1Z M307.2,113.5 309.3,113.3 309.3,111.3 307.6,111.6Z M154.2,294.8 161.2,294.8 162.6,299.0 155.6,299.7Z M159.8,272.2 163.4,271.9 167.9,274.9 165.0,276.5 159.1,274.7 156.3,272.9Z" fill="#000" stroke="#000" stroke-width="1.7" stroke-linejoin="round"/></g></g>
<rect x="7.5" y="73.1" width="503.0" height="251.0" fill="none" stroke="#06062a" stroke-width="1.3"/>
<rect x="541.0" y="53.0" width="30.0" height="291.5" fill="url(#cb)" stroke="#1c1010" stroke-width="1.5"/>
<g filter="url(#soft2)" stroke="#1a1a1a" stroke-width="0.65">
<line x1="567.0" y1="344.5" x2="571.0" y2="344.5" stroke="#000" stroke-width="1"/>
<text x="577.5" y="350.9" font-size="16.3" text-anchor="start" textLength="10.4" lengthAdjust="spacingAndGlyphs">0</text>
<line x1="567.0" y1="310.2" x2="571.0" y2="310.2" stroke="#000" stroke-width="1"/>
<text x="577.5" y="316.6" font-size="16.3" text-anchor="start" textLength="10.4" lengthAdjust="spacingAndGlyphs">2</text>
<line x1="567.0" y1="275.9" x2="571.0" y2="275.9" stroke="#000" stroke-width="1"/>
<text x="577.5" y="282.3" font-size="16.3" text-anchor="start" textLength="10.4" lengthAdjust="spacingAndGlyphs">4</text>
<line x1="567.0" y1="241.6" x2="571.0" y2="241.6" stroke="#000" stroke-width="1"/>
<text x="577.5" y="248.0" font-size="16.3" text-anchor="start" textLength="10.4" lengthAdjust="spacingAndGlyphs">6</text>
<line x1="567.0" y1="207.3" x2="571.0" y2="207.3" stroke="#000" stroke-width="1"/>
<text x="577.5" y="213.7" font-size="16.3" text-anchor="start" textLength="10.4" lengthAdjust="spacingAndGlyphs">8</text>
<line x1="567.0" y1="173.0" x2="571.0" y2="173.0" stroke="#000" stroke-width="1"/>
<text x="577.5" y="179.4" font-size="16.3" text-anchor="start" textLength="20.8" lengthAdjust="spacingAndGlyphs">10</text>
<line x1="567.0" y1="138.7" x2="571.0" y2="138.7" stroke="#000" stroke-width="1"/>
<text x="577.5" y="145.1" font-size="16.3" text-anchor="start" textLength="20.8" lengthAdjust="spacingAndGlyphs">12</text>
<line x1="567.0" y1="104.4" x2="571.0" y2="104.4" stroke="#000" stroke-width="1"/>
<text x="577.5" y="110.8" font-size="16.3" text-anchor="start" textLength="20.8" lengthAdjust="spacingAndGlyphs">14</text>
<line x1="567.0" y1="70.1" x2="571.0" y2="70.1" stroke="#000" stroke-width="1"/>
<text x="577.5" y="76.5" font-size="16.3" text-anchor="start" textLength="20.8" lengthAdjust="spacingAndGlyphs">16</text>
<text x="35.2" y="31.2" font-size="14.2" text-anchor="start" textLength="49.5" lengthAdjust="spacingAndGlyphs">GDGPS</text>
<text x="90.0" y="31.2" font-size="14.2" text-anchor="start" textLength="53.5" lengthAdjust="spacingAndGlyphs">Vertical</text>
<text x="148.7" y="31.2" font-size="14.2" text-anchor="start" textLength="79.5" lengthAdjust="spacingAndGlyphs">Ionospheric</text>
<text x="234.6" y="31.2" font-size="14.2" text-anchor="start" textLength="37.5" lengthAdjust="spacingAndGlyphs">Delay</text>
<text x="278.5" y="31.2" font-size="14.2" text-anchor="start" textLength="12.9" lengthAdjust="spacingAndGlyphs">at</text>
<text x="297.1" y="31.2" font-size="14.2" text-anchor="start" textLength="87.6" lengthAdjust="spacingAndGlyphs">04-Apr-2014</text>
<text x="391.1" y="31.2" font-size="14.2" text-anchor="start" textLength="60.5" lengthAdjust="spacingAndGlyphs">19:00:00</text>
<text x="458.0" y="31.2" font-size="14.2" text-anchor="start" textLength="27.5" lengthAdjust="spacingAndGlyphs">UTC</text>
<text x="206.6" y="49.5" font-size="14.2" text-anchor="start" textLength="13.4" lengthAdjust="spacingAndGlyphs">In</text>
<text x="224.0" y="49.5" font-size="14.2" text-anchor="start" textLength="48.1" lengthAdjust="spacingAndGlyphs">meters</text>
<text x="277.8" y="49.5" font-size="14.2" text-anchor="start" textLength="13.6" lengthAdjust="spacingAndGlyphs">at</text>
<text x="297.0" y="49.5" font-size="14.2" text-anchor="start" textLength="13.6" lengthAdjust="spacingAndGlyphs">L1</text>
<text x="203.7" y="361.4" font-size="14.2" text-anchor="start" textLength="69.5" lengthAdjust="spacingAndGlyphs">Longitude</text>
<text x="279.9" y="361.4" font-size="14.2" text-anchor="start" textLength="35.9" lengthAdjust="spacingAndGlyphs">(deg)</text>
<text x="9.5" y="342.0" font-size="16.3" text-anchor="middle" textLength="39.3" lengthAdjust="spacingAndGlyphs">180°</text>
<text x="93.3" y="342.0" font-size="16.3" text-anchor="middle" textLength="55.4" lengthAdjust="spacingAndGlyphs">120°W</text>
<text x="177.2" y="342.0" font-size="16.3" text-anchor="middle" textLength="45.0" lengthAdjust="spacingAndGlyphs">60°W</text>
<text x="261.0" y="342.0" font-size="16.3" text-anchor="middle" textLength="18.5" lengthAdjust="spacingAndGlyphs">0°</text>
<text x="344.8" y="342.0" font-size="16.3" text-anchor="middle" textLength="39.2" lengthAdjust="spacingAndGlyphs">60°E</text>
<text x="428.7" y="342.0" font-size="16.3" text-anchor="middle" textLength="49.6" lengthAdjust="spacingAndGlyphs">120°E</text>
<text x="512.5" y="342.0" font-size="16.3" text-anchor="middle" textLength="39.3" lengthAdjust="spacingAndGlyphs">180°</text>
<text x="3.7" y="79.1" font-size="16.3" text-anchor="end" textLength="41.1" lengthAdjust="spacingAndGlyphs">90°N</text>
<text x="3.7" y="120.9" font-size="16.3" text-anchor="end" textLength="41.1" lengthAdjust="spacingAndGlyphs">60°N</text>
<text x="3.7" y="162.8" font-size="16.3" text-anchor="end" textLength="41.1" lengthAdjust="spacingAndGlyphs">30°N</text>
<text x="3.7" y="204.6" font-size="16.3" text-anchor="end" textLength="18.5" lengthAdjust="spacingAndGlyphs">0°</text>
<text x="3.7" y="246.4" font-size="16.3" text-anchor="end" textLength="39.2" lengthAdjust="spacingAndGlyphs">30°S</text>
<text x="3.7" y="288.3" font-size="16.3" text-anchor="end" textLength="39.2" lengthAdjust="spacingAndGlyphs">60°S</text>
<text x="3.7" y="330.1" font-size="16.3" text-anchor="end" textLength="39.2" lengthAdjust="spacingAndGlyphs">90°S</text>
</g>
<g><circle cx="153.3" cy="216" r="4.6" fill="#fff" stroke="#222" stroke-width="1"/><path d="M150.6,216h5.4M153.3,213.3v5.4" stroke="#000" stroke-width="1.5"/></g>
</svg>
</body></html>
